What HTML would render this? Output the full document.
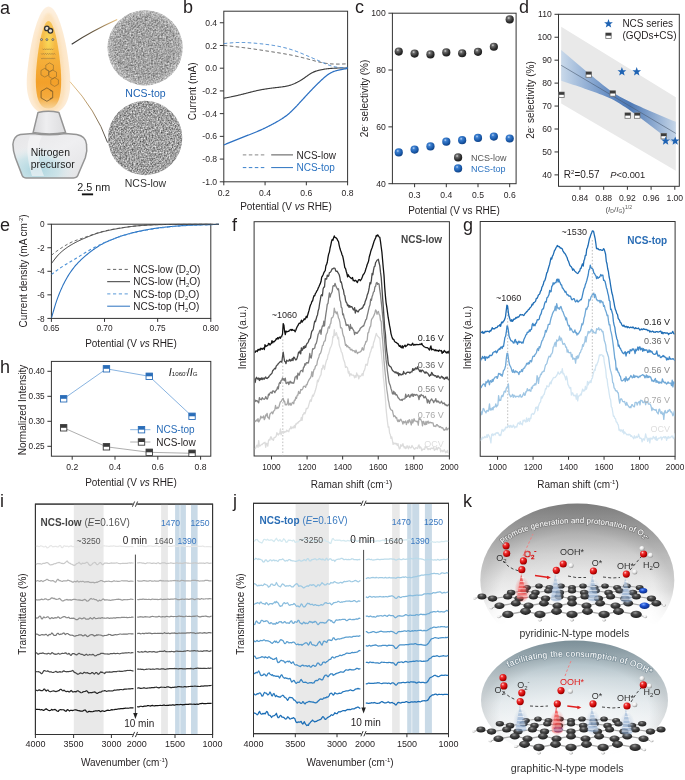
<!DOCTYPE html>
<html><head><meta charset="utf-8"><style>
html,body{margin:0;padding:0;background:#fff;}
svg{display:block;will-change:transform;}
text{font-family:"Liberation Sans", sans-serif;}
</style></head><body>
<svg width="685" height="780" viewBox="0 0 685 780">
<defs><clipPath id="clipb"><rect x="223.8" y="11.2" width="123.80000000000001" height="170.60000000000002"/></clipPath>
<radialGradient id="sphk" cx="0.38" cy="0.32" r="0.7"><stop offset="0" stop-color="#d8d8d8"/><stop offset="0.25" stop-color="#6a6a6a"/><stop offset="0.7" stop-color="#2e2e2e"/><stop offset="1" stop-color="#1a1a1a"/></radialGradient>
<radialGradient id="sphb" cx="0.38" cy="0.32" r="0.7"><stop offset="0" stop-color="#bcd6f5"/><stop offset="0.25" stop-color="#3c7fd0"/><stop offset="0.7" stop-color="#1a5aaa"/><stop offset="1" stop-color="#0e3f82"/></radialGradient>
<clipPath id="clipd"><rect x="558.5" y="14.3" width="120.79999999999995" height="172.0"/></clipPath>
<linearGradient id="dband" x1="561" y1="0" x2="676" y2="0" gradientUnits="userSpaceOnUse"><stop offset="0" stop-color="#c9d9ea"/><stop offset="0.45" stop-color="#5d86bf"/><stop offset="0.6" stop-color="#4e79b5"/><stop offset="1" stop-color="#c6d6e8"/></linearGradient>
<clipPath id="clipe"><rect x="51.4" y="223.2" width="168.4" height="95.19999999999999"/></clipPath>
<clipPath id="clipf"><rect x="254.6" y="222.2" width="194.29999999999998" height="233.3"/></clipPath>
<clipPath id="clipg"><rect x="480.7" y="222.0" width="193.90000000000003" height="233.8"/></clipPath>
<radialGradient id="flo" cx="0.5" cy="0.6" r="0.6"><stop offset="0" stop-color="#fbdcae"/><stop offset="0.7" stop-color="#fde8cc"/><stop offset="1" stop-color="#fdf0e0"/></radialGradient>
<linearGradient id="fli" x1="0" y1="0" x2="0" y2="1"><stop offset="0" stop-color="#f7c456"/><stop offset="0.3" stop-color="#f6b842"/><stop offset="0.7" stop-color="#f3a02a"/><stop offset="0.87" stop-color="#f4aa3c"/><stop offset="1" stop-color="#f8d49a"/></linearGradient>
<radialGradient id="flh" cx="0.5" cy="0.3" r="0.5"><stop offset="0" stop-color="#f9dc5a" stop-opacity="0.9"/><stop offset="1" stop-color="#f9dc5a" stop-opacity="0"/></radialGradient>
<linearGradient id="neck" x1="0" y1="0" x2="1" y2="0"><stop offset="0" stop-color="#d8d8da"/><stop offset="0.4" stop-color="#eeeef0"/><stop offset="1" stop-color="#dcdcde"/></linearGradient>
<linearGradient id="bot" x1="0" y1="0" x2="1" y2="1"><stop offset="0" stop-color="#e6e6e8"/><stop offset="0.5" stop-color="#efeff1"/><stop offset="1" stop-color="#e2e2e4"/></linearGradient>
<radialGradient id="botc" cx="0.32" cy="0.82" r="0.55"><stop offset="0" stop-color="#a9d4de"/><stop offset="0.55" stop-color="#c6e2e8" stop-opacity="0.8"/><stop offset="1" stop-color="#e8f0f2" stop-opacity="0"/></radialGradient>
<linearGradient id="ln1" x1="71.7" y1="44.2" x2="117" y2="20" gradientUnits="userSpaceOnUse"><stop offset="0" stop-color="#333"/><stop offset="0.5" stop-color="#6b5a40"/><stop offset="1" stop-color="#e8c080"/></linearGradient>
<linearGradient id="ln2" x1="70" y1="81.7" x2="107.5" y2="142.5" gradientUnits="userSpaceOnUse"><stop offset="0" stop-color="#e8c080"/><stop offset="0.5" stop-color="#a08050"/><stop offset="1" stop-color="#333"/></linearGradient>
<filter id="tem1" x="0" y="0" width="1" height="1" color-interpolation-filters="sRGB"><feTurbulence type="fractalNoise" baseFrequency="0.6" numOctaves="2" seed="4"/><feColorMatrix type="matrix" values="0.7 0 0 0 0.29  0.7 0 0 0 0.29  0.7 0 0 0 0.29  0 0 0 0 1"/><feGaussianBlur stdDeviation="0.35"/></filter>
<filter id="tem2" x="0" y="0" width="1" height="1" color-interpolation-filters="sRGB"><feTurbulence type="fractalNoise" baseFrequency="0.65" numOctaves="2" seed="9"/><feColorMatrix type="matrix" values="0.9 0 0 0 0.18  0.9 0 0 0 0.18  0.9 0 0 0 0.18  0 0 0 0 1"/><feGaussianBlur stdDeviation="0.3"/></filter>
<clipPath id="c1"><circle cx="145.1" cy="47.8" r="37.6"/></clipPath>
<clipPath id="c2"><circle cx="145.1" cy="138" r="37.2"/></clipPath>
<radialGradient id="temring" cx="0.5" cy="0.5" r="0.5"><stop offset="0.8" stop-color="#fff" stop-opacity="0"/><stop offset="1" stop-color="#fff" stop-opacity="0.25"/></radialGradient>
<filter id="blur1" x="-0.3" y="-0.3" width="1.6" height="1.6"><feGaussianBlur stdDeviation="1.6"/></filter>
<filter id="blur2" x="-0.3" y="-0.3" width="1.6" height="1.6"><feGaussianBlur stdDeviation="0.8"/></filter>
<filter id="blur3" x="-0.3" y="-0.3" width="1.6" height="1.6"><feGaussianBlur stdDeviation="0.5"/></filter>
<linearGradient id="dome1" x1="0" y1="503" x2="0" y2="625" gradientUnits="userSpaceOnUse"><stop offset="0" stop-color="#8a8a8a"/><stop offset="0.18" stop-color="#a6a6a6"/><stop offset="0.42" stop-color="#cdcdcd"/><stop offset="0.65" stop-color="#e6e6e6"/><stop offset="0.85" stop-color="#f6f6f6"/><stop offset="1" stop-color="#ffffff"/></linearGradient>
<linearGradient id="dome2" x1="0" y1="640" x2="0" y2="760" gradientUnits="userSpaceOnUse"><stop offset="0" stop-color="#889ea8"/><stop offset="0.13" stop-color="#a6b8c0"/><stop offset="0.32" stop-color="#ccd7dc"/><stop offset="0.52" stop-color="#e4eaed"/><stop offset="0.75" stop-color="#f4f6f7"/><stop offset="1" stop-color="#ffffff"/></linearGradient>
<radialGradient id="domeh" cx="0.5" cy="0.72" r="0.5"><stop offset="0" stop-color="#fff" stop-opacity="0.55"/><stop offset="0.7" stop-color="#fff" stop-opacity="0.15"/><stop offset="1" stop-color="#fff" stop-opacity="0"/></radialGradient>
<radialGradient id="domer" cx="0.5" cy="0.6" r="0.5"><stop offset="0.8" stop-color="#000" stop-opacity="0"/><stop offset="1" stop-color="#000" stop-opacity="0.10"/></radialGradient>
<linearGradient id="fadeA" x1="0" y1="590" x2="0" y2="626" gradientUnits="userSpaceOnUse"><stop offset="0" stop-color="#fff"/><stop offset="1" stop-color="#000"/></linearGradient>
<linearGradient id="fadeB" x1="0" y1="724" x2="0" y2="760" gradientUnits="userSpaceOnUse"><stop offset="0" stop-color="#fff"/><stop offset="1" stop-color="#000"/></linearGradient>
<mask id="mA" maskUnits="userSpaceOnUse" x="470" y="495" width="215" height="140"><rect x="470" y="495" width="215" height="140" fill="url(#fadeA)"/></mask>
<mask id="mB" maskUnits="userSpaceOnUse" x="470" y="630" width="215" height="150"><rect x="470" y="630" width="215" height="150" fill="url(#fadeB)"/></mask>
<radialGradient id="oat" cx="0.35" cy="0.3" r="0.7"><stop offset="0" stop-color="#ffd0d0"/><stop offset="0.3" stop-color="#f03030"/><stop offset="0.8" stop-color="#c00000"/><stop offset="1" stop-color="#900000"/></radialGradient>
<radialGradient id="hat" cx="0.35" cy="0.3" r="0.7"><stop offset="0" stop-color="#ffffff"/><stop offset="0.55" stop-color="#e8e8e8"/><stop offset="1" stop-color="#9a9a9a"/></radialGradient>
<radialGradient id="cat" cx="0.42" cy="0.3" r="0.72"><stop offset="0" stop-color="#9a9a9a"/><stop offset="0.35" stop-color="#4a4a4a"/><stop offset="1" stop-color="#181818"/></radialGradient>
<radialGradient id="nat" cx="0.4" cy="0.3" r="0.7"><stop offset="0" stop-color="#7aa8ff"/><stop offset="0.4" stop-color="#1c4fd0"/><stop offset="1" stop-color="#0a2a80"/></radialGradient>
<linearGradient id="conered" x1="0" y1="0" x2="0" y2="1"><stop offset="0" stop-color="#f04040" stop-opacity="0.95"/><stop offset="1" stop-color="#f06060" stop-opacity="0.45"/></linearGradient>
<linearGradient id="coneblue" x1="0" y1="0" x2="0" y2="1"><stop offset="0" stop-color="#a4bcd8" stop-opacity="0.7"/><stop offset="1" stop-color="#88a6cc" stop-opacity="0.5"/></linearGradient>
<radialGradient id="coneglowb" cx="0.5" cy="0.6" r="0.5"><stop offset="0" stop-color="#8eaad0" stop-opacity="0.55"/><stop offset="1" stop-color="#8eaad0" stop-opacity="0"/></radialGradient>
<radialGradient id="coneglowr" cx="0.5" cy="0.6" r="0.5"><stop offset="0" stop-color="#f03a3a" stop-opacity="0.7"/><stop offset="1" stop-color="#f03a3a" stop-opacity="0"/></radialGradient>
<path id="arc1" d="M500,547 C526,516 628,514 658,548"/>
<path id="arc2" d="M506,669 C530,652 615,650 654,677"/></defs>
<text x="0" y="14" font-size="18" text-anchor="start" fill="#231f20">a</text>
<text x="183" y="13" font-size="18" text-anchor="start" fill="#231f20">b</text>
<text x="355" y="13" font-size="18" text-anchor="start" fill="#231f20">c</text>
<text x="519" y="13" font-size="18" text-anchor="start" fill="#231f20">d</text>
<text x="0" y="231" font-size="18" text-anchor="start" fill="#231f20">e</text>
<text x="232" y="231" font-size="18" text-anchor="start" fill="#231f20">f</text>
<text x="463" y="231" font-size="18" text-anchor="start" fill="#231f20">g</text>
<text x="0" y="373" font-size="18" text-anchor="start" fill="#231f20">h</text>
<text x="0" y="507" font-size="18" text-anchor="start" fill="#231f20">i</text>
<text x="233" y="507" font-size="18" text-anchor="start" fill="#231f20">j</text>
<text x="463" y="507" font-size="18" text-anchor="start" fill="#231f20">k</text>
<rect x="223.8" y="11.2" width="123.8" height="170.6" fill="none" stroke="#333" stroke-width="1"/>
<line x1="219.8" y1="22.76" x2="223.8" y2="22.76" stroke="#333" stroke-width="1"/>
<text x="217.1" y="25.86" font-size="8.6" text-anchor="end" fill="#231f20">0.4</text>
<line x1="219.8" y1="45.48" x2="223.8" y2="45.48" stroke="#333" stroke-width="1"/>
<text x="217.1" y="48.58" font-size="8.6" text-anchor="end" fill="#231f20">0.2</text>
<line x1="219.8" y1="68.2" x2="223.8" y2="68.2" stroke="#333" stroke-width="1"/>
<text x="217.1" y="71.3" font-size="8.6" text-anchor="end" fill="#231f20">0.0</text>
<line x1="219.8" y1="90.92" x2="223.8" y2="90.92" stroke="#333" stroke-width="1"/>
<text x="217.1" y="94.02" font-size="8.6" text-anchor="end" fill="#231f20">-0.2</text>
<line x1="219.8" y1="113.64" x2="223.8" y2="113.64" stroke="#333" stroke-width="1"/>
<text x="217.1" y="116.74" font-size="8.6" text-anchor="end" fill="#231f20">-0.4</text>
<line x1="219.8" y1="136.36" x2="223.8" y2="136.36" stroke="#333" stroke-width="1"/>
<text x="217.1" y="139.46" font-size="8.6" text-anchor="end" fill="#231f20">-0.6</text>
<line x1="219.8" y1="159.08" x2="223.8" y2="159.08" stroke="#333" stroke-width="1"/>
<text x="217.1" y="162.18" font-size="8.6" text-anchor="end" fill="#231f20">-0.8</text>
<line x1="219.8" y1="181.8" x2="223.8" y2="181.8" stroke="#333" stroke-width="1"/>
<text x="217.1" y="184.9" font-size="8.6" text-anchor="end" fill="#231f20">-1.0</text>
<line x1="223.8" y1="181.8" x2="223.8" y2="185.3" stroke="#333" stroke-width="1"/>
<text x="223.8" y="196" font-size="8.6" text-anchor="middle" fill="#231f20">0.2</text>
<line x1="265.07" y1="181.8" x2="265.07" y2="185.3" stroke="#333" stroke-width="1"/>
<text x="265.07" y="196" font-size="8.6" text-anchor="middle" fill="#231f20">0.4</text>
<line x1="306.33" y1="181.8" x2="306.33" y2="185.3" stroke="#333" stroke-width="1"/>
<text x="306.33" y="196" font-size="8.6" text-anchor="middle" fill="#231f20">0.6</text>
<line x1="347.6" y1="181.8" x2="347.6" y2="185.3" stroke="#333" stroke-width="1"/>
<text x="347.6" y="196" font-size="8.6" text-anchor="middle" fill="#231f20">0.8</text>
<text x="286" y="209.5" font-size="10" text-anchor="middle" fill="#231f20">Potential (V <tspan font-style="italic">vs</tspan> RHE)</text>
<text x="196.5" y="91.3" font-size="10" text-anchor="middle" fill="#231f20" transform="rotate(-90 196.5 91.3)">Current (mA)</text>
<rect x="392.4" y="13.2" width="123.7" height="170.5" fill="none" stroke="#333" stroke-width="1"/>
<line x1="388.4" y1="13.2" x2="392.4" y2="13.2" stroke="#333" stroke-width="1"/>
<text x="385.7" y="16.3" font-size="8.6" text-anchor="end" fill="#231f20">100</text>
<line x1="388.4" y1="70.03" x2="392.4" y2="70.03" stroke="#333" stroke-width="1"/>
<text x="385.7" y="73.13" font-size="8.6" text-anchor="end" fill="#231f20">80</text>
<line x1="388.4" y1="126.87" x2="392.4" y2="126.87" stroke="#333" stroke-width="1"/>
<text x="385.7" y="129.97" font-size="8.6" text-anchor="end" fill="#231f20">60</text>
<line x1="388.4" y1="183.7" x2="392.4" y2="183.7" stroke="#333" stroke-width="1"/>
<text x="385.7" y="186.8" font-size="8.6" text-anchor="end" fill="#231f20">40</text>
<line x1="414.6" y1="183.7" x2="414.6" y2="187.2" stroke="#333" stroke-width="1"/>
<text x="414.6" y="197.5" font-size="8.6" text-anchor="middle" fill="#231f20">0.3</text>
<line x1="446.3" y1="183.7" x2="446.3" y2="187.2" stroke="#333" stroke-width="1"/>
<text x="446.3" y="197.5" font-size="8.6" text-anchor="middle" fill="#231f20">0.4</text>
<line x1="478" y1="183.7" x2="478" y2="187.2" stroke="#333" stroke-width="1"/>
<text x="478" y="197.5" font-size="8.6" text-anchor="middle" fill="#231f20">0.5</text>
<line x1="509.7" y1="183.7" x2="509.7" y2="187.2" stroke="#333" stroke-width="1"/>
<text x="509.7" y="197.5" font-size="8.6" text-anchor="middle" fill="#231f20">0.6</text>
<text x="454" y="214" font-size="10" text-anchor="middle" fill="#231f20">Potential (V vs RHE)</text>
<text x="368" y="98.5" font-size="10" text-anchor="middle" fill="#231f20" transform="rotate(-90 368 98.5)">2e<tspan font-size="6" dy="-4">-</tspan><tspan dy="4"> selectivity (%)</tspan></text>
<rect x="558.5" y="14.3" width="120.8" height="172" fill="none" stroke="#333" stroke-width="1"/>
<line x1="554.5" y1="14.3" x2="558.5" y2="14.3" stroke="#333" stroke-width="1"/>
<text x="551.8" y="17.4" font-size="8.6" text-anchor="end" fill="#231f20">110</text>
<line x1="554.5" y1="37.24" x2="558.5" y2="37.24" stroke="#333" stroke-width="1"/>
<text x="551.8" y="40.34" font-size="8.6" text-anchor="end" fill="#231f20">100</text>
<line x1="554.5" y1="60.18" x2="558.5" y2="60.18" stroke="#333" stroke-width="1"/>
<text x="551.8" y="63.28" font-size="8.6" text-anchor="end" fill="#231f20">90</text>
<line x1="554.5" y1="83.12" x2="558.5" y2="83.12" stroke="#333" stroke-width="1"/>
<text x="551.8" y="86.22" font-size="8.6" text-anchor="end" fill="#231f20">80</text>
<line x1="554.5" y1="106.06" x2="558.5" y2="106.06" stroke="#333" stroke-width="1"/>
<text x="551.8" y="109.16" font-size="8.6" text-anchor="end" fill="#231f20">70</text>
<line x1="554.5" y1="129" x2="558.5" y2="129" stroke="#333" stroke-width="1"/>
<text x="551.8" y="132.1" font-size="8.6" text-anchor="end" fill="#231f20">60</text>
<line x1="554.5" y1="151.94" x2="558.5" y2="151.94" stroke="#333" stroke-width="1"/>
<text x="551.8" y="155.04" font-size="8.6" text-anchor="end" fill="#231f20">50</text>
<line x1="554.5" y1="174.88" x2="558.5" y2="174.88" stroke="#333" stroke-width="1"/>
<text x="551.8" y="177.98" font-size="8.6" text-anchor="end" fill="#231f20">40</text>
<line x1="580" y1="186.3" x2="580" y2="189.8" stroke="#333" stroke-width="1"/>
<text x="580" y="201" font-size="8.6" text-anchor="middle" fill="#231f20">0.84</text>
<line x1="603.7" y1="186.3" x2="603.7" y2="189.8" stroke="#333" stroke-width="1"/>
<text x="603.7" y="201" font-size="8.6" text-anchor="middle" fill="#231f20">0.88</text>
<line x1="627.4" y1="186.3" x2="627.4" y2="189.8" stroke="#333" stroke-width="1"/>
<text x="627.4" y="201" font-size="8.6" text-anchor="middle" fill="#231f20">0.92</text>
<line x1="651.1" y1="186.3" x2="651.1" y2="189.8" stroke="#333" stroke-width="1"/>
<text x="651.1" y="201" font-size="8.6" text-anchor="middle" fill="#231f20">0.96</text>
<line x1="674.8" y1="186.3" x2="674.8" y2="189.8" stroke="#333" stroke-width="1"/>
<text x="674.8" y="201" font-size="8.6" text-anchor="middle" fill="#231f20">1.00</text>
<text x="534" y="100" font-size="10" text-anchor="middle" fill="#231f20" transform="rotate(-90 534 100)">2e<tspan font-size="6" dy="-4">-</tspan><tspan dy="4"> selectivity (%)</tspan></text>
<rect x="51.4" y="224.2" width="159.4" height="94.2" fill="none" stroke="#333" stroke-width="1"/>
<line x1="47.4" y1="224.2" x2="51.4" y2="224.2" stroke="#333" stroke-width="1"/>
<text x="44.7" y="227.3" font-size="8.3" text-anchor="end" fill="#231f20">0</text>
<line x1="47.4" y1="247.75" x2="51.4" y2="247.75" stroke="#333" stroke-width="1"/>
<text x="44.7" y="250.85" font-size="8.3" text-anchor="end" fill="#231f20">-2</text>
<line x1="47.4" y1="271.3" x2="51.4" y2="271.3" stroke="#333" stroke-width="1"/>
<text x="44.7" y="274.4" font-size="8.3" text-anchor="end" fill="#231f20">-4</text>
<line x1="47.4" y1="294.85" x2="51.4" y2="294.85" stroke="#333" stroke-width="1"/>
<text x="44.7" y="297.95" font-size="8.3" text-anchor="end" fill="#231f20">-6</text>
<line x1="47.4" y1="318.4" x2="51.4" y2="318.4" stroke="#333" stroke-width="1"/>
<text x="44.7" y="321.5" font-size="8.3" text-anchor="end" fill="#231f20">-8</text>
<line x1="51.4" y1="318.4" x2="51.4" y2="321.9" stroke="#333" stroke-width="1"/>
<text x="51.4" y="330.5" font-size="8.3" text-anchor="middle" fill="#231f20">0.65</text>
<line x1="104.53" y1="318.4" x2="104.53" y2="321.9" stroke="#333" stroke-width="1"/>
<text x="104.53" y="330.5" font-size="8.3" text-anchor="middle" fill="#231f20">0.70</text>
<line x1="157.67" y1="318.4" x2="157.67" y2="321.9" stroke="#333" stroke-width="1"/>
<text x="157.67" y="330.5" font-size="8.3" text-anchor="middle" fill="#231f20">0.75</text>
<line x1="210.8" y1="318.4" x2="210.8" y2="321.9" stroke="#333" stroke-width="1"/>
<text x="210.8" y="330.5" font-size="8.3" text-anchor="middle" fill="#231f20">0.80</text>
<text x="131" y="347" font-size="10" text-anchor="middle" fill="#231f20">Potential (V <tspan font-style="italic">vs</tspan> RHE)</text>
<text x="27" y="271" font-size="10" text-anchor="middle" fill="#231f20" transform="rotate(-90 27 271)">Current density (mA cm<tspan font-size="6" dy="-4">-2</tspan><tspan dy="4">)</tspan></text>
<rect x="51.4" y="361.4" width="159.4" height="94.8" fill="none" stroke="#333" stroke-width="1"/>
<line x1="47.4" y1="371.3" x2="51.4" y2="371.3" stroke="#333" stroke-width="1"/>
<text x="44.7" y="374.4" font-size="8.3" text-anchor="end" fill="#231f20">0.40</text>
<line x1="47.4" y1="396.3" x2="51.4" y2="396.3" stroke="#333" stroke-width="1"/>
<text x="44.7" y="399.4" font-size="8.3" text-anchor="end" fill="#231f20">0.35</text>
<line x1="47.4" y1="421.3" x2="51.4" y2="421.3" stroke="#333" stroke-width="1"/>
<text x="44.7" y="424.4" font-size="8.3" text-anchor="end" fill="#231f20">0.30</text>
<line x1="47.4" y1="446.3" x2="51.4" y2="446.3" stroke="#333" stroke-width="1"/>
<text x="44.7" y="449.4" font-size="8.3" text-anchor="end" fill="#231f20">0.25</text>
<line x1="72.2" y1="456.2" x2="72.2" y2="459.7" stroke="#333" stroke-width="1"/>
<text x="72.2" y="470" font-size="8.6" text-anchor="middle" fill="#231f20">0.2</text>
<line x1="115" y1="456.2" x2="115" y2="459.7" stroke="#333" stroke-width="1"/>
<text x="115" y="470" font-size="8.6" text-anchor="middle" fill="#231f20">0.4</text>
<line x1="157.8" y1="456.2" x2="157.8" y2="459.7" stroke="#333" stroke-width="1"/>
<text x="157.8" y="470" font-size="8.6" text-anchor="middle" fill="#231f20">0.6</text>
<line x1="200.6" y1="456.2" x2="200.6" y2="459.7" stroke="#333" stroke-width="1"/>
<text x="200.6" y="470" font-size="8.6" text-anchor="middle" fill="#231f20">0.8</text>
<text x="131" y="486" font-size="10" text-anchor="middle" fill="#231f20">Potential (V <tspan font-style="italic">vs</tspan> RHE)</text>
<text x="25.5" y="410" font-size="10" text-anchor="middle" fill="#231f20" transform="rotate(-90 25.5 410)">Normalized Intensity</text>
<rect x="254.1" y="221.7" width="195.3" height="234.3" fill="none" stroke="#333" stroke-width="1"/>
<line x1="271.49" y1="456" x2="271.49" y2="459.5" stroke="#333" stroke-width="1"/>
<text x="271.49" y="470" font-size="8.3" text-anchor="middle" fill="#231f20">1000</text>
<line x1="307.07" y1="456" x2="307.07" y2="459.5" stroke="#333" stroke-width="1"/>
<text x="307.07" y="470" font-size="8.3" text-anchor="middle" fill="#231f20">1200</text>
<line x1="342.65" y1="456" x2="342.65" y2="459.5" stroke="#333" stroke-width="1"/>
<text x="342.65" y="470" font-size="8.3" text-anchor="middle" fill="#231f20">1400</text>
<line x1="378.23" y1="456" x2="378.23" y2="459.5" stroke="#333" stroke-width="1"/>
<text x="378.23" y="470" font-size="8.3" text-anchor="middle" fill="#231f20">1600</text>
<line x1="413.81" y1="456" x2="413.81" y2="459.5" stroke="#333" stroke-width="1"/>
<text x="413.81" y="470" font-size="8.3" text-anchor="middle" fill="#231f20">1800</text>
<line x1="449.39" y1="456" x2="449.39" y2="459.5" stroke="#333" stroke-width="1"/>
<text x="449.39" y="470" font-size="8.3" text-anchor="middle" fill="#231f20">2000</text>
<text x="351.5" y="488" font-size="10" text-anchor="middle" fill="#231f20">Raman shift (cm<tspan font-size="6" dy="-4">-1</tspan><tspan dy="4">)</tspan></text>
<text x="246" y="337.5" font-size="10" text-anchor="middle" fill="#231f20" transform="rotate(-90 246 337.5)">Intensity (a.u.)</text>
<rect x="480.2" y="221.5" width="194.9" height="234.8" fill="none" stroke="#333" stroke-width="1"/>
<line x1="497.55" y1="456.3" x2="497.55" y2="459.8" stroke="#333" stroke-width="1"/>
<text x="497.55" y="470" font-size="8.3" text-anchor="middle" fill="#231f20">1000</text>
<line x1="533.05" y1="456.3" x2="533.05" y2="459.8" stroke="#333" stroke-width="1"/>
<text x="533.05" y="470" font-size="8.3" text-anchor="middle" fill="#231f20">1200</text>
<line x1="568.55" y1="456.3" x2="568.55" y2="459.8" stroke="#333" stroke-width="1"/>
<text x="568.55" y="470" font-size="8.3" text-anchor="middle" fill="#231f20">1400</text>
<line x1="604.05" y1="456.3" x2="604.05" y2="459.8" stroke="#333" stroke-width="1"/>
<text x="604.05" y="470" font-size="8.3" text-anchor="middle" fill="#231f20">1600</text>
<line x1="639.55" y1="456.3" x2="639.55" y2="459.8" stroke="#333" stroke-width="1"/>
<text x="639.55" y="470" font-size="8.3" text-anchor="middle" fill="#231f20">1800</text>
<line x1="675.05" y1="456.3" x2="675.05" y2="459.8" stroke="#333" stroke-width="1"/>
<text x="675.05" y="470" font-size="8.3" text-anchor="middle" fill="#231f20">2000</text>
<text x="578" y="488" font-size="10" text-anchor="middle" fill="#231f20">Raman shift (cm<tspan font-size="6" dy="-4">-1</tspan><tspan dy="4">)</tspan></text>
<text x="471.5" y="337.6" font-size="10" text-anchor="middle" fill="#231f20" transform="rotate(-90 471.5 337.6)">Intensity (a.u.)</text>
<rect x="35.4" y="504.1" width="177.2" height="230.4" fill="none" stroke="#333" stroke-width="1"/>
<line x1="35.4" y1="734.5" x2="35.4" y2="738" stroke="#333" stroke-width="1"/>
<line x1="73.6" y1="734.5" x2="73.6" y2="738" stroke="#333" stroke-width="1"/>
<line x1="111.4" y1="734.5" x2="111.4" y2="738" stroke="#333" stroke-width="1"/>
<line x1="175" y1="734.5" x2="175" y2="738" stroke="#333" stroke-width="1"/>
<line x1="212.6" y1="734.5" x2="212.6" y2="738" stroke="#333" stroke-width="1"/>
<text x="35.4" y="746.9" font-size="9" text-anchor="middle" fill="#231f20">4000</text>
<text x="73.6" y="746.9" font-size="9" text-anchor="middle" fill="#231f20">3500</text>
<text x="111.4" y="746.9" font-size="9" text-anchor="middle" fill="#231f20">3000</text>
<text x="136.8" y="746.9" font-size="9" text-anchor="middle" fill="#231f20">2000</text>
<text x="175" y="746.9" font-size="9" text-anchor="middle" fill="#231f20">1500</text>
<text x="212.6" y="746.9" font-size="9" text-anchor="middle" fill="#231f20">1000</text>
<text x="124.5" y="766" font-size="10" text-anchor="middle" fill="#231f20">Wavenumber (cm<tspan font-size="6" dy="-4">-1</tspan><tspan dy="4">)</tspan></text>
<text x="26" y="614" font-size="10" text-anchor="middle" fill="#231f20" transform="rotate(-90 26 614)">Transmittance (%)</text>
<rect x="253.5" y="503.3" width="195" height="230.4" fill="none" stroke="#333" stroke-width="1"/>
<line x1="253.5" y1="733.7" x2="253.5" y2="737.2" stroke="#333" stroke-width="1"/>
<line x1="295.3" y1="733.7" x2="295.3" y2="737.2" stroke="#333" stroke-width="1"/>
<line x1="337" y1="733.7" x2="337" y2="737.2" stroke="#333" stroke-width="1"/>
<line x1="406.9" y1="733.7" x2="406.9" y2="737.2" stroke="#333" stroke-width="1"/>
<line x1="448.5" y1="733.7" x2="448.5" y2="737.2" stroke="#333" stroke-width="1"/>
<text x="253.5" y="746.9" font-size="9" text-anchor="middle" fill="#231f20">4000</text>
<text x="295.3" y="746.9" font-size="9" text-anchor="middle" fill="#231f20">3500</text>
<text x="337" y="746.9" font-size="9" text-anchor="middle" fill="#231f20">3000</text>
<text x="365.1" y="746.9" font-size="9" text-anchor="middle" fill="#231f20">2000</text>
<text x="406.9" y="746.9" font-size="9" text-anchor="middle" fill="#231f20">1500</text>
<text x="448.5" y="746.9" font-size="9" text-anchor="middle" fill="#231f20">1000</text>
<text x="350" y="766" font-size="10" text-anchor="middle" fill="#231f20">Wavenumber (cm<tspan font-size="6" dy="-4">-1</tspan><tspan dy="4">)</tspan></text>
<text x="244" y="614" font-size="10" text-anchor="middle" fill="#231f20" transform="rotate(-90 244 614)">Transmittance (%)</text>
<polyline points="223.8,98.3 224.42,98.18 225.04,98.06 225.67,97.93 226.29,97.81 226.91,97.69 227.53,97.56 228.15,97.44 228.78,97.31 229.4,97.19 230.02,97.06 230.64,96.94 231.27,96.81 231.89,96.68 232.51,96.55 233.13,96.42 233.75,96.28 234.38,96.15 235,96.01 235.62,95.88 236.24,95.74 236.86,95.6 237.49,95.46 238.11,95.31 238.73,95.16 239.35,95.02 239.97,94.86 240.6,94.71 241.22,94.56 241.84,94.4 242.46,94.25 243.09,94.09 243.71,93.93 244.33,93.77 244.95,93.61 245.57,93.45 246.2,93.28 246.82,93.12 247.44,92.96 248.06,92.8 248.68,92.64 249.31,92.48 249.93,92.32 250.55,92.16 251.17,92 251.79,91.85 252.42,91.69 253.04,91.54 253.66,91.39 254.28,91.24 254.91,91.09 255.53,90.95 256.15,90.81 256.77,90.67 257.39,90.53 258.02,90.4 258.64,90.27 259.26,90.14 259.88,90.01 260.5,89.89 261.13,89.78 261.75,89.66 262.37,89.55 262.99,89.44 263.62,89.33 264.24,89.22 264.86,89.12 265.48,89.02 266.1,88.92 266.73,88.83 267.35,88.74 267.97,88.64 268.59,88.55 269.21,88.47 269.84,88.38 270.46,88.3 271.08,88.21 271.7,88.13 272.32,88.05 272.95,87.98 273.57,87.9 274.19,87.83 274.81,87.75 275.44,87.68 276.06,87.61 276.68,87.54 277.3,87.47 277.92,87.4 278.55,87.33 279.17,87.26 279.79,87.19 280.41,87.11 281.03,87.04 281.66,86.96 282.28,86.87 282.9,86.79 283.52,86.69 284.14,86.59 284.77,86.49 285.39,86.38 286.01,86.26 286.63,86.13 287.26,85.99 287.88,85.84 288.5,85.69 289.12,85.52 289.74,85.34 290.37,85.15 290.99,84.94 291.61,84.73 292.23,84.5 292.85,84.26 293.48,84.01 294.1,83.74 294.72,83.47 295.34,83.18 295.96,82.89 296.59,82.58 297.21,82.27 297.83,81.94 298.45,81.6 299.08,81.26 299.7,80.9 300.32,80.54 300.94,80.16 301.56,79.78 302.19,79.39 302.81,78.99 303.43,78.58 304.05,78.16 304.67,77.73 305.3,77.29 305.92,76.84 306.54,76.39 307.16,75.94 307.78,75.49 308.41,75.05 309.03,74.62 309.65,74.2 310.27,73.8 310.9,73.42 311.52,73.06 312.14,72.73 312.76,72.42 313.38,72.13 314.01,71.86 314.63,71.61 315.25,71.38 315.87,71.16 316.49,70.96 317.12,70.76 317.74,70.58 318.36,70.41 318.98,70.25 319.61,70.1 320.23,69.96 320.85,69.82 321.47,69.7 322.09,69.58 322.72,69.46 323.34,69.35 323.96,69.25 324.58,69.15 325.2,69.05 325.83,68.96 326.45,68.88 327.07,68.8 327.69,68.72 328.31,68.65 328.94,68.59 329.56,68.52 330.18,68.47 330.8,68.41 331.43,68.36 332.05,68.32 332.67,68.27 333.29,68.23 333.91,68.2 334.54,68.17 335.16,68.14 335.78,68.11 336.4,68.09 337.02,68.07 337.65,68.05 338.27,68.04 338.89,68.02 339.51,68.01 340.13,68 340.76,68 341.38,67.99 342,67.99 342.62,67.99 343.25,67.99 343.87,67.99 344.49,67.99 345.11,67.99 345.73,67.99 346.36,67.99 346.98,68 347.6,68" fill="none" stroke="#3c3c3c" stroke-width="1.15" stroke-linejoin="round"/>
<polyline points="223.8,145 224.42,144.74 225.04,144.47 225.67,144.21 226.29,143.95 226.91,143.68 227.53,143.42 228.15,143.16 228.78,142.89 229.4,142.63 230.02,142.37 230.64,142.11 231.27,141.85 231.89,141.59 232.51,141.33 233.13,141.08 233.75,140.82 234.38,140.56 235,140.31 235.62,140.06 236.24,139.8 236.86,139.55 237.49,139.3 238.11,139.05 238.73,138.81 239.35,138.56 239.97,138.32 240.6,138.07 241.22,137.83 241.84,137.59 242.46,137.35 243.09,137.11 243.71,136.87 244.33,136.63 244.95,136.39 245.57,136.16 246.2,135.92 246.82,135.68 247.44,135.44 248.06,135.2 248.68,134.96 249.31,134.72 249.93,134.48 250.55,134.24 251.17,133.99 251.79,133.75 252.42,133.5 253.04,133.25 253.66,133 254.28,132.75 254.91,132.5 255.53,132.24 256.15,131.98 256.77,131.72 257.39,131.46 258.02,131.19 258.64,130.92 259.26,130.65 259.88,130.38 260.5,130.1 261.13,129.82 261.75,129.54 262.37,129.25 262.99,128.96 263.62,128.67 264.24,128.37 264.86,128.08 265.48,127.77 266.1,127.47 266.73,127.16 267.35,126.86 267.97,126.54 268.59,126.23 269.21,125.91 269.84,125.59 270.46,125.27 271.08,124.94 271.7,124.61 272.32,124.28 272.95,123.95 273.57,123.61 274.19,123.27 274.81,122.93 275.44,122.58 276.06,122.23 276.68,121.88 277.3,121.53 277.92,121.17 278.55,120.81 279.17,120.45 279.79,120.07 280.41,119.7 281.03,119.31 281.66,118.92 282.28,118.53 282.9,118.12 283.52,117.7 284.14,117.27 284.77,116.83 285.39,116.38 286.01,115.92 286.63,115.45 287.26,114.96 287.88,114.45 288.5,113.93 289.12,113.4 289.74,112.85 290.37,112.28 290.99,111.71 291.61,111.12 292.23,110.52 292.85,109.9 293.48,109.28 294.1,108.65 294.72,108.01 295.34,107.37 295.96,106.71 296.59,106.06 297.21,105.39 297.83,104.72 298.45,104.05 299.08,103.38 299.7,102.7 300.32,102.03 300.94,101.35 301.56,100.67 302.19,99.99 302.81,99.31 303.43,98.64 304.05,97.96 304.67,97.28 305.3,96.61 305.92,95.93 306.54,95.26 307.16,94.59 307.78,93.92 308.41,93.25 309.03,92.59 309.65,91.93 310.27,91.27 310.9,90.61 311.52,89.96 312.14,89.32 312.76,88.67 313.38,88.03 314.01,87.39 314.63,86.76 315.25,86.13 315.87,85.51 316.49,84.89 317.12,84.27 317.74,83.66 318.36,83.05 318.98,82.45 319.61,81.85 320.23,81.25 320.85,80.66 321.47,80.08 322.09,79.5 322.72,78.93 323.34,78.37 323.96,77.82 324.58,77.28 325.2,76.75 325.83,76.24 326.45,75.75 327.07,75.27 327.69,74.81 328.31,74.38 328.94,73.96 329.56,73.56 330.18,73.2 330.8,72.85 331.43,72.53 332.05,72.23 332.67,71.95 333.29,71.69 333.91,71.45 334.54,71.23 335.16,71.02 335.78,70.83 336.4,70.65 337.02,70.48 337.65,70.32 338.27,70.17 338.89,70.03 339.51,69.9 340.13,69.77 340.76,69.65 341.38,69.53 342,69.41 342.62,69.3 343.25,69.19 343.87,69.09 344.49,68.99 345.11,68.89 345.73,68.79 346.36,68.69 346.98,68.6 347.6,68.5" fill="none" stroke="#2c70c2" stroke-width="1.25" stroke-linejoin="round"/>
<polyline points="223.8,45.4 224.42,45.47 225.04,45.54 225.67,45.6 226.29,45.67 226.91,45.74 227.53,45.81 228.15,45.88 228.78,45.94 229.4,46.01 230.02,46.08 230.64,46.15 231.27,46.22 231.89,46.29 232.51,46.36 233.13,46.43 233.75,46.5 234.38,46.57 235,46.64 235.62,46.71 236.24,46.78 236.86,46.86 237.49,46.93 238.11,47 238.73,47.07 239.35,47.15 239.97,47.22 240.6,47.3 241.22,47.37 241.84,47.45 242.46,47.52 243.09,47.6 243.71,47.68 244.33,47.76 244.95,47.83 245.57,47.91 246.2,47.99 246.82,48.07 247.44,48.16 248.06,48.24 248.68,48.32 249.31,48.41 249.93,48.49 250.55,48.58 251.17,48.66 251.79,48.75 252.42,48.84 253.04,48.93 253.66,49.01 254.28,49.1 254.91,49.19 255.53,49.29 256.15,49.38 256.77,49.47 257.39,49.56 258.02,49.65 258.64,49.75 259.26,49.84 259.88,49.94 260.5,50.03 261.13,50.13 261.75,50.22 262.37,50.32 262.99,50.41 263.62,50.51 264.24,50.6 264.86,50.7 265.48,50.8 266.1,50.89 266.73,50.99 267.35,51.09 267.97,51.18 268.59,51.28 269.21,51.38 269.84,51.47 270.46,51.57 271.08,51.67 271.7,51.76 272.32,51.86 272.95,51.96 273.57,52.05 274.19,52.15 274.81,52.25 275.44,52.35 276.06,52.44 276.68,52.54 277.3,52.64 277.92,52.74 278.55,52.84 279.17,52.94 279.79,53.04 280.41,53.14 281.03,53.25 281.66,53.35 282.28,53.46 282.9,53.56 283.52,53.67 284.14,53.78 284.77,53.88 285.39,54 286.01,54.11 286.63,54.22 287.26,54.33 287.88,54.45 288.5,54.57 289.12,54.68 289.74,54.81 290.37,54.93 290.99,55.05 291.61,55.18 292.23,55.3 292.85,55.43 293.48,55.56 294.1,55.69 294.72,55.82 295.34,55.96 295.96,56.1 296.59,56.23 297.21,56.37 297.83,56.51 298.45,56.66 299.08,56.8 299.7,56.95 300.32,57.09 300.94,57.24 301.56,57.39 302.19,57.55 302.81,57.7 303.43,57.86 304.05,58.01 304.67,58.17 305.3,58.33 305.92,58.49 306.54,58.66 307.16,58.82 307.78,58.99 308.41,59.16 309.03,59.33 309.65,59.5 310.27,59.67 310.9,59.84 311.52,60.01 312.14,60.19 312.76,60.36 313.38,60.53 314.01,60.7 314.63,60.87 315.25,61.03 315.87,61.2 316.49,61.36 317.12,61.52 317.74,61.68 318.36,61.83 318.98,61.98 319.61,62.13 320.23,62.27 320.85,62.4 321.47,62.54 322.09,62.66 322.72,62.78 323.34,62.9 323.96,63.01 324.58,63.12 325.2,63.22 325.83,63.31 326.45,63.4 327.07,63.48 327.69,63.56 328.31,63.63 328.94,63.7 329.56,63.76 330.18,63.82 330.8,63.87 331.43,63.91 332.05,63.95 332.67,63.98 333.29,64.01 333.91,64.04 334.54,64.06 335.16,64.07 335.78,64.08 336.4,64.09 337.02,64.09 337.65,64.09 338.27,64.09 338.89,64.09 339.51,64.08 340.13,64.07 340.76,64.05 341.38,64.04 342,64.02 342.62,64 343.25,63.98 343.87,63.95 344.49,63.93 345.11,63.91 345.73,63.88 346.36,63.85 346.98,63.83 347.6,63.8" fill="none" stroke="#555" stroke-width="1" stroke-linejoin="round" stroke-dasharray="3.5,2.5"/>
<polyline points="223.8,43.6 224.42,43.53 225.04,43.47 225.67,43.4 226.29,43.33 226.91,43.27 227.53,43.2 228.15,43.14 228.78,43.08 229.4,43.02 230.02,42.96 230.64,42.91 231.27,42.85 231.89,42.8 232.51,42.76 233.13,42.71 233.75,42.67 234.38,42.63 235,42.6 235.62,42.57 236.24,42.54 236.86,42.52 237.49,42.5 238.11,42.49 238.73,42.48 239.35,42.47 239.97,42.47 240.6,42.47 241.22,42.47 241.84,42.48 242.46,42.49 243.09,42.5 243.71,42.51 244.33,42.53 244.95,42.55 245.57,42.58 246.2,42.6 246.82,42.63 247.44,42.66 248.06,42.7 248.68,42.73 249.31,42.77 249.93,42.81 250.55,42.85 251.17,42.9 251.79,42.94 252.42,42.99 253.04,43.04 253.66,43.09 254.28,43.15 254.91,43.2 255.53,43.26 256.15,43.32 256.77,43.38 257.39,43.44 258.02,43.5 258.64,43.56 259.26,43.62 259.88,43.69 260.5,43.75 261.13,43.82 261.75,43.89 262.37,43.95 262.99,44.02 263.62,44.09 264.24,44.17 264.86,44.24 265.48,44.31 266.1,44.39 266.73,44.47 267.35,44.54 267.97,44.63 268.59,44.71 269.21,44.79 269.84,44.88 270.46,44.97 271.08,45.06 271.7,45.15 272.32,45.25 272.95,45.34 273.57,45.44 274.19,45.54 274.81,45.65 275.44,45.76 276.06,45.87 276.68,45.98 277.3,46.1 277.92,46.21 278.55,46.34 279.17,46.46 279.79,46.59 280.41,46.72 281.03,46.86 281.66,46.99 282.28,47.14 282.9,47.28 283.52,47.43 284.14,47.58 284.77,47.74 285.39,47.9 286.01,48.06 286.63,48.23 287.26,48.4 287.88,48.58 288.5,48.76 289.12,48.94 289.74,49.13 290.37,49.32 290.99,49.51 291.61,49.71 292.23,49.91 292.85,50.12 293.48,50.33 294.1,50.54 294.72,50.76 295.34,50.98 295.96,51.2 296.59,51.43 297.21,51.67 297.83,51.9 298.45,52.14 299.08,52.39 299.7,52.63 300.32,52.88 300.94,53.13 301.56,53.39 302.19,53.65 302.81,53.9 303.43,54.16 304.05,54.43 304.67,54.69 305.3,54.96 305.92,55.22 306.54,55.49 307.16,55.75 307.78,56.02 308.41,56.29 309.03,56.56 309.65,56.82 310.27,57.09 310.9,57.36 311.52,57.63 312.14,57.9 312.76,58.16 313.38,58.43 314.01,58.7 314.63,58.97 315.25,59.25 315.87,59.52 316.49,59.79 317.12,60.06 317.74,60.34 318.36,60.61 318.98,60.89 319.61,61.17 320.23,61.45 320.85,61.73 321.47,62.01 322.09,62.29 322.72,62.56 323.34,62.84 323.96,63.11 324.58,63.38 325.2,63.65 325.83,63.91 326.45,64.17 327.07,64.42 327.69,64.66 328.31,64.9 328.94,65.12 329.56,65.34 330.18,65.55 330.8,65.75 331.43,65.94 332.05,66.12 332.67,66.29 333.29,66.45 333.91,66.6 334.54,66.73 335.16,66.86 335.78,66.98 336.4,67.08 337.02,67.18 337.65,67.26 338.27,67.33 338.89,67.39 339.51,67.43 340.13,67.47 340.76,67.5 341.38,67.52 342,67.53 342.62,67.53 343.25,67.53 343.87,67.52 344.49,67.51 345.11,67.49 345.73,67.47 346.36,67.45 346.98,67.42 347.6,67.4" fill="none" stroke="#3a80cc" stroke-width="1" stroke-linejoin="round" stroke-dasharray="3.5,2.5"/>
<line x1="242.8" y1="154.9" x2="266.5" y2="154.9" stroke="#888" stroke-width="1" stroke-dasharray="3.5,2.5"/>
<line x1="271.2" y1="154.9" x2="293" y2="154.9" stroke="#555" stroke-width="1"/>
<text x="296.5" y="158.5" font-size="10" text-anchor="start" fill="#231f20">NCS-low</text>
<line x1="242.8" y1="167.6" x2="266.5" y2="167.6" stroke="#3a80cc" stroke-width="1" stroke-dasharray="3.5,2.5"/>
<line x1="271.2" y1="167.6" x2="293" y2="167.6" stroke="#2a72c0" stroke-width="1"/>
<text x="296.5" y="171.2" font-size="10" text-anchor="start" fill="#2a72c0">NCS-top</text>
<circle cx="398.75" cy="51.56" r="4.1" fill="url(#sphk)"/>
<circle cx="398.75" cy="152.44" r="4.1" fill="url(#sphb)"/>
<circle cx="414.6" cy="53.55" r="4.1" fill="url(#sphk)"/>
<circle cx="414.6" cy="149.6" r="4.1" fill="url(#sphb)"/>
<circle cx="430.45" cy="54.4" r="4.1" fill="url(#sphk)"/>
<circle cx="430.45" cy="146.47" r="4.1" fill="url(#sphb)"/>
<circle cx="446.3" cy="52.41" r="4.1" fill="url(#sphk)"/>
<circle cx="446.3" cy="141.64" r="4.1" fill="url(#sphb)"/>
<circle cx="462.15" cy="53.27" r="4.1" fill="url(#sphk)"/>
<circle cx="462.15" cy="140.22" r="4.1" fill="url(#sphb)"/>
<circle cx="478" cy="51.85" r="4.1" fill="url(#sphk)"/>
<circle cx="478" cy="137.95" r="4.1" fill="url(#sphb)"/>
<circle cx="493.85" cy="46.73" r="4.1" fill="url(#sphk)"/>
<circle cx="493.85" cy="136.53" r="4.1" fill="url(#sphb)"/>
<circle cx="509.7" cy="19.45" r="4.1" fill="url(#sphk)"/>
<circle cx="509.7" cy="138.52" r="4.1" fill="url(#sphb)"/>
<circle cx="458.1" cy="157.4" r="4.1" fill="url(#sphk)"/>
<circle cx="458.1" cy="168.4" r="4.1" fill="url(#sphb)"/>
<text x="471" y="160.6" font-size="9" text-anchor="start" fill="#555">NCS-low</text>
<text x="471" y="171.6" font-size="9" text-anchor="start" fill="#2a72c0">NCS-top</text>
<polygon points="561.2,26.8 675.8,97.3 675.8,170.8 561.2,103.5" fill="#e9e9e9"/>
<polygon points="561.2,49.9 564.14,52.41 567.08,54.92 570.02,57.43 572.95,59.94 575.89,62.44 578.83,64.94 581.77,67.43 584.71,69.91 587.65,72.38 590.58,74.84 593.52,77.29 596.46,79.72 599.4,82.11 602.34,84.48 605.28,86.78 608.22,89.02 611.15,91.15 614.09,93.14 617.03,94.98 619.97,96.68 622.91,98.3 625.85,99.84 628.78,101.33 631.72,102.75 634.66,104.14 637.6,105.49 640.54,106.82 643.48,108.13 646.42,109.42 649.35,110.69 652.29,111.96 655.23,113.21 658.17,114.46 661.11,115.71 664.05,116.94 666.98,118.18 669.92,119.41 672.86,120.63 675.8,121.86 675.8,144.94 672.86,142.67 669.92,140.41 666.98,138.15 664.05,135.89 661.11,133.63 658.17,131.38 655.23,129.14 652.29,126.9 649.35,124.68 646.42,122.46 643.48,120.26 640.54,118.07 637.6,115.91 634.66,113.77 631.72,111.66 628.78,109.6 625.85,107.59 622.91,105.64 619.97,103.77 617.03,101.98 614.09,100.32 611.15,98.82 608.22,97.46 605.28,96.2 602.34,95.02 599.4,93.89 596.46,92.79 593.52,91.72 590.58,90.68 587.65,89.65 584.71,88.63 581.77,87.62 578.83,86.62 575.89,85.62 572.95,84.63 570.02,83.64 567.08,82.66 564.14,81.68 561.2,80.7" fill="url(#dband)"/>
<line x1="561.2" y1="65.3" x2="675.8" y2="133.4" stroke="#4a5a70" stroke-width="0.6"/>
<rect x="558.8" y="92.1" width="5.4" height="5.4" fill="#ffffff" stroke="#707070" stroke-width="0.8"/>
<rect x="558.8" y="92.1" width="5.4" height="2.7" fill="#3c3c3c"/>
<rect x="586" y="71.9" width="5.4" height="5.4" fill="#ffffff" stroke="#707070" stroke-width="0.8"/>
<rect x="586" y="71.9" width="5.4" height="2.7" fill="#3c3c3c"/>
<rect x="610" y="90.8" width="5.4" height="5.4" fill="#ffffff" stroke="#707070" stroke-width="0.8"/>
<rect x="610" y="90.8" width="5.4" height="2.7" fill="#3c3c3c"/>
<rect x="625" y="112.9" width="5.4" height="5.4" fill="#ffffff" stroke="#707070" stroke-width="0.8"/>
<rect x="625" y="112.9" width="5.4" height="2.7" fill="#3c3c3c"/>
<rect x="634.6" y="112.9" width="5.4" height="5.4" fill="#ffffff" stroke="#707070" stroke-width="0.8"/>
<rect x="634.6" y="112.9" width="5.4" height="2.7" fill="#3c3c3c"/>
<rect x="661" y="133.5" width="5.4" height="5.4" fill="#ffffff" stroke="#707070" stroke-width="0.8"/>
<rect x="661" y="133.5" width="5.4" height="2.7" fill="#3c3c3c"/>
<polygon points="621.9,67.1 623.04,70.14 626.27,70.28 623.74,72.3 624.6,75.42 621.9,73.63 619.2,75.42 620.06,72.3 617.53,70.28 620.76,70.14" fill="#1f63b3"/>
<polygon points="636.7,67.1 637.84,70.14 641.07,70.28 638.54,72.3 639.4,75.42 636.7,73.63 634,75.42 634.86,72.3 632.33,70.28 635.56,70.14" fill="#1f63b3"/>
<polygon points="665.6,136.4 666.74,139.44 669.97,139.58 667.44,141.6 668.3,144.72 665.6,142.93 662.9,144.72 663.76,141.6 661.23,139.58 664.46,139.44" fill="#1f63b3"/>
<polygon points="675.2,136.4 676.34,139.44 679.57,139.58 677.04,141.6 677.9,144.72 675.2,142.93 672.5,144.72 673.36,141.6 670.83,139.58 674.06,139.44" fill="#1f63b3"/>
<polygon points="608.5,19.1 609.64,22.14 612.87,22.28 610.34,24.3 611.2,27.42 608.5,25.63 605.8,27.42 606.66,24.3 604.13,22.28 607.36,22.14" fill="#1f63b3"/>
<text x="622.4" y="27.3" font-size="10" text-anchor="start" fill="#231f20">NCS series</text>
<rect x="605.8" y="33" width="5.4" height="5.4" fill="#ffffff" stroke="#707070" stroke-width="0.8"/>
<rect x="605.8" y="33" width="5.4" height="2.7" fill="#3c3c3c"/>
<text x="622.4" y="39.3" font-size="10" text-anchor="start" fill="#231f20">(GQDs+CS)</text>
<text x="563.8" y="178.2" font-size="10" text-anchor="start" fill="#231f20">R<tspan font-size="6" dy="-4">2</tspan><tspan dy="4">=0.57</tspan></text>
<text x="610.3" y="178.2" font-size="9.3" text-anchor="start" fill="#231f20"><tspan font-style="italic">P</tspan>&lt;0.001</text>
<text x="618.7" y="212" font-size="8" text-anchor="middle" fill="#555">(<tspan font-style="italic">I</tspan><tspan font-size="5" dy="1">D</tspan><tspan dy="-1">/</tspan><tspan font-style="italic">I</tspan><tspan font-size="5" dy="1">G</tspan><tspan dy="-1">)</tspan><tspan font-size="5" dy="-3">1/2</tspan></text>
<polyline points="51.4,318 52.24,315.22 53.08,312.4 53.93,309.53 54.77,306.57 55.61,303.85 56.45,301.35 57.3,298.94 58.14,296.64 58.98,294.45 59.82,292.37 60.66,290.39 61.51,288.48 62.35,286.63 63.19,284.85 64.03,283.14 64.88,281.49 65.72,279.92 66.56,278.42 67.4,277 68.24,275.63 69.09,274.3 69.93,273.02 70.77,271.78 71.61,270.58 72.46,269.43 73.3,268.32 74.14,267.25 74.98,266.21 75.82,265.22 76.67,264.27 77.51,263.35 78.35,262.46 79.19,261.6 80.04,260.77 80.88,259.96 81.72,259.17 82.56,258.4 83.4,257.64 84.25,256.89 85.09,256.16 85.93,255.44 86.77,254.73 87.62,254.03 88.46,253.35 89.3,252.68 90.14,252.02 90.98,251.38 91.83,250.75 92.67,250.14 93.51,249.54 94.35,248.96 95.19,248.38 96.04,247.81 96.88,247.25 97.72,246.7 98.56,246.16 99.41,245.64 100.25,245.13 101.09,244.63 101.93,244.15 102.77,243.69 103.62,243.25 104.46,242.82 105.3,242.42 106.14,242.03 106.99,241.65 107.83,241.29 108.67,240.93 109.51,240.59 110.35,240.25 111.2,239.92 112.04,239.58 112.88,239.25 113.72,238.92 114.57,238.58 115.41,238.23 116.25,237.88 117.09,237.53 117.93,237.19 118.78,236.88 119.62,236.59 120.46,236.31 121.3,236.03 122.15,235.76 122.99,235.49 123.83,235.23 124.67,234.97 125.51,234.72 126.36,234.47 127.2,234.22 128.04,233.98 128.88,233.75 129.73,233.52 130.57,233.29 131.41,233.07 132.25,232.86 133.09,232.64 133.94,232.44 134.78,232.23 135.62,232.04 136.46,231.84 137.31,231.65 138.15,231.47 138.99,231.29 139.83,231.11 140.67,230.93 141.52,230.76 142.36,230.58 143.2,230.41 144.04,230.25 144.89,230.09 145.73,229.93 146.57,229.77 147.41,229.61 148.25,229.46 149.1,229.32 149.94,229.17 150.78,229.03 151.62,228.89 152.47,228.76 153.31,228.63 154.15,228.5 154.99,228.38 155.83,228.26 156.68,228.14 157.52,228.03 158.36,227.92 159.2,227.81 160.05,227.71 160.89,227.6 161.73,227.5 162.57,227.4 163.41,227.3 164.26,227.2 165.1,227.11 165.94,227.02 166.78,226.93 167.63,226.84 168.47,226.75 169.31,226.67 170.15,226.59 170.99,226.51 171.84,226.43 172.68,226.36 173.52,226.29 174.36,226.22 175.21,226.15 176.05,226.09 176.89,226.03 177.73,225.96 178.57,225.9 179.42,225.84 180.26,225.79 181.1,225.73 181.94,225.67 182.78,225.62 183.63,225.56 184.47,225.51 185.31,225.46 186.15,225.41 187,225.36 187.84,225.32 188.68,225.27 189.52,225.23 190.36,225.19 191.21,225.15 192.05,225.11 192.89,225.08 193.73,225.04 194.58,225.01 195.42,224.98 196.26,224.96 197.1,224.93 197.94,224.91 198.79,224.88 199.63,224.86 200.47,224.84 201.31,224.82 202.16,224.8 203,224.79 203.84,224.77 204.68,224.75 205.52,224.73 206.37,224.71 207.21,224.69 208.05,224.67 208.89,224.65 209.74,224.63 210.58,224.6 211.42,224.57 212.26,224.55 213.1,224.52 213.95,224.49 214.79,224.46 215.63,224.43 216.47,224.4 217.32,224.37 218.16,224.33 219,224.3" fill="none" stroke="#2a72c0" stroke-width="1.1" stroke-linejoin="round" clip-path="url(#clipe)"/>
<polyline points="51.4,274.6 52.24,273.93 53.08,273.27 53.93,272.62 54.77,271.97 55.61,271.33 56.45,270.7 57.3,270.08 58.14,269.48 58.98,268.88 59.82,268.29 60.66,267.72 61.51,267.16 62.35,266.61 63.19,266.07 64.03,265.54 64.88,265.02 65.72,264.51 66.56,264 67.4,263.49 68.24,262.99 69.09,262.49 69.93,262 70.77,261.5 71.61,261.01 72.46,260.51 73.3,260.02 74.14,259.52 74.98,259.01 75.82,258.5 76.67,257.99 77.51,257.47 78.35,256.95 79.19,256.43 80.04,255.9 80.88,255.38 81.72,254.85 82.56,254.32 83.4,253.8 84.25,253.28 85.09,252.76 85.93,252.25 86.77,251.74 87.62,251.24 88.46,250.75 89.3,250.26 90.14,249.78 90.98,249.31 91.83,248.85 92.67,248.4 93.51,247.96 94.35,247.52 95.19,247.08 96.04,246.65 96.88,246.22 97.72,245.8 98.56,245.38 99.41,244.96 100.25,244.55 101.09,244.15 101.93,243.75 102.77,243.35 103.62,242.97 104.46,242.58 105.3,242.21 106.14,241.84 106.99,241.48 107.83,241.12 108.67,240.77 109.51,240.43 110.35,240.1 111.2,239.76 112.04,239.43 112.88,239.1 113.72,238.78 114.57,238.46 115.41,238.14 116.25,237.83 117.09,237.53 117.93,237.23 118.78,236.94 119.62,236.65 120.46,236.37 121.3,236.1 122.15,235.84 122.99,235.58 123.83,235.33 124.67,235.09 125.51,234.86 126.36,234.63 127.2,234.4 128.04,234.18 128.88,233.96 129.73,233.74 130.57,233.52 131.41,233.31 132.25,233.1 133.09,232.9 133.94,232.69 134.78,232.49 135.62,232.3 136.46,232.1 137.31,231.91 138.15,231.73 138.99,231.54 139.83,231.36 140.67,231.19 141.52,231.02 142.36,230.85 143.2,230.68 144.04,230.52 144.89,230.37 145.73,230.21 146.57,230.06 147.41,229.92 148.25,229.78 149.1,229.64 149.94,229.51 150.78,229.38 151.62,229.25 152.47,229.13 153.31,229 154.15,228.87 154.99,228.75 155.83,228.63 156.68,228.51 157.52,228.39 158.36,228.27 159.2,228.16 160.05,228.04 160.89,227.93 161.73,227.82 162.57,227.71 163.41,227.61 164.26,227.5 165.1,227.4 165.94,227.3 166.78,227.2 167.63,227.1 168.47,227.01 169.31,226.92 170.15,226.83 170.99,226.74 171.84,226.66 172.68,226.58 173.52,226.5 174.36,226.43 175.21,226.35 176.05,226.28 176.89,226.22 177.73,226.16 178.57,226.09 179.42,226.04 180.26,225.98 181.1,225.93 181.94,225.88 182.78,225.83 183.63,225.79 184.47,225.74 185.31,225.7 186.15,225.66 187,225.62 187.84,225.58 188.68,225.54 189.52,225.5 190.36,225.46 191.21,225.43 192.05,225.39 192.89,225.36 193.73,225.33 194.58,225.29 195.42,225.26 196.26,225.23 197.1,225.2 197.94,225.17 198.79,225.14 199.63,225.11 200.47,225.07 201.31,225.04 202.16,225.01 203,224.98 203.84,224.95 204.68,224.92 205.52,224.88 206.37,224.85 207.21,224.82 208.05,224.78 208.89,224.75 209.74,224.71 210.58,224.67 211.42,224.64 212.26,224.6 213.1,224.56 213.95,224.53 214.79,224.49 215.63,224.45 216.47,224.41 217.32,224.38 218.16,224.34 219,224.3" fill="none" stroke="#4a90d6" stroke-width="1.1" stroke-linejoin="round" stroke-dasharray="3,2.5" clip-path="url(#clipe)"/>
<polyline points="51.4,263.7 52.24,262.51 53.08,261.34 53.93,260.21 54.77,259.1 55.61,258.04 56.45,257.01 57.3,256.02 58.14,255.08 58.98,254.19 59.82,253.35 60.66,252.56 61.51,251.8 62.35,251.08 63.19,250.39 64.03,249.72 64.88,249.08 65.72,248.46 66.56,247.86 67.4,247.28 68.24,246.72 69.09,246.18 69.93,245.65 70.77,245.14 71.61,244.63 72.46,244.15 73.3,243.67 74.14,243.2 74.98,242.75 75.82,242.3 76.67,241.87 77.51,241.45 78.35,241.03 79.19,240.63 80.04,240.23 80.88,239.84 81.72,239.46 82.56,239.08 83.4,238.71 84.25,238.35 85.09,237.99 85.93,237.63 86.77,237.28 87.62,236.93 88.46,236.58 89.3,236.24 90.14,235.9 90.98,235.57 91.83,235.25 92.67,234.93 93.51,234.62 94.35,234.31 95.19,234.01 96.04,233.73 96.88,233.45 97.72,233.18 98.56,232.91 99.41,232.66 100.25,232.42 101.09,232.19 101.93,231.97 102.77,231.75 103.62,231.54 104.46,231.33 105.3,231.13 106.14,230.93 106.99,230.74 107.83,230.55 108.67,230.36 109.51,230.18 110.35,230.01 111.2,229.83 112.04,229.66 112.88,229.5 113.72,229.34 114.57,229.18 115.41,229.03 116.25,228.87 117.09,228.73 117.93,228.58 118.78,228.44 119.62,228.3 120.46,228.16 121.3,228.02 122.15,227.88 122.99,227.74 123.83,227.61 124.67,227.47 125.51,227.34 126.36,227.21 127.2,227.09 128.04,226.96 128.88,226.84 129.73,226.72 130.57,226.61 131.41,226.5 132.25,226.39 133.09,226.29 133.94,226.2 134.78,226.1 135.62,226.02 136.46,225.93 137.31,225.86 138.15,225.79 138.99,225.72 139.83,225.65 140.67,225.59 141.52,225.53 142.36,225.46 143.2,225.4 144.04,225.34 144.89,225.29 145.73,225.23 146.57,225.18 147.41,225.13 148.25,225.08 149.1,225.03 149.94,224.98 150.78,224.94 151.62,224.9 152.47,224.86 153.31,224.83 154.15,224.79 154.99,224.76 155.83,224.73 156.68,224.71 157.52,224.69 158.36,224.66 159.2,224.64 160.05,224.62 160.89,224.6 161.73,224.58 162.57,224.56 163.41,224.54 164.26,224.52 165.1,224.5 165.94,224.48 166.78,224.47 167.63,224.45 168.47,224.44 169.31,224.42 170.15,224.41 170.99,224.39 171.84,224.38 172.68,224.37 173.52,224.36 174.36,224.35 175.21,224.34 176.05,224.33 176.89,224.32 177.73,224.31 178.57,224.31 179.42,224.3 180.26,224.3 181.1,224.29 181.94,224.29 182.78,224.29 183.63,224.28 184.47,224.28 185.31,224.28 186.15,224.27 187,224.27 187.84,224.27 188.68,224.26 189.52,224.26 190.36,224.26 191.21,224.25 192.05,224.25 192.89,224.25 193.73,224.24 194.58,224.24 195.42,224.24 196.26,224.24 197.1,224.23 197.94,224.23 198.79,224.23 199.63,224.23 200.47,224.22 201.31,224.22 202.16,224.22 203,224.22 203.84,224.22 204.68,224.21 205.52,224.21 206.37,224.21 207.21,224.21 208.05,224.21 208.89,224.21 209.74,224.21 210.58,224.21 211.42,224.2 212.26,224.2 213.1,224.2 213.95,224.2 214.79,224.2 215.63,224.2 216.47,224.2 217.32,224.2 218.16,224.2 219,224.2" fill="none" stroke="#3a3a3a" stroke-width="1.0" stroke-linejoin="round" clip-path="url(#clipe)"/>
<polyline points="51.4,255.3 52.24,254.61 53.08,253.94 53.93,253.27 54.77,252.62 55.61,251.97 56.45,251.34 57.3,250.73 58.14,250.13 58.98,249.55 59.82,248.98 60.66,248.43 61.51,247.89 62.35,247.35 63.19,246.82 64.03,246.3 64.88,245.79 65.72,245.28 66.56,244.79 67.4,244.31 68.24,243.85 69.09,243.4 69.93,242.97 70.77,242.56 71.61,242.16 72.46,241.79 73.3,241.43 74.14,241.09 74.98,240.77 75.82,240.45 76.67,240.15 77.51,239.85 78.35,239.57 79.19,239.28 80.04,239 80.88,238.72 81.72,238.44 82.56,238.16 83.4,237.87 84.25,237.58 85.09,237.28 85.93,236.98 86.77,236.67 87.62,236.36 88.46,236.06 89.3,235.75 90.14,235.44 90.98,235.13 91.83,234.83 92.67,234.53 93.51,234.23 94.35,233.94 95.19,233.65 96.04,233.38 96.88,233.11 97.72,232.84 98.56,232.59 99.41,232.35 100.25,232.12 101.09,231.9 101.93,231.69 102.77,231.48 103.62,231.27 104.46,231.07 105.3,230.87 106.14,230.68 106.99,230.49 107.83,230.3 108.67,230.12 109.51,229.94 110.35,229.76 111.2,229.59 112.04,229.43 112.88,229.26 113.72,229.11 114.57,228.95 115.41,228.8 116.25,228.65 117.09,228.51 117.93,228.37 118.78,228.24 119.62,228.1 120.46,227.97 121.3,227.84 122.15,227.71 122.99,227.59 123.83,227.46 124.67,227.34 125.51,227.22 126.36,227.1 127.2,226.98 128.04,226.87 128.88,226.76 129.73,226.65 130.57,226.55 131.41,226.45 132.25,226.35 133.09,226.26 133.94,226.17 134.78,226.08 135.62,226 136.46,225.93 137.31,225.86 138.15,225.79 138.99,225.72 139.83,225.66 140.67,225.6 141.52,225.53 142.36,225.47 143.2,225.41 144.04,225.35 144.89,225.29 145.73,225.23 146.57,225.18 147.41,225.12 148.25,225.07 149.1,225.02 149.94,224.97 150.78,224.93 151.62,224.88 152.47,224.84 153.31,224.8 154.15,224.76 154.99,224.73 155.83,224.7 156.68,224.67 157.52,224.65 158.36,224.63 159.2,224.61 160.05,224.6 160.89,224.59 161.73,224.58 162.57,224.57 163.41,224.55 164.26,224.54 165.1,224.53 165.94,224.52 166.78,224.51 167.63,224.5 168.47,224.49 169.31,224.48 170.15,224.47 170.99,224.46 171.84,224.45 172.68,224.45 173.52,224.44 174.36,224.43 175.21,224.42 176.05,224.41 176.89,224.4 177.73,224.39 178.57,224.39 179.42,224.38 180.26,224.37 181.1,224.36 181.94,224.36 182.78,224.35 183.63,224.34 184.47,224.34 185.31,224.33 186.15,224.32 187,224.32 187.84,224.31 188.68,224.3 189.52,224.3 190.36,224.29 191.21,224.29 192.05,224.28 192.89,224.28 193.73,224.27 194.58,224.27 195.42,224.26 196.26,224.26 197.1,224.25 197.94,224.25 198.79,224.25 199.63,224.24 200.47,224.24 201.31,224.24 202.16,224.23 203,224.23 203.84,224.23 204.68,224.22 205.52,224.22 206.37,224.22 207.21,224.22 208.05,224.21 208.89,224.21 209.74,224.21 210.58,224.21 211.42,224.21 212.26,224.21 213.1,224.2 213.95,224.2 214.79,224.2 215.63,224.2 216.47,224.2 217.32,224.2 218.16,224.2 219,224.2" fill="none" stroke="#555" stroke-width="1.0" stroke-linejoin="round" stroke-dasharray="3,2.5" clip-path="url(#clipe)"/>
<line x1="107.2" y1="269.4" x2="130" y2="269.4" stroke="#666" stroke-width="1" stroke-dasharray="3.2,2.6"/>
<text x="133.2" y="273" font-size="10" text-anchor="start" fill="#231f20">NCS-low (D<tspan font-size="6" dy="2">2</tspan><tspan dy="-2">O)</tspan></text>
<line x1="107.2" y1="281.7" x2="130" y2="281.7" stroke="#3a3a3a" stroke-width="1"/>
<text x="133.2" y="285.3" font-size="10" text-anchor="start" fill="#231f20">NCS-low (H<tspan font-size="6" dy="2">2</tspan><tspan dy="-2">O)</tspan></text>
<line x1="107.2" y1="293.9" x2="130" y2="293.9" stroke="#5a9ad8" stroke-width="1" stroke-dasharray="3.2,2.6"/>
<text x="133.2" y="297.5" font-size="10" text-anchor="start" fill="#231f20">NCS-top (D<tspan font-size="6" dy="2">2</tspan><tspan dy="-2">O)</tspan></text>
<line x1="107.2" y1="306.2" x2="130" y2="306.2" stroke="#2a72c0" stroke-width="1"/>
<text x="133.2" y="309.8" font-size="10" text-anchor="start" fill="#231f20">NCS-top (H<tspan font-size="6" dy="2">2</tspan><tspan dy="-2">O)</tspan></text>
<polyline points="63.64,398.8 106.44,368.8 149.24,376.3 192.04,416.3" fill="none" stroke="#6aa0d8" stroke-width="0.8" stroke-linejoin="round"/>
<polyline points="63.64,427.8 106.44,446.8 149.24,452.3 192.04,453.3" fill="none" stroke="#999" stroke-width="0.8" stroke-linejoin="round"/>
<rect x="60.44" y="395.6" width="6.4" height="6.4" fill="#fff" stroke="#2a6db8" stroke-width="0.9"/>
<rect x="60.44" y="395.6" width="6.4" height="3.2" fill="#2a6db8"/>
<rect x="103.24" y="365.6" width="6.4" height="6.4" fill="#fff" stroke="#2a6db8" stroke-width="0.9"/>
<rect x="103.24" y="365.6" width="6.4" height="3.2" fill="#2a6db8"/>
<rect x="146.04" y="373.1" width="6.4" height="6.4" fill="#fff" stroke="#2a6db8" stroke-width="0.9"/>
<rect x="146.04" y="373.1" width="6.4" height="3.2" fill="#2a6db8"/>
<rect x="188.84" y="413.1" width="6.4" height="6.4" fill="#fff" stroke="#2a6db8" stroke-width="0.9"/>
<rect x="188.84" y="413.1" width="6.4" height="3.2" fill="#2a6db8"/>
<rect x="60.44" y="424.6" width="6.4" height="6.4" fill="#fff" stroke="#3a3a3a" stroke-width="0.9"/>
<rect x="60.44" y="424.6" width="6.4" height="3.2" fill="#3a3a3a"/>
<rect x="103.24" y="443.6" width="6.4" height="6.4" fill="#fff" stroke="#3a3a3a" stroke-width="0.9"/>
<rect x="103.24" y="443.6" width="6.4" height="3.2" fill="#3a3a3a"/>
<rect x="146.04" y="449.1" width="6.4" height="6.4" fill="#fff" stroke="#3a3a3a" stroke-width="0.9"/>
<rect x="146.04" y="449.1" width="6.4" height="3.2" fill="#3a3a3a"/>
<rect x="188.84" y="450.1" width="6.4" height="6.4" fill="#fff" stroke="#3a3a3a" stroke-width="0.9"/>
<rect x="188.84" y="450.1" width="6.4" height="3.2" fill="#3a3a3a"/>
<line x1="130.2" y1="429.7" x2="150.4" y2="429.7" stroke="#6aa0d8" stroke-width="0.8"/>
<rect x="138.3" y="426.5" width="6.4" height="6.4" fill="#fff" stroke="#2a6db8" stroke-width="0.9"/>
<rect x="138.3" y="426.5" width="6.4" height="3.2" fill="#2a6db8"/>
<text x="156.2" y="433.3" font-size="10" text-anchor="start" fill="#2a6db8">NCS-top</text>
<line x1="130.2" y1="442" x2="150.4" y2="442" stroke="#999" stroke-width="0.8"/>
<rect x="138.3" y="438.8" width="6.4" height="6.4" fill="#fff" stroke="#3a3a3a" stroke-width="0.9"/>
<rect x="138.3" y="438.8" width="6.4" height="3.2" fill="#3a3a3a"/>
<text x="156.2" y="445.6" font-size="10" text-anchor="start" fill="#231f20">NCS-low</text>
<text x="168.8" y="375.5" font-size="10.8" text-anchor="start" fill="#222"><tspan font-style="italic">I</tspan><tspan font-size="6.2" dy="0.5">1060'</tspan><tspan dy="-0.5">/</tspan><tspan font-style="italic">I</tspan><tspan font-size="6.2" dy="0.5">G</tspan></text>
<line x1="282.8" y1="336" x2="282.8" y2="455.5" stroke="#b5b5b5" stroke-width="0.9" stroke-dasharray="1.5,1.8"/>
<polyline points="254.5,448.75 255.2,448.73 255.9,447.66 256.6,445.32 257.3,445.15 258,447.36 258.7,440.63 259.4,446.04 260.1,445.97 260.8,445.16 261.5,444.45 262.2,444.66 262.9,443.52 263.6,443.45 264.3,442.51 265,442.26 265.7,447.26 266.4,443.41 267.1,443.38 267.8,446.11 268.5,440.59 269.2,439.43 269.9,440.15 270.6,436.94 271.3,436.83 272,439.52 272.7,439.07 273.4,440.37 274.1,437.57 274.8,437.29 275.5,437.08 276.2,436.21 276.9,432.75 277.6,434.21 278.3,435.09 279,433.56 279.7,433.79 280.4,428.97 281.1,434.75 281.8,431.74 282.5,431.49 283.2,433.29 283.9,431.25 284.6,432.45 285.3,431.57 286,431.92 286.7,430.08 287.4,431.15 288.1,430.81 288.8,431.71 289.5,429 290.2,428.91 290.9,426.46 291.6,428.68 292.3,427.9 293,426.88 293.7,428.01 294.4,425.41 295.1,427.94 295.8,423.82 296.5,424.04 297.2,422.9 297.9,423.13 298.6,421.64 299.3,421.51 300,420.57 300.7,420.51 301.4,417.33 302.1,420.46 302.8,414.83 303.5,414.18 304.2,412.61 304.9,413.91 305.6,411.75 306.3,408.3 307,408.8 307.7,408.24 308.4,406.54 309.1,403.94 309.8,401.33 310.5,399.88 311.2,401.42 311.9,397.95 312.6,395.04 313.3,396.29 314,394.19 314.7,392.44 315.4,390.3 316.1,387.77 316.8,384.84 317.5,380.1 318.2,381.74 318.9,379.25 319.6,377.56 320.3,375.72 321,374.84 321.7,368.64 322.4,369.1 323.1,365.12 323.8,366.52 324.5,369.47 325.2,365.4 325.9,362.48 326.6,360.01 327.3,359.28 328,355.17 328.7,353.92 329.4,351.27 330.1,348.36 330.8,346.98 331.5,345.39 332.2,343.08 332.9,336.31 333.6,337.11 334.3,329.6 335,335.31 335.7,335.17 336.4,332.7 337.1,335.45 337.8,338.87 338.5,337.29 339.2,344.71 339.9,347 340.6,348.7 341.3,351.9 342,352.64 342.7,355.48 343.4,359.21 344.1,360.77 344.8,362.93 345.5,367.3 346.2,366.55 346.9,367.33 347.6,367.98 348.3,373 349,371.32 349.7,375.99 350.4,373.96 351.1,373.89 351.8,375.22 352.5,375.12 353.2,375.05 353.9,375.77 354.6,377.89 355.3,375.57 356,377.38 356.7,372.81 357.4,375.51 358.1,375.27 358.8,378.77 359.5,375.9 360.2,376.59 360.9,375.91 361.6,374.84 362.3,373.66 363,375.68 363.7,371.24 364.4,370.48 365.1,367.99 365.8,364.49 366.5,364.27 367.2,365.3 367.9,362.22 368.6,357.8 369.3,356.98 370,353.33 370.7,351.8 371.4,349.13 372.1,346.62 372.8,347.8 373.5,342.88 374.2,341.31 374.9,338.5 375.6,335.97 376.3,333.36 377,334.98 377.7,336.32 378.4,336.83 379.1,337.92 379.8,337.91 380.5,346.24 381.2,351.39 381.9,358.46 382.6,364.96 383.3,376.83 384,382.74 384.7,390.54 385.4,398.64 386.1,409.18 386.8,416.09 387.5,422.04 388.2,427.27 388.9,426.79 389.6,433.26 390.3,434.53 391,438.26 391.7,436.87 392.4,440.45 393.1,444.41 393.8,442.89 394.5,443.7 395.2,443.17 395.9,444.03 396.6,443.4 397.3,445.47 398,443.67 398.7,446.87 399.4,448.93 400.1,448.47 400.8,444.64 401.5,446.14 402.2,445.84 402.9,443.66 403.6,446.34 404.3,448 405,446.67 405.7,448.54 406.4,447.76 407.1,445.69 407.8,447.22 408.5,448.72 409.2,446.01 409.9,447.04 410.6,447.92 411.3,447.56 412,445.45 412.7,446.81 413.4,447.71 414.1,448.93 414.8,449.28 415.5,447.94 416.2,447.74 416.9,448.06 417.6,448.47 418.3,446.03 419,444.9 419.7,448.08 420.4,446.87 421.1,447.96 421.8,450.71 422.5,449.35 423.2,448.97 423.9,449.37 424.6,449.4 425.3,446.45 426,447.67 426.7,446.94 427.4,448.42 428.1,449.7 428.8,448.61 429.5,448.81 430.2,449.63 430.9,448.24 431.6,448.15 432.3,448.36 433,448.66 433.7,447.34 434.4,450.43 435.1,449.54 435.8,449.17 436.5,447.26 437.2,449.85 437.9,448.21 438.6,447.52 439.3,448.18 440,448.11 440.7,451.93 441.4,450.32 442.1,450.4 442.8,451.75 443.5,451 444.2,449.78 444.9,450.99 445.6,452.71 446.3,451.24 447,452.54 447.7,450.33 448.4,453.12 449.1,453.4" fill="none" stroke="#dcdcdc" stroke-width="1.3" stroke-linejoin="round" clip-path="url(#clipf)"/>
<polyline points="254.5,420.57 255.2,421.67 255.9,420.78 256.6,420 257.3,421.04 258,418.64 258.7,421.89 259.4,420.63 260.1,419.28 260.8,416.18 261.5,417.9 262.2,417.23 262.9,417.7 263.6,415.91 264.3,419.66 265,418.25 265.7,414.8 266.4,415.74 267.1,413.29 267.8,417.48 268.5,417.52 269.2,419.09 269.9,414.24 270.6,413.31 271.3,412.69 272,411.98 272.7,413.84 273.4,411.81 274.1,410.51 274.8,410 275.5,405.49 276.2,408.3 276.9,408.64 277.6,407.19 278.3,407.96 279,406.75 279.7,403.98 280.4,401.82 281.1,401.5 281.8,400.24 282.5,399.04 283.2,398.45 283.9,401.51 284.6,401.22 285.3,404.82 286,404.46 286.7,404.87 287.4,403.26 288.1,399 288.8,405.14 289.5,404.07 290.2,403.25 290.9,405.4 291.6,404.28 292.3,402.56 293,402.28 293.7,403.78 294.4,400.06 295.1,400.36 295.8,397.21 296.5,398.47 297.2,395.08 297.9,395.06 298.6,391.35 299.3,393.5 300,393.27 300.7,389.52 301.4,390 302.1,389.63 302.8,388.53 303.5,386.44 304.2,386.38 304.9,386.24 305.6,387.35 306.3,384.71 307,384.79 307.7,382.44 308.4,380.98 309.1,379.63 309.8,378.63 310.5,377.76 311.2,375.7 311.9,371.58 312.6,376.57 313.3,372.34 314,369.45 314.7,369.19 315.4,366.26 316.1,365.58 316.8,364.96 317.5,360.65 318.2,358.71 318.9,356.98 319.6,353.87 320.3,353.84 321,352.08 321.7,349.1 322.4,345.61 323.1,345.35 323.8,342.28 324.5,341.11 325.2,340.79 325.9,335.82 326.6,333.65 327.3,332.62 328,328.31 328.7,326.76 329.4,328.12 330.1,324.35 330.8,323.44 331.5,317.82 332.2,317.85 332.9,317.16 333.6,314.9 334.3,308.04 335,312.21 335.7,311.74 336.4,313.73 337.1,311.95 337.8,314.55 338.5,318.04 339.2,319.3 339.9,322.26 340.6,327.95 341.3,327.63 342,328.58 342.7,333.34 343.4,335.86 344.1,337.15 344.8,341.43 345.5,345.44 346.2,344.54 346.9,346.77 347.6,345.79 348.3,346.94 349,347.75 349.7,347.49 350.4,349.85 351.1,349.86 351.8,349.19 352.5,350.78 353.2,350.75 353.9,350.54 354.6,351.38 355.3,352.56 356,350.18 356.7,351.95 357.4,353.57 358.1,352.29 358.8,352.53 359.5,352.11 360.2,351.89 360.9,351.36 361.6,349.94 362.3,347.65 363,349.84 363.7,350.03 364.4,345.48 365.1,344.46 365.8,341.53 366.5,341.8 367.2,339.87 367.9,332.93 368.6,332.58 369.3,329.18 370,327 370.7,326.03 371.4,319.93 372.1,318.44 372.8,317.81 373.5,316.19 374.2,314.87 374.9,312.75 375.6,309.88 376.3,310.94 377,314.24 377.7,312.15 378.4,311.43 379.1,314.45 379.8,315.12 380.5,320.52 381.2,321.41 381.9,333.44 382.6,339.53 383.3,349.94 384,360.63 384.7,368.25 385.4,374.96 386.1,382.44 386.8,389.48 387.5,393.87 388.2,399.57 388.9,402.63 389.6,406.83 390.3,408.67 391,409.78 391.7,410.31 392.4,410.42 393.1,413.68 393.8,416.68 394.5,415.77 395.2,416.34 395.9,418.12 396.6,417.37 397.3,420.33 398,421.64 398.7,419.87 399.4,421.5 400.1,419.92 400.8,419.22 401.5,420.59 402.2,421.57 402.9,424.12 403.6,421.41 404.3,422.8 405,421.89 405.7,421.01 406.4,424.64 407.1,422.59 407.8,420.64 408.5,422.84 409.2,419.57 409.9,420.63 410.6,422.4 411.3,424.99 412,419.49 412.7,422.96 413.4,421.15 414.1,418.78 414.8,420.96 415.5,421.1 416.2,421.16 416.9,421.75 417.6,421.28 418.3,425.19 419,417.9 419.7,419.36 420.4,418.84 421.1,420.28 421.8,421.52 422.5,425.93 423.2,421.29 423.9,421.83 424.6,424.56 425.3,424.59 426,421.5 426.7,424.39 427.4,421.91 428.1,421.08 428.8,423.33 429.5,422.3 430.2,422.2 430.9,422.91 431.6,422.7 432.3,422.85 433,422.83 433.7,426.05 434.4,426.25 435.1,425.87 435.8,426.5 436.5,424.74 437.2,424.56 437.9,425.86 438.6,425.8 439.3,427.31 440,426.69 440.7,426.77 441.4,427.83 442.1,427.7 442.8,427.88 443.5,429.48 444.2,430.26 444.9,429.32 445.6,429.76 446.3,427.45 447,429.98 447.7,429.33 448.4,428.21 449.1,428.59" fill="none" stroke="#a8a8a8" stroke-width="1.3" stroke-linejoin="round" clip-path="url(#clipf)"/>
<polyline points="254.5,402.38 255.2,400.08 255.9,401.21 256.6,400.6 257.3,400.82 258,401.96 258.7,402.8 259.4,397.6 260.1,399.2 260.8,399.32 261.5,399.71 262.2,397.58 262.9,398.63 263.6,399.02 264.3,399.26 265,398.62 265.7,396.63 266.4,398.2 267.1,399.19 267.8,397.95 268.5,394.19 269.2,395.09 269.9,393.09 270.6,392.35 271.3,392.24 272,393.39 272.7,390.87 273.4,390.96 274.1,391.38 274.8,392.69 275.5,391.1 276.2,390.23 276.9,389.43 277.6,386.97 278.3,388.93 279,384 279.7,382.4 280.4,383.39 281.1,380.49 281.8,380.17 282.5,377.96 283.2,379.98 283.9,378.73 284.6,380.71 285.3,378.13 286,383.34 286.7,383.51 287.4,382.46 288.1,382 288.8,384.62 289.5,382.33 290.2,381.27 290.9,383.05 291.6,382.28 292.3,383.12 293,382.85 293.7,383.25 294.4,380.68 295.1,377.16 295.8,376.76 296.5,375.92 297.2,379.09 297.9,373.1 298.6,374.69 299.3,375.12 300,372.44 300.7,370.79 301.4,370.68 302.1,370.2 302.8,371.85 303.5,367.22 304.2,367.01 304.9,363.71 305.6,365.03 306.3,362.86 307,362.5 307.7,363.11 308.4,362.8 309.1,359.15 309.8,353.49 310.5,357.41 311.2,358.13 311.9,354.17 312.6,348.77 313.3,349.18 314,348.31 314.7,348.15 315.4,344.33 316.1,343.74 316.8,341.37 317.5,337.79 318.2,334.12 318.9,333.41 319.6,330.87 320.3,330.01 321,334.24 321.7,328.62 322.4,325.92 323.1,326.38 323.8,321.26 324.5,325.87 325.2,319.04 325.9,313.87 326.6,309.48 327.3,304.17 328,303.51 328.7,297.76 329.4,292.84 330.1,297.16 330.8,294.25 331.5,293 332.2,291.52 332.9,286.25 333.6,285.56 334.3,286.12 335,283.3 335.7,285.56 336.4,287.32 337.1,288.38 337.8,289.73 338.5,288.78 339.2,293.76 339.9,300.1 340.6,301.84 341.3,307.37 342,307.98 342.7,314.78 343.4,313.96 344.1,317.8 344.8,319.22 345.5,322.11 346.2,325.49 346.9,324.52 347.6,325.37 348.3,324.94 349,327.32 349.7,330.4 350.4,324.51 351.1,328.46 351.8,327.31 352.5,328.63 353.2,329.72 353.9,330.91 354.6,334.57 355.3,332.49 356,332.45 356.7,333.44 357.4,333.12 358.1,331.89 358.8,330.99 359.5,330.44 360.2,328.56 360.9,327.81 361.6,327.26 362.3,326.51 363,325.99 363.7,326.16 364.4,323.66 365.1,321.73 365.8,319.78 366.5,319.1 367.2,315.72 367.9,312.85 368.6,309.67 369.3,306.69 370,304.8 370.7,299.06 371.4,300.41 372.1,296.42 372.8,294.65 373.5,291.95 374.2,291.53 374.9,286.9 375.6,286.45 376.3,282.97 377,282.42 377.7,284.41 378.4,283.66 379.1,284.07 379.8,290.2 380.5,294.7 381.2,301.45 381.9,307.77 382.6,315.55 383.3,322.25 384,333.16 384.7,341.93 385.4,351.62 386.1,359.89 386.8,365.36 387.5,371.57 388.2,376.64 388.9,381.76 389.6,384.1 390.3,385.54 391,388.64 391.7,390.47 392.4,393.56 393.1,394.17 393.8,391.26 394.5,393.98 395.2,392.81 395.9,395.02 396.6,394.64 397.3,395.78 398,397.62 398.7,398.12 399.4,399.15 400.1,400 400.8,400.21 401.5,399.38 402.2,400.46 402.9,399.08 403.6,399.07 404.3,398.81 405,398.54 405.7,394.13 406.4,397.37 407.1,396.2 407.8,396.36 408.5,394.6 409.2,396.44 409.9,397.36 410.6,395.47 411.3,394.22 412,396.1 412.7,393.88 413.4,396.37 414.1,394.32 414.8,394.8 415.5,395.35 416.2,394.49 416.9,394.9 417.6,395.03 418.3,396.56 419,399.66 419.7,395.44 420.4,396.61 421.1,394.34 421.8,395.19 422.5,395.63 423.2,395.48 423.9,397.73 424.6,397.69 425.3,396.34 426,397.77 426.7,399.11 427.4,402.77 428.1,399.78 428.8,401.06 429.5,403.35 430.2,400.83 430.9,399.82 431.6,398.92 432.3,400.18 433,400.67 433.7,402.69 434.4,400.86 435.1,400.8 435.8,398.59 436.5,401.94 437.2,400.82 437.9,401.97 438.6,401.26 439.3,402.76 440,403.08 440.7,402.75 441.4,401.2 442.1,402.47 442.8,403.74 443.5,403.26 444.2,402.83 444.9,404.83 445.6,404.34 446.3,405.56 447,405.18 447.7,405.89 448.4,404.86 449.1,404" fill="none" stroke="#7c7c7c" stroke-width="1.3" stroke-linejoin="round" clip-path="url(#clipf)"/>
<polyline points="254.5,378.69 255.2,382.48 255.9,378.34 256.6,377.27 257.3,378.83 258,379.03 258.7,378.02 259.4,380.48 260.1,378.3 260.8,379.59 261.5,377.91 262.2,379.58 262.9,377.9 263.6,379.01 264.3,379.13 265,377.63 265.7,377.02 266.4,378.39 267.1,378.48 267.8,377.79 268.5,377.4 269.2,376.16 269.9,375.32 270.6,374.35 271.3,374.01 272,373.03 272.7,370.8 273.4,370.06 274.1,369.16 274.8,368.3 275.5,368.86 276.2,366.19 276.9,365.33 277.6,364.84 278.3,363.47 279,362.89 279.7,362.24 280.4,361.42 281.1,361.66 281.8,362.14 282.5,356.71 283.2,352.05 283.9,357.34 284.6,361.26 285.3,361.84 286,363.7 286.7,360.18 287.4,360.91 288.1,361.1 288.8,360.7 289.5,359.34 290.2,361.11 290.9,359.95 291.6,360.5 292.3,358.43 293,360.67 293.7,357.08 294.4,357.6 295.1,358.92 295.8,360 296.5,359.46 297.2,357.65 297.9,355.21 298.6,352.04 299.3,352.93 300,350.9 300.7,353.9 301.4,347.9 302.1,350.41 302.8,349.26 303.5,346.64 304.2,348.39 304.9,345.86 305.6,347.5 306.3,345 307,343.52 307.7,343 308.4,341.73 309.1,339.53 309.8,338.79 310.5,337.87 311.2,333.8 311.9,330.96 312.6,330.58 313.3,328.93 314,324.82 314.7,321.17 315.4,321.7 316.1,319.29 316.8,316.49 317.5,314.94 318.2,310.69 318.9,308.62 319.6,303.54 320.3,299.91 321,295.56 321.7,294.74 322.4,295.79 323.1,288.95 323.8,287.13 324.5,287.06 325.2,278.56 325.9,279.13 326.6,279.05 327.3,275.06 328,276.43 328.7,275.82 329.4,272.58 330.1,272.41 330.8,271.6 331.5,270.26 332.2,268.77 332.9,268.95 333.6,268.09 334.3,268.2 335,268.4 335.7,270.73 336.4,271.46 337.1,271.1 337.8,272.39 338.5,273.46 339.2,274.76 339.9,277.62 340.6,282.05 341.3,281.87 342,284.84 342.7,288.7 343.4,289.76 344.1,294.45 344.8,295.7 345.5,300.17 346.2,302.25 346.9,303.15 347.6,305.73 348.3,304.88 349,307.44 349.7,305.56 350.4,307.1 351.1,306.71 351.8,306.67 352.5,308.02 353.2,309.58 353.9,309.95 354.6,307.7 355.3,312.99 356,310.2 356.7,310.46 357.4,311.54 358.1,312 358.8,310.69 359.5,309.59 360.2,309.24 360.9,309.08 361.6,308.08 362.3,308.27 363,307.1 363.7,304.79 364.4,304.82 365.1,301.83 365.8,300.12 366.5,298.36 367.2,295.1 367.9,293.55 368.6,290.89 369.3,287.17 370,282.56 370.7,283.8 371.4,280.05 372.1,273.49 372.8,274.78 373.5,270.13 374.2,266.78 374.9,266.32 375.6,262.65 376.3,261.53 377,260.18 377.7,259.74 378.4,259.27 379.1,263.03 379.8,265.64 380.5,272.15 381.2,277.32 381.9,287.09 382.6,297.75 383.3,306.92 384,317.63 384.7,328.23 385.4,333.53 386.1,344.19 386.8,351.36 387.5,355.67 388.2,363.07 388.9,365.25 389.6,365.99 390.3,366.7 391,367.03 391.7,368.74 392.4,370.34 393.1,370.92 393.8,371.54 394.5,371.81 395.2,372.77 395.9,371.76 396.6,373.05 397.3,373.54 398,372.45 398.7,375.71 399.4,373.56 400.1,373.78 400.8,374.75 401.5,374.94 402.2,374.02 402.9,374.59 403.6,371.38 404.3,373.22 405,373.28 405.7,374.18 406.4,372.91 407.1,372.33 407.8,372.14 408.5,372.45 409.2,372.06 409.9,373.07 410.6,372.32 411.3,371.78 412,371.81 412.7,368.6 413.4,370.41 414.1,368.98 414.8,369.81 415.5,367.87 416.2,368.25 416.9,369.12 417.6,366.75 418.3,368.76 419,369.95 419.7,371.48 420.4,370.08 421.1,371.93 421.8,370.17 422.5,370.23 423.2,370.93 423.9,371.64 424.6,372.94 425.3,373.11 426,371.76 426.7,372.85 427.4,372.94 428.1,373.75 428.8,375.14 429.5,376.22 430.2,374.66 430.9,375.41 431.6,372.45 432.3,373.21 433,375.17 433.7,374.82 434.4,375.88 435.1,375.74 435.8,375.6 436.5,377.12 437.2,377.35 437.9,375.75 438.6,376.24 439.3,377.58 440,378.17 440.7,377.85 441.4,376.26 442.1,376.61 442.8,378.03 443.5,377.56 444.2,379.24 444.9,378.7 445.6,377.44 446.3,378.47 447,376.8 447.7,378.23 448.4,379.68 449.1,379.75" fill="none" stroke="#4a4a4a" stroke-width="1.3" stroke-linejoin="round" clip-path="url(#clipf)"/>
<polyline points="254.5,351.63 255.2,352.24 255.9,350.81 256.6,350.9 257.3,351.53 258,349.43 258.7,350.1 259.4,349.17 260.1,350.1 260.8,348.18 261.5,348.65 262.2,349.27 262.9,348.28 263.6,348.03 264.3,349.59 265,344.67 265.7,346.55 266.4,346.16 267.1,345.61 267.8,345.62 268.5,343.44 269.2,343.61 269.9,345.05 270.6,344.09 271.3,343.5 272,340.69 272.7,342.83 273.4,341.49 274.1,341.77 274.8,340.78 275.5,340.54 276.2,338.68 276.9,339.07 277.6,337.68 278.3,338.88 279,337.57 279.7,337.14 280.4,338.2 281.1,336.62 281.8,335.88 282.5,334.32 283.2,323.61 283.9,325.16 284.6,331.47 285.3,334.58 286,331.02 286.7,331.88 287.4,331.55 288.1,331.3 288.8,331.33 289.5,330.06 290.2,330.06 290.9,329.33 291.6,330.53 292.3,329.47 293,330.22 293.7,330.43 294.4,330.15 295.1,331.78 295.8,330.24 296.5,328.24 297.2,326.68 297.9,325.7 298.6,324.14 299.3,323.18 300,323.55 300.7,322.25 301.4,320.23 302.1,322.2 302.8,320.89 303.5,320.26 304.2,318.76 304.9,319.48 305.6,318.19 306.3,316.26 307,317.58 307.7,314.95 308.4,312.55 309.1,310.19 309.8,307.24 310.5,305.03 311.2,303.77 311.9,301.4 312.6,300.9 313.3,297.87 314,295.59 314.7,295.87 315.4,293.42 316.1,292.53 316.8,290.89 317.5,290.09 318.2,288.12 318.9,286.71 319.6,284.95 320.3,283.6 321,281.55 321.7,277.13 322.4,276.26 323.1,274.83 323.8,272.85 324.5,271.41 325.2,270.72 325.9,265.76 326.6,264.4 327.3,262.22 328,257.41 328.7,253.92 329.4,252.11 330.1,248.01 330.8,245.06 331.5,241.54 332.2,239.37 332.9,240.2 333.6,237.83 334.3,235.94 335,237.47 335.7,237.59 336.4,238.25 337.1,238.93 337.8,240.7 338.5,241.65 339.2,245.33 339.9,248.3 340.6,250.51 341.3,252.2 342,254.77 342.7,256.11 343.4,259.37 344.1,263.44 344.8,267.68 345.5,268.44 346.2,271.2 346.9,273.49 347.6,276.75 348.3,274.76 349,276.35 349.7,276.93 350.4,277.43 351.1,278.33 351.8,278.55 352.5,277.49 353.2,280.52 353.9,280.43 354.6,281.12 355.3,280.25 356,280.65 356.7,281.78 357.4,282.5 358.1,280.61 358.8,279.66 359.5,279.54 360.2,280.78 360.9,279.8 361.6,278.87 362.3,277.05 363,275.01 363.7,274.25 364.4,273.09 365.1,271.46 365.8,269.08 366.5,267.15 367.2,264.47 367.9,263.08 368.6,260.85 369.3,256.74 370,254.54 370.7,251.56 371.4,249.5 372.1,247.77 372.8,245.44 373.5,243.26 374.2,240.92 374.9,239.41 375.6,238.03 376.3,235.49 377,236.03 377.7,234.84 378.4,235.83 379.1,236.97 379.8,237.41 380.5,241.59 381.2,246.97 381.9,252.14 382.6,260.31 383.3,268.19 384,275.31 384.7,287.18 385.4,295.92 386.1,302.85 386.8,307.15 387.5,312.36 388.2,317.48 388.9,321.47 389.6,325.63 390.3,329.09 391,333.57 391.7,336.14 392.4,338.18 393.1,339.36 393.8,339.41 394.5,341.32 395.2,341.95 395.9,342.46 396.6,342.68 397.3,343.5 398,343.57 398.7,345.15 399.4,346.36 400.1,345.55 400.8,347.3 401.5,347.7 402.2,345.72 402.9,348.19 403.6,346.47 404.3,346.21 405,345.09 405.7,346.71 406.4,345.86 407.1,345.48 407.8,344.11 408.5,344.5 409.2,344.52 409.9,345.02 410.6,344.91 411.3,345.28 412,344.09 412.7,343.28 413.4,345.16 414.1,345.06 414.8,344.36 415.5,344.89 416.2,344.62 416.9,344.5 417.6,344.6 418.3,344.56 419,344.59 419.7,344.19 420.4,344.07 421.1,344.67 421.8,343.4 422.5,345.1 423.2,345.77 423.9,346.39 424.6,346.98 425.3,347.26 426,347.55 426.7,347.58 427.4,347.68 428.1,348.21 428.8,349.07 429.5,350.04 430.2,347.72 430.9,345.91 431.6,349.88 432.3,349.46 433,349.16 433.7,349.92 434.4,349.84 435.1,350.8 435.8,349.73 436.5,350.6 437.2,350.82 437.9,350.34 438.6,351.27 439.3,350.13 440,350.61 440.7,350.89 441.4,350.51 442.1,353.36 442.8,351.86 443.5,352.4 444.2,350.47 444.9,351.3 445.6,352.04 446.3,352.95 447,351.82 447.7,352.87 448.4,351.26 449.1,353.59" fill="none" stroke="#111111" stroke-width="1.3" stroke-linejoin="round" clip-path="url(#clipf)"/>
<text x="284.3" y="317.6" font-size="9" text-anchor="middle" fill="#231f20">~1060</text>
<text x="442.1" y="243.3" font-size="10" text-anchor="end" fill="#444" font-weight="bold">NCS-low</text>
<text x="443.7" y="340.6" font-size="9" text-anchor="end" fill="#222">0.16 V</text>
<text x="443.7" y="368.1" font-size="9" text-anchor="end" fill="#666">0.36 V</text>
<text x="443.7" y="391.9" font-size="9" text-anchor="end" fill="#8a8a8a">0.56 V</text>
<text x="443.7" y="417.7" font-size="9" text-anchor="end" fill="#ababab">0.76 V</text>
<text x="443.7" y="447" font-size="9" text-anchor="end" fill="#dedede">OCV</text>
<line x1="507.7" y1="308" x2="507.7" y2="428" stroke="#b5b5b5" stroke-width="0.9" stroke-dasharray="1.5,1.8"/>
<line x1="592.3" y1="240" x2="592.3" y2="378" stroke="#b5b5b5" stroke-width="0.9" stroke-dasharray="1.5,1.8"/>
<polyline points="480.4,441.05 481.1,438.08 481.8,439.58 482.5,437.13 483.2,437.76 483.9,438.09 484.6,436.49 485.3,437.3 486,437.55 486.7,434.98 487.4,437.29 488.1,434.38 488.8,435.3 489.5,436.73 490.2,438.88 490.9,442.93 491.6,434.66 492.3,433.83 493,435.59 493.7,434.21 494.4,434.01 495.1,434.94 495.8,433.16 496.5,432.72 497.2,433.31 497.9,432.51 498.6,433.61 499.3,435.52 500,434.62 500.7,435.54 501.4,432.58 502.1,429.49 502.8,430.76 503.5,431.22 504.2,429.27 504.9,429.79 505.6,427.07 506.3,427.68 507,427.79 507.7,425.33 508.4,426.4 509.1,425.79 509.8,427.61 510.5,425.38 511.2,425.8 511.9,427.4 512.6,426.78 513.3,425 514,426.16 514.7,427.98 515.4,426.97 516.1,426.4 516.8,427.07 517.5,424.21 518.2,422.9 518.9,423.32 519.6,424.2 520.3,421.52 521,424.04 521.7,423.67 522.4,424.84 523.1,420.18 523.8,421.09 524.5,420.04 525.2,421.08 525.9,422.14 526.6,417.89 527.3,421.47 528,420.1 528.7,418.34 529.4,421.28 530.1,418.22 530.8,418.61 531.5,414.12 532.2,414.15 532.9,413.38 533.6,414.27 534.3,413.31 535,411.52 535.7,407.43 536.4,408.23 537.1,406.77 537.8,410.72 538.5,405.92 539.2,404.02 539.9,402.43 540.6,401.89 541.3,396.77 542,398.22 542.7,396.63 543.4,394.96 544.1,394.49 544.8,391.84 545.5,388.66 546.2,389.05 546.9,385.76 547.6,386.19 548.3,386.8 549,386.27 549.7,383.26 550.4,381.99 551.1,383.95 551.8,380.43 552.5,379.78 553.2,377.93 553.9,377.46 554.6,377.56 555.3,377.3 556,376.34 556.7,375.5 557.4,373.99 558.1,371.92 558.8,373.46 559.5,374.17 560.2,373.41 560.9,371.55 561.6,372.68 562.3,368.64 563,373.88 563.7,373.42 564.4,375.58 565.1,377.08 565.8,379.85 566.5,376.15 567.2,378.77 567.9,384.35 568.6,385.57 569.3,387.4 570,388.44 570.7,387.43 571.4,395.1 572.1,392.86 572.8,392.81 573.5,395.65 574.2,395.13 574.9,395.95 575.6,395.21 576.3,399.14 577,393.59 577.7,400.97 578.4,396.4 579.1,395.55 579.8,395.86 580.5,394.09 581.2,394.97 581.9,391.87 582.6,389.08 583.3,391.15 584,390.12 584.7,390.73 585.4,386.27 586.1,389.36 586.8,388.2 587.5,381.48 588.2,384.89 588.9,382.21 589.6,382.9 590.3,380.77 591,382.56 591.7,378.84 592.4,378.16 593.1,374.5 593.8,371.92 594.5,369.32 595.2,370.19 595.9,364.96 596.6,365.45 597.3,363.19 598,361.9 598.7,358.8 599.4,354.84 600.1,355.6 600.8,354.68 601.5,354.72 602.2,355.07 602.9,356.39 603.6,355.86 604.3,362.49 605,365.83 605.7,369.74 606.4,377.69 607.1,379.09 607.8,385.42 608.5,388.94 609.2,393.74 609.9,397.97 610.6,399.68 611.3,406.88 612,407.66 612.7,411.74 613.4,416.24 614.1,416.04 614.8,418.4 615.5,418.52 616.2,421.99 616.9,422.08 617.6,424.02 618.3,424.86 619,430.09 619.7,429.41 620.4,431.17 621.1,429.81 621.8,430.43 622.5,432.17 623.2,429.6 623.9,433.82 624.6,431.97 625.3,432.92 626,433.63 626.7,434.73 627.4,434.75 628.1,434.15 628.8,434.97 629.5,434.36 630.2,434.84 630.9,436.44 631.6,435.69 632.3,436.96 633,437.38 633.7,438.75 634.4,435.77 635.1,437.66 635.8,437.98 636.5,436.27 637.2,437.55 637.9,436.88 638.6,434.08 639.3,436.82 640,438.38 640.7,438.18 641.4,438.5 642.1,441.96 642.8,439.05 643.5,438.76 644.2,440.24 644.9,438.52 645.6,433.98 646.3,437.1 647,437.86 647.7,441.32 648.4,438.93 649.1,438.14 649.8,442.96 650.5,438.17 651.2,438.09 651.9,439.16 652.6,438.64 653.3,436.4 654,438.12 654.7,437.4 655.4,439.74 656.1,436.39 656.8,440.46 657.5,439.93 658.2,438.26 658.9,438.38 659.6,437.92 660.3,437.55 661,436.93 661.7,439.89 662.4,437.63 663.1,437.37 663.8,436.78 664.5,437.94 665.2,436.61 665.9,437.07 666.6,440.36 667.3,437.02 668,438.4 668.7,436.5 669.4,437.91 670.1,437.86 670.8,437.27 671.5,436.24 672.2,435.9 672.9,437.72 673.6,438.66 674.3,436.42 675,433.25" fill="none" stroke="#d3e6f3" stroke-width="1.3" stroke-linejoin="round" clip-path="url(#clipg)"/>
<polyline points="480.4,410.78 481.1,411.63 481.8,414.72 482.5,411.58 483.2,408.46 483.9,408.84 484.6,410.86 485.3,411.74 486,412.9 486.7,410.89 487.4,410.36 488.1,411.4 488.8,409.18 489.5,403.81 490.2,410.12 490.9,408.71 491.6,409.88 492.3,407.68 493,409.93 493.7,406.94 494.4,407.21 495.1,406.66 495.8,403.96 496.5,406.78 497.2,405.76 497.9,405.06 498.6,395.67 499.3,400.69 500,400.03 500.7,400.42 501.4,396.58 502.1,395.43 502.8,396.59 503.5,394.31 504.2,391.53 504.9,391.21 505.6,391.94 506.3,388.24 507,386.95 507.7,387.18 508.4,383.98 509.1,394.07 509.8,395 510.5,396.81 511.2,396.45 511.9,395.66 512.6,394.43 513.3,397.37 514,395.13 514.7,395.9 515.4,397.14 516.1,396.25 516.8,396.64 517.5,396.47 518.2,396.15 518.9,397.01 519.6,395.69 520.3,394.76 521,397.13 521.7,396.99 522.4,396.2 523.1,394.61 523.8,392.76 524.5,395.3 525.2,395.18 525.9,391.56 526.6,391.85 527.3,388.6 528,390.46 528.7,390.69 529.4,389.51 530.1,390.89 530.8,391.31 531.5,387.22 532.2,388.5 532.9,385.89 533.6,385.16 534.3,385.23 535,383.6 535.7,384.93 536.4,382.85 537.1,375.66 537.8,378.02 538.5,383.3 539.2,377.66 539.9,377.06 540.6,374.05 541.3,374.65 542,372.2 542.7,372 543.4,371.07 544.1,371.41 544.8,367.91 545.5,365.08 546.2,364.5 546.9,363.43 547.6,360.33 548.3,358.16 549,356.18 549.7,356.55 550.4,356.78 551.1,354.25 551.8,353.77 552.5,352.19 553.2,347.18 553.9,346.55 554.6,343.68 555.3,342.28 556,346.51 556.7,339.87 557.4,341.01 558.1,340.63 558.8,339.38 559.5,336.24 560.2,340.55 560.9,337.98 561.6,338.99 562.3,342.05 563,344.25 563.7,344.05 564.4,343.43 565.1,344.8 565.8,347.41 566.5,347.09 567.2,352.17 567.9,349.81 568.6,352.68 569.3,352.68 570,352.85 570.7,352.39 571.4,356.88 572.1,354.36 572.8,359.24 573.5,358.06 574.2,359.1 574.9,358.39 575.6,363.06 576.3,356.31 577,358.79 577.7,355.78 578.4,357.96 579.1,354.93 579.8,352.86 580.5,352.38 581.2,349.88 581.9,349.25 582.6,344.75 583.3,346.37 584,343.71 584.7,342.03 585.4,336.72 586.1,341.81 586.8,336.66 587.5,334.87 588.2,331.3 588.9,333.08 589.6,331.73 590.3,332 591,330.21 591.7,329.21 592.4,331.86 593.1,330.78 593.8,332.77 594.5,332.9 595.2,332.16 595.9,333.47 596.6,328.72 597.3,329.58 598,329.27 598.7,327.66 599.4,330.01 600.1,329.31 600.8,329.19 601.5,330.06 602.2,331.71 602.9,331.32 603.6,335.46 604.3,340.53 605,342.35 605.7,344.82 606.4,350.89 607.1,352.48 607.8,355.07 608.5,357.03 609.2,362.1 609.9,367.57 610.6,370.63 611.3,373.03 612,376.18 612.7,382.77 613.4,383.08 614.1,387.96 614.8,388.46 615.5,390.41 616.2,391.05 616.9,390.75 617.6,392.55 618.3,392.9 619,399.32 619.7,403.18 620.4,399.39 621.1,398.65 621.8,399.17 622.5,401.15 623.2,401.74 623.9,401.69 624.6,401.5 625.3,403.83 626,405.44 626.7,402.32 627.4,404.66 628.1,405.67 628.8,406.65 629.5,407.5 630.2,406.6 630.9,407.79 631.6,404.95 632.3,404.62 633,405.97 633.7,406.59 634.4,406.81 635.1,402.32 635.8,402.46 636.5,402.39 637.2,405.06 637.9,402.93 638.6,402.22 639.3,401.34 640,404.98 640.7,400.03 641.4,400.65 642.1,400.57 642.8,402.5 643.5,402.62 644.2,401.63 644.9,401.01 645.6,404.73 646.3,401.78 647,401.62 647.7,401.61 648.4,404.08 649.1,404.21 649.8,403.82 650.5,404.79 651.2,406.77 651.9,410.53 652.6,407.96 653.3,409.15 654,409.73 654.7,409.74 655.4,410.21 656.1,409.5 656.8,412.06 657.5,412.94 658.2,414.02 658.9,409.58 659.6,409.11 660.3,411.75 661,413.46 661.7,411.66 662.4,414.29 663.1,413.04 663.8,419.47 664.5,412.01 665.2,410.54 665.9,413.07 666.6,412.37 667.3,412.49 668,410.43 668.7,411.39 669.4,409.5 670.1,410.1 670.8,412.16 671.5,411.82 672.2,413.56 672.9,415.84 673.6,414.4 674.3,411.15 675,416.67" fill="none" stroke="#9fc6e4" stroke-width="1.3" stroke-linejoin="round" clip-path="url(#clipg)"/>
<polyline points="480.4,387.54 481.1,387.62 481.8,386.07 482.5,385.03 483.2,384.12 483.9,383.85 484.6,384.43 485.3,386.49 486,381.7 486.7,382.77 487.4,381.89 488.1,379.89 488.8,381.96 489.5,384.74 490.2,380.62 490.9,381.17 491.6,382.23 492.3,379.36 493,381.43 493.7,379.18 494.4,378.23 495.1,377.11 495.8,376.93 496.5,376.57 497.2,378.44 497.9,376.56 498.6,373.31 499.3,374.09 500,373.52 500.7,375.21 501.4,374.54 502.1,376.3 502.8,373.84 503.5,370.44 504.2,369.9 504.9,368.17 505.6,365.68 506.3,358.58 507,353.4 507.7,353.36 508.4,358.27 509.1,362.76 509.8,365.36 510.5,366.48 511.2,368.2 511.9,370.89 512.6,372.3 513.3,369.59 514,372.25 514.7,372.61 515.4,370.81 516.1,372.01 516.8,371.34 517.5,372.29 518.2,372.69 518.9,374.58 519.6,371.6 520.3,372.12 521,371.48 521.7,369.55 522.4,371.67 523.1,368.99 523.8,368.18 524.5,368.16 525.2,366.34 525.9,365.83 526.6,363.54 527.3,363.1 528,364.32 528.7,362.43 529.4,363.68 530.1,360.74 530.8,360.54 531.5,361.92 532.2,358.93 532.9,356.31 533.6,356.09 534.3,356.44 535,354.47 535.7,353.9 536.4,352.74 537.1,349.89 537.8,348.43 538.5,350.56 539.2,346.64 539.9,347.92 540.6,345.64 541.3,343.06 542,340.75 542.7,340.12 543.4,337.57 544.1,336.74 544.8,334.29 545.5,330.4 546.2,332.09 546.9,329.9 547.6,327.76 548.3,324.3 549,324.35 549.7,324.38 550.4,320.94 551.1,318 551.8,316.01 552.5,313.67 553.2,312.07 553.9,311 554.6,309.93 555.3,306.27 556,310.62 556.7,303.69 557.4,306.88 558.1,308.7 558.8,307.89 559.5,309.29 560.2,307.22 560.9,306.56 561.6,308.56 562.3,310.76 563,311.78 563.7,313.87 564.4,315.83 565.1,316.92 565.8,319.92 566.5,317.82 567.2,321.82 567.9,324.63 568.6,325.98 569.3,325.37 570,330.22 570.7,328.14 571.4,329.06 572.1,330.54 572.8,331.72 573.5,332.45 574.2,331.9 574.9,329.93 575.6,332.83 576.3,332.38 577,335.09 577.7,333.43 578.4,333.94 579.1,332.53 579.8,331.48 580.5,330.44 581.2,327.31 581.9,323.77 582.6,324.75 583.3,322.78 584,318.14 584.7,316.1 585.4,311.99 586.1,308.36 586.8,309.37 587.5,307.06 588.2,306.51 588.9,299.44 589.6,300.76 590.3,299.62 591,296.8 591.7,295.88 592.4,294.43 593.1,294.44 593.8,293.18 594.5,297.55 595.2,294.4 595.9,296.87 596.6,299.93 597.3,299.92 598,300.99 598.7,300.69 599.4,300.47 600.1,302.91 600.8,300.47 601.5,301.28 602.2,302.63 602.9,301.89 603.6,306.31 604.3,305.47 605,308.69 605.7,310.83 606.4,312.61 607.1,315.65 607.8,315.09 608.5,320.9 609.2,324.86 609.9,324.74 610.6,330.44 611.3,332.93 612,336.45 612.7,341.23 613.4,346.31 614.1,352.12 614.8,358.45 615.5,360.8 616.2,370.04 616.9,368.17 617.6,370.49 618.3,372.44 619,373.06 619.7,375.66 620.4,376.19 621.1,379.82 621.8,380.88 622.5,380.81 623.2,380.26 623.9,379.48 624.6,378.46 625.3,381.51 626,376.77 626.7,379.78 627.4,380.46 628.1,378.55 628.8,379.71 629.5,377.83 630.2,376.8 630.9,375.48 631.6,376.56 632.3,377.86 633,377.53 633.7,374.85 634.4,377.47 635.1,375.87 635.8,376.75 636.5,376.19 637.2,376.18 637.9,377.58 638.6,377.49 639.3,376.08 640,376.81 640.7,375.76 641.4,375.34 642.1,375 642.8,374.61 643.5,375.64 644.2,375.37 644.9,377.95 645.6,376.64 646.3,374.9 647,377.69 647.7,375.79 648.4,377.47 649.1,376.28 649.8,377.01 650.5,376.82 651.2,378.47 651.9,380.99 652.6,380.13 653.3,381.38 654,381.53 654.7,379.42 655.4,378.56 656.1,382.3 656.8,380.55 657.5,382.25 658.2,381.66 658.9,383.34 659.6,382 660.3,382.79 661,382.3 661.7,383.08 662.4,378.97 663.1,381.25 663.8,381.9 664.5,382.8 665.2,382.15 665.9,383.25 666.6,384 667.3,383.34 668,381.92 668.7,383.18 669.4,383.03 670.1,383.14 670.8,383.06 671.5,385.58 672.2,380.11 672.9,386.97 673.6,381.95 674.3,382.88 675,383.82" fill="none" stroke="#6ea7d6" stroke-width="1.3" stroke-linejoin="round" clip-path="url(#clipg)"/>
<polyline points="480.4,361.29 481.1,358.45 481.8,358.84 482.5,356.47 483.2,358 483.9,358.24 484.6,356.47 485.3,360.35 486,356.84 486.7,357.42 487.4,358.01 488.1,356.8 488.8,357.63 489.5,355.52 490.2,355.12 490.9,355.8 491.6,355.36 492.3,354.7 493,352.5 493.7,352.17 494.4,351.77 495.1,351.84 495.8,350.92 496.5,352.84 497.2,351.97 497.9,349.96 498.6,349.97 499.3,348.46 500,349.29 500.7,347.35 501.4,346.82 502.1,348.47 502.8,346.13 503.5,346.46 504.2,342.19 504.9,337.48 505.6,336.35 506.3,332.23 507,325.95 507.7,326.76 508.4,330.73 509.1,336.3 509.8,337.96 510.5,339.89 511.2,340.86 511.9,341 512.6,341.57 513.3,342.91 514,343.07 514.7,340.41 515.4,339.44 516.1,342.53 516.8,341.69 517.5,344.33 518.2,342.58 518.9,341.13 519.6,342.57 520.3,341.91 521,341.99 521.7,343.16 522.4,342.15 523.1,342.97 523.8,339.77 524.5,338.23 525.2,336.79 525.9,334.85 526.6,334.5 527.3,332.26 528,332.34 528.7,332.03 529.4,329.94 530.1,331.22 530.8,329.42 531.5,329.34 532.2,324.55 532.9,323.36 533.6,325.71 534.3,324.54 535,325.75 535.7,323.25 536.4,323.12 537.1,320.06 537.8,319.56 538.5,319.88 539.2,319.07 539.9,315.77 540.6,314.7 541.3,313.13 542,309.95 542.7,308.96 543.4,308.96 544.1,305.92 544.8,303.02 545.5,301.63 546.2,302.07 546.9,297.81 547.6,297.43 548.3,295.95 549,294.63 549.7,290.36 550.4,291.87 551.1,291.62 551.8,286.12 552.5,285.82 553.2,282.77 553.9,284.16 554.6,283.25 555.3,282.53 556,282.67 556.7,279.6 557.4,279.18 558.1,282.18 558.8,279.14 559.5,281.69 560.2,282.82 560.9,284.76 561.6,284.94 562.3,287.87 563,288.36 563.7,289.83 564.4,290.49 565.1,292.22 565.8,291.37 566.5,293.42 567.2,294.93 567.9,294.65 568.6,295.86 569.3,296.24 570,295.94 570.7,296.64 571.4,298.97 572.1,299.83 572.8,299.2 573.5,298.7 574.2,298.76 574.9,300.59 575.6,301.93 576.3,301.1 577,300.01 577.7,301.8 578.4,301.75 579.1,300.93 579.8,300.67 580.5,299.49 581.2,299.76 581.9,297.86 582.6,294.66 583.3,291.3 584,288.64 584.7,287.34 585.4,284.47 586.1,282.66 586.8,280.52 587.5,277.58 588.2,275 588.9,270.01 589.6,269.31 590.3,265.18 591,267.6 591.7,268.32 592.4,268.61 593.1,269.65 593.8,273 594.5,273.57 595.2,274.79 595.9,275.83 596.6,278.59 597.3,276.69 598,278.37 598.7,277.34 599.4,277.32 600.1,276.06 600.8,274.5 601.5,275.84 602.2,275.13 602.9,275.26 603.6,280.3 604.3,280.27 605,281.27 605.7,284.2 606.4,287.73 607.1,289.6 607.8,293.11 608.5,295.67 609.2,300.43 609.9,301.12 610.6,309.54 611.3,309.13 612,312.03 612.7,314.39 613.4,321.41 614.1,325.11 614.8,327.12 615.5,332.6 616.2,335.81 616.9,339 617.6,340.44 618.3,346.2 619,345.09 619.7,347.82 620.4,348.37 621.1,350.07 621.8,351.17 622.5,352.71 623.2,353.29 623.9,353.79 624.6,352 625.3,351.76 626,355.99 626.7,352.71 627.4,352.8 628.1,351.3 628.8,351.56 629.5,353.5 630.2,349.71 630.9,350.36 631.6,350.82 632.3,348.85 633,349.75 633.7,348.94 634.4,350.68 635.1,353.49 635.8,349.25 636.5,350.75 637.2,349.21 637.9,347.03 638.6,350.17 639.3,347.18 640,346.97 640.7,349.94 641.4,348.41 642.1,348.27 642.8,351.42 643.5,348.63 644.2,350.53 644.9,349.61 645.6,350.27 646.3,349.83 647,350.09 647.7,352.48 648.4,352.17 649.1,349.8 649.8,352.15 650.5,350.7 651.2,351.97 651.9,351.36 652.6,353.26 653.3,353.86 654,354.26 654.7,354.43 655.4,354.11 656.1,353.46 656.8,350.79 657.5,354.77 658.2,356.26 658.9,355.21 659.6,355.39 660.3,357.39 661,357.66 661.7,356.66 662.4,356.57 663.1,355.43 663.8,356.67 664.5,356.26 665.2,357.26 665.9,357.32 666.6,359.98 667.3,358.08 668,359.66 668.7,359.47 669.4,356.78 670.1,359.15 670.8,358.65 671.5,359.21 672.2,359.13 672.9,358.66 673.6,359.01 674.3,359.92 675,360.74" fill="none" stroke="#3f87c7" stroke-width="1.3" stroke-linejoin="round" clip-path="url(#clipg)"/>
<polyline points="480.3,333.08 481,332.59 481.7,332.37 482.4,331.47 483.1,333.44 483.8,332.29 484.5,332.89 485.2,331.29 485.9,331.61 486.6,331.49 487.3,331.42 488,331.23 488.7,331.54 489.4,332.09 490.1,330.48 490.8,331.08 491.5,329.6 492.2,327.68 492.9,328.83 493.6,328.74 494.3,328.92 495,328.37 495.7,327.74 496.4,327.54 497.1,327.59 497.8,326.14 498.5,325.81 499.2,325.93 499.9,324.58 500.6,326.35 501.3,323 502,321.97 502.7,322.73 503.4,321.15 504.1,320.62 504.8,319.1 505.5,316.56 506.2,310.92 506.9,305.16 507.6,305.95 508.3,312.05 509,316.33 509.7,318.18 510.4,320.8 511.1,321.29 511.8,319.61 512.5,321.37 513.2,320.4 513.9,318.93 514.6,319.22 515.3,318.64 516,317.34 516.7,317.96 517.4,317.14 518.1,316.91 518.8,317.01 519.5,315.72 520.2,314.55 520.9,314.93 521.6,314.92 522.3,314.62 523,315.06 523.7,315.5 524.4,314.53 525.1,313.4 525.8,312.76 526.5,311.86 527.2,311.36 527.9,310.46 528.6,309.41 529.3,309.1 530,307.68 530.7,307.17 531.4,306.28 532.1,304.16 532.8,304.9 533.5,302.76 534.2,302.68 534.9,301.92 535.6,301.12 536.3,298.31 537,298.44 537.7,297.07 538.4,294.97 539.1,294.54 539.8,293.55 540.5,291.07 541.2,290.45 541.9,287.05 542.6,286.13 543.3,284.3 544,281.35 544.7,280.84 545.4,278.8 546.1,275.78 546.8,272.77 547.5,271.76 548.2,269.02 548.9,266.56 549.6,264.49 550.3,261.18 551,257.88 551.7,259.04 552.4,256.1 553.1,255.07 553.8,252.84 554.5,250.45 555.2,249.79 555.9,247.97 556.6,246.76 557.3,245.45 558,246.59 558.7,246.43 559.4,246.56 560.1,248.05 560.8,247.88 561.5,248.37 562.2,248.79 562.9,250.79 563.6,251.89 564.3,253.05 565,253.62 565.7,254.78 566.4,256.35 567.1,257.47 567.8,260.14 568.5,261.24 569.2,263.36 569.9,265.46 570.6,266.31 571.3,266.8 572,267.99 572.7,270.24 573.4,268.97 574.1,269.99 574.8,271.1 575.5,271.78 576.2,272.4 576.9,272.97 577.6,273.49 578.3,273.04 579,271.54 579.7,271.11 580.4,268.4 581.1,268.26 581.8,265.7 582.5,263.84 583.2,266.11 583.9,260.8 584.6,259.21 585.3,255.48 586,255.31 586.7,249.29 587.4,247.76 588.1,245.3 588.8,241.94 589.5,238.4 590.2,236.88 590.9,234.43 591.6,233.02 592.3,230.9 593,231 593.7,231.79 594.4,235.27 595.1,238.3 595.8,243 596.5,248.51 597.2,248.93 597.9,248.35 598.6,249.52 599.3,249.84 600,249.65 600.7,249.75 601.4,250.08 602.1,250.25 602.8,250.36 603.5,248.65 604.2,249.32 604.9,251.62 605.6,254.22 606.3,261.31 607,263.8 607.7,268.76 608.4,271.52 609.1,276.74 609.8,279.81 610.5,284.59 611.2,288.88 611.9,293.07 612.6,295.25 613.3,299.07 614,302.66 614.7,306.56 615.4,309.53 616.1,311.11 616.8,313.58 617.5,314.38 618.2,318.33 618.9,319.35 619.6,320.43 620.3,322.52 621,322.84 621.7,324.6 622.4,325.55 623.1,326.19 623.8,325.11 624.5,326.26 625.2,327 625.9,326.39 626.6,326.34 627.3,327.74 628,326.6 628.7,327.26 629.4,327.84 630.1,327.4 630.8,327.08 631.5,327.56 632.2,327.73 632.9,326.92 633.6,327.51 634.3,328.62 635,328.66 635.7,327.61 636.4,328.46 637.1,328.59 637.8,328.39 638.5,327.99 639.2,329.06 639.9,330.16 640.6,329.78 641.3,328.87 642,329.57 642.7,329.49 643.4,328.69 644.1,329.25 644.8,329.14 645.5,329.53 646.2,329.67 646.9,329.47 647.6,330.65 648.3,330.44 649,330.29 649.7,331.96 650.4,331.08 651.1,331.88 651.8,331.62 652.5,331.17 653.2,331.55 653.9,332.23 654.6,331.99 655.3,332.41 656,331.71 656.7,331.54 657.4,331.66 658.1,332.21 658.8,331.93 659.5,331.54 660.2,331.26 660.9,331.27 661.6,333.41 662.3,332.16 663,333.78 663.7,332.65 664.4,332.58 665.1,333.01 665.8,332.96 666.5,333.2 667.2,332.91 667.9,333.24 668.6,334.6 669.3,333.29 670,333.45 670.7,333 671.4,333.4 672.1,332.55 672.8,331.4 673.5,333.27 674.2,333.94 674.9,333.95" fill="none" stroke="#1f6db5" stroke-width="1.3" stroke-linejoin="round" clip-path="url(#clipg)"/>
<text x="508.7" y="300.5" font-size="9" text-anchor="middle" fill="#231f20">~1060</text>
<text x="586.9" y="235" font-size="9" text-anchor="end" fill="#231f20">~1530</text>
<text x="667.2" y="243.5" font-size="10" text-anchor="end" fill="#2a6db5" font-weight="bold">NCS-top</text>
<text x="670" y="325" font-size="9" text-anchor="end" fill="#222">0.16 V</text>
<text x="670" y="344.4" font-size="9" text-anchor="end" fill="#666">0.36 V</text>
<text x="670" y="373.4" font-size="9" text-anchor="end" fill="#8a8a8a">0.56 V</text>
<text x="670" y="403" font-size="9" text-anchor="end" fill="#ababab">0.76 V</text>
<text x="670" y="432.3" font-size="9" text-anchor="end" fill="#dedede">OCV</text>
<rect x="73.8" y="504.6" width="29.8" height="229.4" fill="#e9e9e9" stroke="none" stroke-width="1"/>
<rect x="161.1" y="504.6" width="6.8" height="229.4" fill="#e9e9e9" stroke="none" stroke-width="1"/>
<rect x="175.1" y="504.6" width="4.6" height="229.4" fill="#c9dae7" stroke="none" stroke-width="1"/>
<rect x="180.3" y="504.6" width="5.6" height="229.4" fill="#c9dae7" stroke="none" stroke-width="1"/>
<rect x="191" y="504.6" width="6.6" height="229.4" fill="#c9dae7" stroke="none" stroke-width="1"/>
<rect x="295.6" y="503.8" width="33.3" height="229.4" fill="#e9e9e9" stroke="none" stroke-width="1"/>
<rect x="392.1" y="503.8" width="7.6" height="229.4" fill="#e9e9e9" stroke="none" stroke-width="1"/>
<rect x="407.2" y="503.8" width="4.4" height="229.4" fill="#c9dae7" stroke="none" stroke-width="1"/>
<rect x="412.2" y="503.8" width="7" height="229.4" fill="#c9dae7" stroke="none" stroke-width="1"/>
<rect x="424.9" y="503.8" width="7" height="229.4" fill="#c9dae7" stroke="none" stroke-width="1"/>
<rect x="35.4" y="504.1" width="177.2" height="230.4" fill="none" stroke="#333" stroke-width="1"/>
<rect x="253.5" y="503.3" width="195" height="230.4" fill="none" stroke="#333" stroke-width="1"/>
<polyline points="35.9,546.3 36.7,546.12 37.5,546.01 38.3,546.43 39.1,546.73 39.9,546.26 40.7,545.76 41.5,545.97 42.3,546.31 43.1,546.66 43.9,546.96 44.7,546.73 45.5,546.22 46.3,546.81 47.1,547.93 47.9,547.74 48.7,547.16 49.5,546.47 50.3,545.78 51.1,545.56 51.9,546.13 52.7,546.8 53.5,546.63 54.3,546.59 55.1,546.26 55.9,546.34 56.7,546.64 57.5,546.85 58.3,546.86 59.1,546.03 59.9,545.46 60.7,545.81 61.5,547.35 62.3,547.76 63.1,547.03 63.9,545.9 64.7,545.81 65.5,546.33 66.3,546.31 67.1,546.12 67.9,546.27 68.7,546.97 69.5,546.36 70.3,546.21 71.1,545.72 71.9,546.43 72.7,546.65 73.5,546.62 74.3,546.42 75.1,547.09 75.9,547.26 76.7,547.37 77.5,546.94 78.3,546.91 79.1,546.71 79.9,546.37 80.7,546.22 81.5,546.17 82.3,546.87 83.1,546.13 83.9,546.16 84.7,545.94 85.5,545.82 86.3,545.56 87.1,545.58 87.9,546.41 88.7,546.43 89.5,546.26 90.3,545.65 91.1,546.18 91.9,546.77 92.7,547.27 93.5,547.16 94.3,546.59 95.1,546.29 95.9,546.74 96.7,547.22 97.5,547 98.3,545.8 99.1,546.13 99.9,547.15 100.7,547.84 101.5,547.1 102.3,546.57 103.1,546 103.9,545.69 104.7,545.87 105.5,546.01 106.3,546.15 107.1,546.1 107.9,546.28 108.7,546.42 109.5,546.4 110.3,546.09 111.1,546.03 111.9,546.08 112.7,546.17 113.5,545.93 114.3,545.97 115.1,546.09 115.9,546.3 116.7,546.25 117.5,546.37 118.3,546.31 119.1,546.14 119.9,546.01 120.7,546.07 121.5,546.32 122.3,546.31 123.1,546.26 123.9,546.29 124.7,546.53 125.5,546.68 126.3,546.69 127.1,546.61 127.9,546.59 128.7,546.58 129.5,546.58 130.3,546.48 131.1,546.38 131.9,546.62 132.7,546.7 133.5,546.59" fill="none" stroke="#e6e6e6" stroke-width="1.2" stroke-linejoin="round"/>
<polyline points="137.2,546.22 138,546.21 138.8,546.28 139.6,546.2 140.4,545.91 141.2,545.88 142,545.92 142.8,546.11 143.6,546.17 144.4,546.49 145.2,546.7 146,546.75 146.8,546.49 147.6,546.11 148.4,545.95 149.2,546.04 150,545.96 150.8,545.98 151.6,546.06 152.4,546.38 153.2,546.36 154,546.34 154.8,546.19 155.6,546.14 156.4,545.92 157.2,545.98 158,546.29 158.8,546.58 159.6,546.56 160.4,546.26 161.2,546.36 162,546.32 162.8,546.45 163.6,546.35 164.4,546.3 165.2,546.28 166,546.35 166.8,546.45 167.6,546.38 168.4,546.39 169.2,546.31 170,546.29 170.8,546.28 171.6,546.3 172.4,546.18 173.2,546.02 174,545.9 174.8,545.95 175.6,546.14 176.4,546.39 177.2,546.29 178,546.19 178.8,545.85 179.6,545.84 180.4,545.81 181.2,545.82 182,545.66 182.8,545.75 183.6,546.11 184.4,546.32 185.2,546.19 186,546.42 186.8,546.53 187.6,546.43 188.4,546.34 189.2,546.54 190,546.56 190.8,546.46 191.6,546.47 192.4,546.55 193.2,546.45 194,546.29 194.8,546.28 195.6,546.35 196.4,546.32 197.2,546.07 198,546.17 198.8,546.32 199.6,546.36 200.4,546.34 201.2,546.43 202,546.22 202.8,546.15 203.6,546.33 204.4,546.63 205.2,546.75 206,546.71 206.8,546.65 207.6,546.66 208.4,546.61 209.2,546.65 210,546.75 210.8,546.88 211.6,546.63" fill="none" stroke="#e6e6e6" stroke-width="1.2" stroke-linejoin="round"/>
<polyline points="35.9,564.39 36.7,563.95 37.5,563.49 38.3,563.55 39.1,563.91 39.9,563.57 40.7,563.91 41.5,564.11 42.3,563.7 43.1,563.24 43.9,563.45 44.7,563.46 45.5,562.96 46.3,562.59 47.1,562.64 47.9,562.9 48.7,563.52 49.5,564.5 50.3,564.9 51.1,564.82 51.9,564.53 52.7,564.6 53.5,564.12 54.3,563.75 55.1,563.51 55.9,563.56 56.7,563.09 57.5,562.75 58.3,562.7 59.1,562.44 59.9,562.7 60.7,563 61.5,563.42 62.3,563.37 63.1,563.68 63.9,563.48 64.7,563.18 65.5,562.41 66.3,561.65 67.1,560.93 67.9,562.11 68.7,562.69 69.5,563.17 70.3,563.44 71.1,564.07 71.9,564.27 72.7,564.67 73.5,565.21 74.3,565.39 75.1,565.13 75.9,564.33 76.7,563.52 77.5,563.3 78.3,562.99 79.1,562.26 79.9,563.27 80.7,563.99 81.5,564.12 82.3,563.12 83.1,563.31 83.9,563.34 84.7,563.4 85.5,562.91 86.3,562.4 87.1,562.27 87.9,562.89 88.7,564.28 89.5,565.15 90.3,565.57 91.1,565.09 91.9,564.52 92.7,563.31 93.5,562.98 94.3,562.39 95.1,562.5 95.9,563.29 96.7,564.4 97.5,564.75 98.3,564.11 99.1,563.3 99.9,562.59 100.7,562.68 101.5,563.61 102.3,564.67 103.1,564.62 103.9,563.72 104.7,562.99 105.5,563.15 106.3,563.22 107.1,563.19 107.9,563.32 108.7,563.5 109.5,563.33 110.3,563.19 111.1,562.96 111.9,563.14 112.7,563.12 113.5,563.2 114.3,563.05 115.1,563.08 115.9,562.97 116.7,562.78 117.5,563.02 118.3,563.31 119.1,563.49 119.9,563.54 120.7,563.57 121.5,563.51 122.3,563.29 123.1,563.42 123.9,563.46 124.7,563.47 125.5,563.29 126.3,563.24 127.1,563.37 127.9,563.18 128.7,563 129.5,562.89 130.3,563.09 131.1,562.88 131.9,562.95 132.7,562.99 133.5,563.16" fill="none" stroke="#c9c9c9" stroke-width="1.2" stroke-linejoin="round"/>
<polyline points="137.2,563.11 138,562.9 138.8,562.83 139.6,562.71 140.4,562.74 141.2,562.79 142,563.04 142.8,563.17 143.6,563.19 144.4,563.44 145.2,563.57 146,563.37 146.8,562.97 147.6,562.86 148.4,562.98 149.2,563 150,562.96 150.8,563.17 151.6,563.34 152.4,563.34 153.2,563.09 154,563.06 154.8,563.27 155.6,563.42 156.4,563.54 157.2,563.02 158,562.83 158.8,562.96 159.6,563.6 160.4,563.6 161.2,563.19 162,562.95 162.8,562.96 163.6,562.9 164.4,562.71 165.2,562.95 166,563.38 166.8,563.54 167.6,563.27 168.4,563.35 169.2,563.27 170,563.23 170.8,562.8 171.6,563.04 172.4,563.21 173.2,563.46 174,563.32 174.8,563.23 175.6,563.13 176.4,562.9 177.2,562.95 178,563.15 178.8,563.32 179.6,563.15 180.4,563.09 181.2,563.33 182,563.44 182.8,563.36 183.6,563.09 184.4,562.83 185.2,562.72 186,562.82 186.8,562.99 187.6,563.06 188.4,563.15 189.2,563.26 190,563.27 190.8,563.25 191.6,563.23 192.4,563.18 193.2,563.14 194,562.93 194.8,563 195.6,562.9 196.4,563.11 197.2,563.04 198,563.29 198.8,563.24 199.6,563.08 200.4,563.03 201.2,563.13 202,563.22 202.8,563.1 203.6,563.19 204.4,563.31 205.2,563.32 206,562.99 206.8,562.77 207.6,562.79 208.4,563.21 209.2,563.37 210,563.29 210.8,563.2 211.6,563.2" fill="none" stroke="#c9c9c9" stroke-width="1.2" stroke-linejoin="round"/>
<polyline points="35.9,580.98 36.7,581.07 37.5,580.59 38.3,580.75 39.1,581.14 39.9,581.51 40.7,580.67 41.5,580.49 42.3,581.26 43.1,581.58 43.9,580.88 44.7,580.48 45.5,580.31 46.3,579.65 47.1,579.27 47.9,579.81 48.7,580.48 49.5,580.49 50.3,580.82 51.1,580.95 51.9,580.87 52.7,580.54 53.5,580.86 54.3,581.55 55.1,582.08 55.9,582.1 56.7,580.54 57.5,579.38 58.3,579.29 59.1,580.63 59.9,580.47 60.7,580.88 61.5,581.29 62.3,581.52 63.1,580.96 63.9,580.84 64.7,580.74 65.5,580.83 66.3,580.96 67.1,580.63 67.9,580.13 68.7,580.36 69.5,580.56 70.3,581.15 71.1,581.1 71.9,581.86 72.7,582.09 73.5,582.06 74.3,581.28 75.1,581.53 75.9,581.94 76.7,581.32 77.5,580.83 78.3,581.79 79.1,581.93 79.9,581.7 80.7,581.25 81.5,581.7 82.3,581.37 83.1,581.24 83.9,581.68 84.7,582.22 85.5,581.94 86.3,581.95 87.1,581.58 87.9,581.85 88.7,581.59 89.5,582.44 90.3,582.45 91.1,582.66 91.9,582.3 92.7,582.39 93.5,582.24 94.3,582.94 95.1,582.54 95.9,582.49 96.7,582.1 97.5,582.31 98.3,581.62 99.1,581.51 99.9,581.02 100.7,580.48 101.5,580.57 102.3,580.77 103.1,581.49 103.9,581.48 104.7,581.91 105.5,581.46 106.3,581.43 107.1,581.36 107.9,581.25 108.7,581.16 109.5,581.31 110.3,581.51 111.1,581.66 111.9,581.56 112.7,581.34 113.5,580.94 114.3,580.89 115.1,581.09 115.9,581.24 116.7,581.19 117.5,581.28 118.3,581.35 119.1,581.33 119.9,581.25 120.7,581 121.5,580.73 122.3,580.7 123.1,580.97 123.9,580.96 124.7,580.9 125.5,580.74 126.3,580.82 127.1,580.92 127.9,581.15 128.7,581.29 129.5,581.29 130.3,581.18 131.1,581.1 131.9,581.09 132.7,581.25 133.5,581.28" fill="none" stroke="#ababab" stroke-width="1.2" stroke-linejoin="round"/>
<polyline points="137.2,580.6 138,580.74 138.8,581.19 139.6,581.11 140.4,581.02 141.2,581.04 142,581.13 142.8,580.8 143.6,580.6 144.4,580.56 145.2,580.83 146,580.84 146.8,581.14 147.6,581.18 148.4,581.11 149.2,580.8 150,580.66 150.8,580.77 151.6,581.07 152.4,581.21 153.2,581.2 154,580.95 154.8,580.94 155.6,581.15 156.4,581.17 157.2,581.12 158,581.09 158.8,581.03 159.6,580.58 160.4,580.34 161.2,580.69 162,580.89 162.8,580.92 163.6,580.9 164.4,580.99 165.2,581.01 166,580.89 166.8,580.98 167.6,580.92 168.4,581.08 169.2,581 170,580.91 170.8,580.76 171.6,580.91 172.4,580.76 173.2,580.6 174,580.47 174.8,580.54 175.6,580.63 176.4,580.75 177.2,580.82 178,580.72 178.8,581.02 179.6,581.06 180.4,580.88 181.2,580.46 182,580.37 182.8,580.52 183.6,580.69 184.4,580.91 185.2,580.95 186,580.93 186.8,580.84 187.6,580.81 188.4,580.81 189.2,580.88 190,581 190.8,580.9 191.6,580.53 192.4,580.29 193.2,580.42 194,580.37 194.8,580.3 195.6,580.39 196.4,580.66 197.2,580.54 198,580.67 198.8,581.01 199.6,581.09 200.4,580.97 201.2,581.02 202,580.91 202.8,580.97 203.6,580.85 204.4,580.81 205.2,580.38 206,580.46 206.8,580.38 207.6,580.45 208.4,580.61 209.2,580.84 210,580.77 210.8,580.8 211.6,580.83" fill="none" stroke="#ababab" stroke-width="1.2" stroke-linejoin="round"/>
<polyline points="35.9,599.66 36.7,599.8 37.5,600.05 38.3,599.77 39.1,599.9 39.9,599.82 40.7,599.5 41.5,599.16 42.3,599.37 43.1,599.73 43.9,599.45 44.7,598.91 45.5,598.75 46.3,599.15 47.1,599.54 47.9,599.85 48.7,599.63 49.5,599.48 50.3,599.03 51.1,598.06 51.9,597.85 52.7,598.09 53.5,598.59 54.3,598.26 55.1,599.05 55.9,599.18 56.7,599.49 57.5,599.26 58.3,599.16 59.1,598.4 59.9,598.7 60.7,599.53 61.5,600.37 62.3,600.92 63.1,601.02 63.9,600.67 64.7,599.98 65.5,599.89 66.3,599.71 67.1,599.4 67.9,600.04 68.7,599.87 69.5,599.84 70.3,599.56 71.1,600.34 71.9,599.89 72.7,599.55 73.5,599.45 74.3,599.4 75.1,599.39 75.9,599.56 76.7,599.72 77.5,599.99 78.3,599.93 79.1,600.1 79.9,599.84 80.7,600.28 81.5,600.29 82.3,600.58 83.1,600.12 83.9,599.69 84.7,599.34 85.5,599.76 86.3,600.45 87.1,601.23 87.9,601.04 88.7,600.62 89.5,599.72 90.3,598.9 91.1,598.48 91.9,598.98 92.7,599.23 93.5,598.79 94.3,599.18 95.1,599.71 95.9,599.56 96.7,600.08 97.5,600.89 98.3,601.1 99.1,600.43 99.9,600.19 100.7,600.67 101.5,600.13 102.3,599.54 103.1,598.92 103.9,599.32 104.7,600.2 105.5,599.91 106.3,599.89 107.1,599.76 107.9,600.03 108.7,600.21 109.5,600.21 110.3,600.35 111.1,600.21 111.9,600.05 112.7,599.88 113.5,599.89 114.3,599.76 115.1,599.57 115.9,599.5 116.7,599.36 117.5,599.31 118.3,599.21 119.1,599.33 119.9,599.27 120.7,599.62 121.5,599.91 122.3,600.21 123.1,599.9 123.9,599.57 124.7,599.56 125.5,599.67 126.3,599.76 127.1,599.54 127.9,599.59 128.7,599.49 129.5,599.51 130.3,599.21 131.1,599.15 131.9,599.23 132.7,599.43 133.5,599.48" fill="none" stroke="#9a9a9a" stroke-width="1.2" stroke-linejoin="round"/>
<polyline points="137.2,599.51 138,599.54 138.8,599.7 139.6,599.36 140.4,599.29 141.2,599.32 142,599.41 142.8,599.1 143.6,599.15 144.4,599.29 145.2,599.29 146,599.26 146.8,599.4 147.6,599.49 148.4,599.34 149.2,599.35 150,599.47 150.8,599.64 151.6,599.3 152.4,599.15 153.2,599.22 154,599.35 154.8,599.39 155.6,599.26 156.4,599.46 157.2,599.36 158,599.65 158.8,599.51 159.6,599.35 160.4,599.12 161.2,599.22 162,599.44 162.8,599.56 163.6,599.43 164.4,599.34 165.2,599.35 166,599.43 166.8,599.22 167.6,598.98 168.4,599.1 169.2,599.37 170,599.38 170.8,599.06 171.6,599.09 172.4,599.1 173.2,599.16 174,598.98 174.8,598.91 175.6,598.86 176.4,599.01 177.2,599.37 178,599.69 178.8,599.71 179.6,599.56 180.4,599.46 181.2,599.41 182,599.12 182.8,599.17 183.6,599.28 184.4,599.3 185.2,599.08 186,599.09 186.8,599.02 187.6,599.12 188.4,599.34 189.2,599.38 190,599.05 190.8,598.86 191.6,598.78 192.4,598.8 193.2,598.97 194,599.5 194.8,599.66 195.6,599.3 196.4,599.05 197.2,598.81 198,598.73 198.8,598.87 199.6,599.31 200.4,599.19 201.2,598.72 202,598.72 202.8,598.97 203.6,599.06 204.4,598.98 205.2,598.95 206,598.75 206.8,598.74 207.6,598.83 208.4,598.88 209.2,598.6 210,598.69 210.8,598.77 211.6,598.89" fill="none" stroke="#9a9a9a" stroke-width="1.2" stroke-linejoin="round"/>
<polyline points="35.9,617.86 36.7,618.12 37.5,617.91 38.3,617.6 39.1,616.48 39.9,616.06 40.7,616.66 41.5,618.68 42.3,618.9 43.1,617.76 43.9,616.81 44.7,617.59 45.5,617.74 46.3,617.51 47.1,616.85 47.9,616.79 48.7,617.24 49.5,618.54 50.3,618.68 51.1,618.05 51.9,617.61 52.7,618.15 53.5,618.5 54.3,617.99 55.1,617.58 55.9,617.88 56.7,617.97 57.5,617.16 58.3,616.92 59.1,617.53 59.9,618.34 60.7,618.26 61.5,617.8 62.3,617.22 63.1,616.86 63.9,616.7 64.7,616.69 65.5,616.95 66.3,617.73 67.1,617.71 67.9,617.62 68.7,617.18 69.5,618.12 70.3,618.51 71.1,618.47 71.9,618.19 72.7,618.29 73.5,618.19 74.3,618.41 75.1,618.91 75.9,619.63 76.7,619.64 77.5,619.63 78.3,619.04 79.1,618.19 79.9,618.06 80.7,618.28 81.5,618.87 82.3,618.71 83.1,618.39 83.9,617.73 84.7,617.98 85.5,618.91 86.3,619.26 87.1,619 87.9,619.14 88.7,619.06 89.5,618.52 90.3,617.69 91.1,618.31 91.9,618.79 92.7,618.91 93.5,617.8 94.3,617.48 95.1,618.16 95.9,618.76 96.7,618.5 97.5,618.33 98.3,618.1 99.1,618.02 99.9,618.13 100.7,618.33 101.5,617.82 102.3,617.66 103.1,618.01 103.9,618.15 104.7,618.09 105.5,618.23 106.3,618.08 107.1,617.9 107.9,617.89 108.7,618.14 109.5,618.36 110.3,618.18 111.1,618.04 111.9,618 112.7,618.04 113.5,617.89 114.3,617.88 115.1,618.07 115.9,617.89 116.7,617.71 117.5,617.52 118.3,617.56 119.1,617.6 119.9,617.74 120.7,617.62 121.5,617.36 122.3,617.3 123.1,617.26 123.9,617.31 124.7,617.35 125.5,617.49 126.3,617.42 127.1,617.64 127.9,617.67 128.7,617.5 129.5,617.47 130.3,617.48 131.1,617.36 131.9,616.99 132.7,617.14 133.5,617.3" fill="none" stroke="#8a8a8a" stroke-width="1.2" stroke-linejoin="round"/>
<polyline points="137.2,617.09 138,617.11 138.8,617.04 139.6,616.87 140.4,616.72 141.2,616.78 142,616.93 142.8,617.19 143.6,617.1 144.4,616.93 145.2,616.62 146,616.84 146.8,616.84 147.6,616.94 148.4,617.02 149.2,617.16 150,617.09 150.8,616.69 151.6,616.54 152.4,616.32 153.2,616.53 154,616.64 154.8,616.73 155.6,616.79 156.4,616.89 157.2,616.88 158,616.67 158.8,616.44 159.6,616.44 160.4,616.79 161.2,616.97 162,616.92 162.8,616.64 163.6,616.77 164.4,616.82 165.2,616.83 166,616.49 166.8,616.31 167.6,616.52 168.4,616.76 169.2,616.83 170,616.66 170.8,616.41 171.6,616.32 172.4,616.5 173.2,616.64 174,616.5 174.8,616.5 175.6,616.52 176.4,616.56 177.2,616.53 178,616.29 178.8,616.14 179.6,616.17 180.4,616.32 181.2,616.37 182,616.42 182.8,616.54 183.6,616.66 184.4,616.74 185.2,616.45 186,616.16 186.8,616.27 187.6,616.48 188.4,616.42 189.2,616.27 190,616.38 190.8,616.52 191.6,616.59 192.4,616.44 193.2,616.31 194,616.22 194.8,616.3 195.6,616.09 196.4,616 197.2,615.91 198,616.27 198.8,616.58 199.6,616.94 200.4,616.87 201.2,616.58 202,616.44 202.8,616.36 203.6,616.44 204.4,616.24 205.2,616.13 206,616.11 206.8,616.47 207.6,616.57 208.4,616.71 209.2,616.91 210,616.77 210.8,616.33 211.6,616.05" fill="none" stroke="#8a8a8a" stroke-width="1.2" stroke-linejoin="round"/>
<polyline points="35.9,634.08 36.7,633.98 37.5,634.25 38.3,634.7 39.1,635.35 39.9,635.46 40.7,635.04 41.5,634.72 42.3,634.68 43.1,634.89 43.9,634.9 44.7,634.97 45.5,634.36 46.3,634.42 47.1,635.11 47.9,635.76 48.7,634.79 49.5,634.46 50.3,634.6 51.1,633.84 51.9,632.97 52.7,633.63 53.5,634.93 54.3,635.42 55.1,635.53 55.9,635.36 56.7,634.16 57.5,633.29 58.3,633.42 59.1,634.51 59.9,634.6 60.7,634.12 61.5,634.11 62.3,633.93 63.1,633.19 63.9,632.96 64.7,633.96 65.5,634.57 66.3,633.78 67.1,633.51 67.9,633.52 68.7,634.45 69.5,634.67 70.3,635.19 71.1,635.27 71.9,635.19 72.7,635.29 73.5,635.7 74.3,636.11 75.1,636.22 75.9,635.69 76.7,635.68 77.5,635.52 78.3,635.35 79.1,634.88 79.9,634.74 80.7,634.88 81.5,634.97 82.3,635.65 83.1,635.89 83.9,635.77 84.7,634.95 85.5,634.94 86.3,635.52 87.1,636.48 87.9,636.58 88.7,635.96 89.5,635.21 90.3,634.95 91.1,634.76 91.9,634.51 92.7,634.88 93.5,635.28 94.3,636.12 95.1,635.57 95.9,635.65 96.7,634.78 97.5,635.14 98.3,634.74 99.1,635 99.9,634.98 100.7,635.13 101.5,635.23 102.3,635.91 103.1,635.94 103.9,635.79 104.7,635.43 105.5,635.49 106.3,635.38 107.1,635.16 107.9,634.86 108.7,634.39 109.5,634.51 110.3,634.57 111.1,635.19 111.9,635.37 112.7,635.42 113.5,635.12 114.3,634.95 115.1,634.68 115.9,634.71 116.7,634.78 117.5,634.65 118.3,634.47 119.1,634.25 119.9,634.02 120.7,634.01 121.5,634.27 122.3,634.24 123.1,634.08 123.9,634 124.7,634.08 125.5,634.18 126.3,634.22 127.1,634.22 127.9,633.95 128.7,633.73 129.5,633.75 130.3,633.77 131.1,633.84 131.9,633.79 132.7,633.83 133.5,633.79" fill="none" stroke="#767676" stroke-width="1.2" stroke-linejoin="round"/>
<polyline points="137.2,633.62 138,633.45 138.8,633.28 139.6,633.37 140.4,633.82 141.2,633.74 142,633.53 142.8,633.25 143.6,633.6 144.4,633.6 145.2,633.27 146,633.22 146.8,633.28 147.6,633.46 148.4,633.17 149.2,633.11 150,633.06 150.8,633.34 151.6,633.62 152.4,633.6 153.2,633.49 154,633.38 154.8,633.42 155.6,633.39 156.4,633.5 157.2,633.42 158,633.33 158.8,633.29 159.6,633.38 160.4,633.29 161.2,633.43 162,633.45 162.8,633.54 163.6,633.3 164.4,632.6 165.2,633 166,633.33 166.8,633.32 167.6,633.33 168.4,633.05 169.2,633.39 170,633.68 170.8,633.44 171.6,633.03 172.4,633.16 173.2,633.2 174,633.11 174.8,632.96 175.6,633.37 176.4,633.45 177.2,633.53 178,633.25 178.8,633.1 179.6,633.05 180.4,633.27 181.2,633.13 182,632.99 182.8,633.08 183.6,633.2 184.4,633.09 185.2,633.07 186,633.08 186.8,632.95 187.6,632.82 188.4,632.84 189.2,632.75 190,632.78 190.8,632.67 191.6,632.78 192.4,632.82 193.2,632.86 194,632.91 194.8,633.22 195.6,633.53 196.4,633.24 197.2,633.04 198,633.01 198.8,633.11 199.6,632.87 200.4,632.81 201.2,633 202,633.18 202.8,633.09 203.6,632.8 204.4,632.67 205.2,632.79 206,633.12 206.8,633.09 207.6,632.89 208.4,632.66 209.2,632.67 210,632.69 210.8,632.84 211.6,632.93" fill="none" stroke="#767676" stroke-width="1.2" stroke-linejoin="round"/>
<polyline points="35.9,652.53 36.7,652.99 37.5,653.87 38.3,654.32 39.1,653.74 39.9,653.37 40.7,653.36 41.5,653.46 42.3,653.09 43.1,652.85 43.9,653.49 44.7,653.62 45.5,653.77 46.3,653.94 47.1,653.96 47.9,653.4 48.7,653.24 49.5,653.77 50.3,654.08 51.1,653.64 51.9,652.7 52.7,652.82 53.5,653.61 54.3,654.13 55.1,653.92 55.9,654.41 56.7,653.98 57.5,653.92 58.3,653.35 59.1,653.82 59.9,654.09 60.7,653.97 61.5,653.53 62.3,653.19 63.1,653.51 63.9,653.41 64.7,653.2 65.5,652.86 66.3,653.13 67.1,654.03 67.9,654.24 68.7,653.36 69.5,653.82 70.3,654.9 71.1,655.45 71.9,654.21 72.7,653.49 73.5,653.54 74.3,653.7 75.1,654.36 75.9,654.66 76.7,655.01 77.5,654.14 78.3,653.64 79.1,653.28 79.9,653.8 80.7,654.2 81.5,654.35 82.3,654.4 83.1,654.69 83.9,655.35 84.7,655.35 85.5,654.74 86.3,654.14 87.1,654.87 87.9,655.23 88.7,655.03 89.5,654.46 90.3,654.75 91.1,654.91 91.9,654.72 92.7,654.36 93.5,654.65 94.3,655.45 95.1,655.85 95.9,655.77 96.7,655.23 97.5,654.6 98.3,654.58 99.1,654.4 99.9,654.23 100.7,653.34 101.5,653.37 102.3,653.27 103.1,653.43 103.9,653.67 104.7,653.83 105.5,653.93 106.3,654 107.1,653.95 107.9,654.09 108.7,654.08 109.5,654.06 110.3,653.7 111.1,653.57 111.9,653.48 112.7,653.53 113.5,653.46 114.3,653.44 115.1,653.62 115.9,653.67 116.7,653.52 117.5,653.23 118.3,653.49 119.1,653.77 119.9,653.81 120.7,653.52 121.5,653.22 122.3,653.05 123.1,652.98 123.9,653.07 124.7,652.95 125.5,652.77 126.3,652.79 127.1,652.96 127.9,652.77 128.7,652.6 129.5,652.78 130.3,652.98 131.1,652.91 131.9,652.61 132.7,652.7 133.5,652.76" fill="none" stroke="#5a5a5a" stroke-width="1.2" stroke-linejoin="round"/>
<polyline points="137.2,651.67 138,651.61 138.8,652.04 139.6,652.21 140.4,651.97 141.2,651.71 142,651.86 142.8,652.18 143.6,652.02 144.4,651.68 145.2,651.43 146,651.66 146.8,651.9 147.6,652.05 148.4,651.85 149.2,651.59 150,651.47 150.8,651.75 151.6,651.93 152.4,651.87 153.2,651.6 154,651.62 154.8,651.84 155.6,652.27 156.4,652.2 157.2,652.15 158,651.75 158.8,651.58 159.6,651.33 160.4,651.4 161.2,651.35 162,651.34 162.8,651.39 163.6,651.34 164.4,650.59 165.2,651.33 166,651.59 166.8,651.68 167.6,651.77 168.4,651.73 169.2,651.54 170,651.49 170.8,651.53 171.6,651.45 172.4,651.51 173.2,651.69 174,651.92 174.8,651.7 175.6,651.25 176.4,651.01 177.2,651.12 178,651.41 178.8,651.45 179.6,651.35 180.4,651.41 181.2,651.41 182,651.48 182.8,651.46 183.6,651.36 184.4,651.17 185.2,651.05 186,651.05 186.8,650.77 187.6,650.6 188.4,650.76 189.2,651 190,651.17 190.8,651.01 191.6,650.95 192.4,650.9 193.2,650.83 194,650.61 194.8,650.68 195.6,650.95 196.4,651.01 197.2,650.89 198,650.97 198.8,651.31 199.6,651.25 200.4,651.13 201.2,651.21 202,651.37 202.8,651.37 203.6,650.86 204.4,650.85 205.2,650.82 206,650.84 206.8,650.67 207.6,650.89 208.4,651.25 209.2,651.29 210,651.15 210.8,650.86 211.6,650.68" fill="none" stroke="#5a5a5a" stroke-width="1.2" stroke-linejoin="round"/>
<polyline points="35.9,671.55 36.7,671.73 37.5,671.77 38.3,671.7 39.1,671.93 39.9,672.31 40.7,673.04 41.5,673.72 42.3,673.18 43.1,671.79 43.9,670.63 44.7,670.54 45.5,670.95 46.3,671.26 47.1,671.12 47.9,670.83 48.7,671.55 49.5,671.92 50.3,671.75 51.1,671.8 51.9,672.24 52.7,672.47 53.5,672.48 54.3,672.02 55.1,671.7 55.9,671.28 56.7,671.91 57.5,672.31 58.3,672.14 59.1,672.03 59.9,671.61 60.7,672.1 61.5,671.99 62.3,672 63.1,671.08 63.9,670.9 64.7,671.33 65.5,671.54 66.3,671.81 67.1,671.51 67.9,671.58 68.7,671.59 69.5,671.47 70.3,671.41 71.1,671.27 71.9,670.91 72.7,670.48 73.5,671.11 74.3,672.4 75.1,672.62 75.9,673.09 76.7,673.56 77.5,674.16 78.3,674.11 79.1,673.8 79.9,673.15 80.7,672.85 81.5,673.26 82.3,673.62 83.1,673.26 83.9,672.35 84.7,672.39 85.5,672.9 86.3,672.99 87.1,672.61 87.9,672.93 88.7,673.44 89.5,673.6 90.3,673.71 91.1,673.22 91.9,672.56 92.7,672.59 93.5,673.51 94.3,674.15 95.1,673.33 95.9,672.55 96.7,672.49 97.5,673.67 98.3,674.31 99.1,673.74 99.9,672.82 100.7,671.87 101.5,672.37 102.3,672.21 103.1,672.71 103.9,673 104.7,673.57 105.5,672.27 106.3,672.08 107.1,672.1 107.9,672.17 108.7,672.06 109.5,671.93 110.3,672.13 111.1,672.14 111.9,672.08 112.7,671.83 113.5,671.68 114.3,671.57 115.1,671.62 115.9,671.55 116.7,671.58 117.5,671.27 118.3,671.25 119.1,671.17 119.9,671.39 120.7,671.26 121.5,671.3 122.3,671.32 123.1,671.23 123.9,671.01 124.7,670.79 125.5,670.83 126.3,670.61 127.1,670.49 127.9,670.46 128.7,670.52 129.5,670.46 130.3,670.3 131.1,670.48 131.9,670.64 132.7,670.98 133.5,670.86" fill="none" stroke="#424242" stroke-width="1.2" stroke-linejoin="round"/>
<polyline points="137.2,669.21 138,669.22 138.8,669.17 139.6,669.25 140.4,669.19 141.2,669.3 142,669.3 142.8,669.4 143.6,669.64 144.4,669.75 145.2,669.53 146,669.33 146.8,669.18 147.6,669.24 148.4,669.02 149.2,669.01 150,669.16 150.8,669.31 151.6,669.25 152.4,669.01 153.2,669.03 154,669.28 154.8,669.26 155.6,669.03 156.4,668.92 157.2,668.92 158,668.93 158.8,669.03 159.6,669.27 160.4,669.2 161.2,668.94 162,668.81 162.8,668.78 163.6,668.88 164.4,669.15 165.2,669.37 166,669.26 166.8,668.95 167.6,668.9 168.4,668.8 169.2,668.72 170,668.64 170.8,668.71 171.6,668.6 172.4,668.68 173.2,668.65 174,668.57 174.8,668.47 175.6,668.67 176.4,668.63 177.2,668.77 178,668.8 178.8,668.87 179.6,668.68 180.4,668.62 181.2,668.51 182,668.67 182.8,668.84 183.6,668.89 184.4,668.85 185.2,668.77 186,668.78 186.8,668.7 187.6,668.65 188.4,668.61 189.2,668.48 190,668.56 190.8,668.44 191.6,668.59 192.4,668.72 193.2,668.91 194,668.75 194.8,668.52 195.6,668.42 196.4,668.33 197.2,668.16 198,668.19 198.8,668.43 199.6,668.36 200.4,668.24 201.2,668.29 202,668.52 202.8,668.38 203.6,668.39 204.4,668.3 205.2,668.39 206,668.52 206.8,668.44 207.6,668.24 208.4,668.16 209.2,668.42 210,668.28 210.8,668.16 211.6,668.15" fill="none" stroke="#424242" stroke-width="1.2" stroke-linejoin="round"/>
<polyline points="35.9,690.11 36.7,690.45 37.5,690.76 38.3,690.24 39.1,689.85 39.9,690.14 40.7,690.54 41.5,690.68 42.3,690.69 43.1,690.22 43.9,689.13 44.7,689.16 45.5,690.52 46.3,691.08 47.1,690.29 47.9,689.98 48.7,690.93 49.5,691.47 50.3,691.78 51.1,691.5 51.9,691.26 52.7,691.01 53.5,690.87 54.3,691.05 55.1,691.32 55.9,691.75 56.7,691.23 57.5,691.21 58.3,690.66 59.1,690.69 59.9,689.57 60.7,689.24 61.5,689.56 62.3,690.55 63.1,690.85 63.9,690.12 64.7,690.65 65.5,691.21 66.3,691.71 67.1,691.28 67.9,691.29 68.7,691.84 69.5,691.95 70.3,691.23 71.1,690.49 71.9,691.06 72.7,692.01 73.5,691.92 74.3,691.61 75.1,691.61 75.9,691.96 76.7,691.29 77.5,690.73 78.3,690.88 79.1,691.59 79.9,691.98 80.7,692.56 81.5,692.77 82.3,692.51 83.1,691.74 83.9,691.59 84.7,691.51 85.5,691.3 86.3,690.65 87.1,691.11 87.9,692.02 88.7,693 89.5,692.71 90.3,692.69 91.1,692.52 91.9,692.78 92.7,692.3 93.5,692.24 94.3,691.9 95.1,692.11 95.9,692.69 96.7,693.3 97.5,693.49 98.3,692.61 99.1,692.52 99.9,692.02 100.7,692.17 101.5,691.65 102.3,691.11 103.1,691.02 103.9,690.87 104.7,690.62 105.5,690.75 106.3,691.4 107.1,691.27 107.9,690.96 108.7,690.95 109.5,690.95 110.3,690.98 111.1,690.85 111.9,690.98 112.7,690.88 113.5,690.47 114.3,690.1 115.1,690.12 115.9,690.26 116.7,689.96 117.5,689.92 118.3,689.92 119.1,689.97 119.9,689.57 120.7,689.5 121.5,689.51 122.3,689.77 123.1,689.65 123.9,689.38 124.7,689.14 125.5,689.07 126.3,689.16 127.1,689.02 127.9,688.99 128.7,688.9 129.5,688.97 130.3,688.88 131.1,688.74 131.9,688.68 132.7,688.66 133.5,688.7" fill="none" stroke="#282828" stroke-width="1.2" stroke-linejoin="round"/>
<polyline points="137.2,688.26 138,687.95 138.8,687.82 139.6,688.07 140.4,688.4 141.2,688.4 142,688.28 142.8,688.16 143.6,687.87 144.4,687.85 145.2,688.08 146,688.28 146.8,688.19 147.6,688.08 148.4,687.99 149.2,687.92 150,687.86 150.8,687.87 151.6,687.71 152.4,687.56 153.2,687.57 154,687.66 154.8,687.39 155.6,687.23 156.4,687.08 157.2,687.46 158,687.66 158.8,687.93 159.6,687.6 160.4,687.31 161.2,687.16 162,687.25 162.8,687.27 163.6,687.26 164.4,687.34 165.2,687.49 166,687.33 166.8,686.91 167.6,686.77 168.4,686.87 169.2,687.11 170,687.32 170.8,687.6 171.6,687.56 172.4,687.41 173.2,687.42 174,687.38 174.8,687.2 175.6,687.09 176.4,687.07 177.2,686.92 178,686.69 178.8,686.66 179.6,686.65 180.4,686.78 181.2,686.76 182,686.93 182.8,687.02 183.6,686.88 184.4,686.71 185.2,686.59 186,686.8 186.8,686.78 187.6,686.76 188.4,686.63 189.2,686.51 190,686.48 190.8,686.45 191.6,686.47 192.4,686.43 193.2,686.26 194,686.26 194.8,686.11 195.6,686.2 196.4,686.24 197.2,686.42 198,686.27 198.8,686.49 199.6,686.49 200.4,686.42 201.2,685.97 202,686.1 202.8,686.08 203.6,686.18 204.4,685.94 205.2,685.93 206,685.79 206.8,685.95 207.6,685.9 208.4,685.77 209.2,685.67 210,685.59 210.8,685.49 211.6,685.42" fill="none" stroke="#282828" stroke-width="1.2" stroke-linejoin="round"/>
<polyline points="35.9,709.46 36.7,709.4 37.5,709.3 38.3,709.5 39.1,709.27 39.9,709.75 40.7,709.91 41.5,709.63 42.3,709.73 43.1,710.3 43.9,710.34 44.7,709.71 45.5,709.05 46.3,708.85 47.1,709.38 47.9,710.05 48.7,710.35 49.5,710.56 50.3,710.38 51.1,709.96 51.9,709.35 52.7,710.1 53.5,709.79 54.3,709.57 55.1,709.34 55.9,710.08 56.7,710.73 57.5,711.24 58.3,711.35 59.1,710.2 59.9,709.79 60.7,709.56 61.5,709.8 62.3,709.76 63.1,709.77 63.9,709.93 64.7,710.58 65.5,711.25 66.3,711.1 67.1,709.85 67.9,709.68 68.7,710.37 69.5,711.02 70.3,710.4 71.1,710.29 71.9,710.26 72.7,710.59 73.5,710.23 74.3,710.03 75.1,709.83 75.9,709.86 76.7,710.06 77.5,710.45 78.3,710.62 79.1,710.78 79.9,710.72 80.7,711.24 81.5,711.19 82.3,711.24 83.1,710.86 83.9,710.25 84.7,710.09 85.5,710.16 86.3,711.32 87.1,712.21 87.9,711.96 88.7,711.42 89.5,711.41 90.3,711.68 91.1,711.49 91.9,711.77 92.7,711.73 93.5,711.3 94.3,711.09 95.1,710.97 95.9,710.96 96.7,710.97 97.5,711 98.3,710.54 99.1,710.6 99.9,711.21 100.7,711.62 101.5,711.11 102.3,710.88 103.1,710.95 103.9,711.32 104.7,711.45 105.5,711.08 106.3,710.57 107.1,710.32 107.9,710.21 108.7,710.34 109.5,710.51 110.3,710.27 111.1,709.87 111.9,709.67 112.7,709.85 113.5,709.76 114.3,709.65 115.1,709.42 115.9,709.35 116.7,709.28 117.5,709.13 118.3,708.97 119.1,708.95 119.9,708.79 120.7,708.68 121.5,708.58 122.3,708.58 123.1,708.59 123.9,708.44 124.7,708.31 125.5,708.11 126.3,708.24 127.1,708.22 127.9,708.23 128.7,708.18 129.5,708.02 130.3,707.94 131.1,707.85 131.9,707.91 132.7,707.82 133.5,707.88" fill="none" stroke="#141414" stroke-width="1.2" stroke-linejoin="round"/>
<polyline points="137.2,706.7 138,706.86 138.8,706.8 139.6,706.57 140.4,706.25 141.2,706.27 142,706.51 142.8,706.61 143.6,706.39 144.4,706.17 145.2,706.16 146,706.19 146.8,706.03 147.6,705.66 148.4,705.49 149.2,705.73 150,706.07 150.8,705.81 151.6,705.57 152.4,705.39 153.2,705.75 154,705.88 154.8,705.85 155.6,705.63 156.4,705.56 157.2,705.67 158,705.59 158.8,705.49 159.6,705.43 160.4,705.31 161.2,705.48 162,705.48 162.8,705.43 163.6,705 164.4,705.11 165.2,705.48 166,705.5 166.8,705.37 167.6,705.3 168.4,705.32 169.2,705.08 170,705 170.8,705.15 171.6,705.2 172.4,704.94 173.2,704.91 174,705.1 174.8,705.1 175.6,704.72 176.4,704.51 177.2,704.58 178,704.67 178.8,704.77 179.6,704.66 180.4,704.46 181.2,704.49 182,704.57 182.8,704.84 183.6,704.71 184.4,704.66 185.2,704.43 186,704.38 186.8,704.37 187.6,704.43 188.4,704.33 189.2,704.07 190,704.15 190.8,704.13 191.6,704.2 192.4,704.23 193.2,704.27 194,704.2 194.8,704.34 195.6,704.42 196.4,704.21 197.2,704.17 198,704.3 198.8,704.12 199.6,703.77 200.4,703.57 201.2,703.59 202,703.4 202.8,703.45 203.6,703.56 204.4,703.67 205.2,703.69 206,703.64 206.8,703.51 207.6,703.36 208.4,703.36 209.2,703.29 210,703.32 210.8,703.36 211.6,703.31" fill="none" stroke="#141414" stroke-width="1.2" stroke-linejoin="round"/>
<polyline points="254,541.12 254.8,540.87 255.6,539.63 256.4,539.68 257.2,539.44 258,540.76 258.8,541.55 259.6,542.06 260.4,542.27 261.2,542.85 262,542.89 262.8,541.48 263.6,539.78 264.4,539.27 265.2,539.68 266,540.04 266.8,539.86 267.6,539.26 268.4,540.12 269.2,540.22 270,540.27 270.8,539.89 271.6,539.85 272.4,540.29 273.2,540.92 274,541.59 274.8,540.36 275.6,539.4 276.4,538.25 277.2,539.64 278,540.68 278.8,541.03 279.6,539.73 280.4,539.97 281.2,541.37 282,541.34 282.8,540.29 283.6,538.75 284.4,539.54 285.2,540.33 286,542.3 286.8,542.25 287.6,541.55 288.4,539.99 289.2,540.45 290,540.11 290.8,540.44 291.6,540.54 292.4,541.03 293.2,540.06 294,540.41 294.8,541.96 295.6,542.34 296.4,541.68 297.2,541.79 298,541.91 298.8,541.12 299.6,539.67 300.4,539.74 301.2,540.02 302,540.44 302.8,540.08 303.6,539.26 304.4,538.64 305.2,538.56 306,539.77 306.8,540.47 307.6,540.34 308.4,540.29 309.2,541.1 310,541.13 310.8,540.25 311.6,540.32 312.4,541.11 313.2,540.95 314,540.53 314.8,540.51 315.6,541.46 316.4,541.08 317.2,541.21 318,541.15 318.8,541 319.6,540.83 320.4,541.43 321.2,541.24 322,541.33 322.8,540.83 323.6,540.5 324.4,539.35 325.2,540.43 326,541.39 326.8,541.47 327.6,541.65 328.4,541.81 329.2,542.41 330,543.32 330.8,543.45 331.6,540.95 332.4,538.78 333.2,538.49 334,539.75 334.8,540.24 335.6,540.47 336.4,540.13 337.2,540.06 338,540.32 338.8,540.03 339.6,540.12 340.4,540.4 341.2,540.86 342,540.71 342.8,540.52 343.6,540.42 344.4,540.63 345.2,541.13 346,541.23 346.8,540.92 347.6,540.48 348.4,540.62 349.2,540.92 350,540.95 350.8,540.17 351.6,539.77 352.4,539.55 353.2,540.17 354,540.6 354.8,540.76 355.6,540.39 356.4,540.91 357.2,541.51 358,541.19 358.8,540.46 359.6,540.04 360.4,540.24" fill="none" stroke="#d3e9f0" stroke-width="1.25" stroke-linejoin="round"/>
<polyline points="365.8,540.43 366.6,540.94 367.4,541.63 368.2,541.54 369,540.94 369.8,540.66 370.6,540.85 371.4,540.69 372.2,540.17 373,540.27 373.8,540.78 374.6,541.29 375.4,541.06 376.2,541.17 377,540.84 377.8,540.75 378.6,540.81 379.4,541.15 380.2,540.93 381,540.71 381.8,540.48 382.6,540.21 383.4,540.08 384.2,540.55 385,541 385.8,540.64 386.6,540.41 387.4,540.49 388.2,540.61 389,539.93 389.8,539.86 390.6,540.29 391.4,540.79 392.2,540.26 393,539.69 393.8,539.8 394.6,540.46 395.4,540.91 396.2,540.67 397,540.42 397.8,540.12 398.6,539.96 399.4,539.7 400.2,539.78 401,539.79 401.8,540.03 402.6,540.15 403.4,540.02 404.2,540.04 405,539.82 405.8,539.82 406.6,539.73 407.4,540.15 408.2,539.64 409,539.37 409.8,539.51 410.6,540.14 411.4,539.54 412.2,538.95 413,538.75 413.8,539.08 414.6,539.42 415.4,539.43 416.2,539.65 417,539.71 417.8,539.65 418.6,539.27 419.4,539.28 420.2,539.77 421,540.35 421.8,540.65 422.6,540.91 423.4,540.69 424.2,540.18 425,540 425.8,540.63 426.6,541.24 427.4,541.15 428.2,541.19 429,541.76 429.8,542.08 430.6,541.81 431.4,541.32 432.2,541.71 433,542.01 433.8,542.15 434.6,542.06 435.4,542.29 436.2,542.01 437,541.84 437.8,541.9 438.6,542.14 439.4,542.11 440.2,541.88 441,541.66 441.8,541.39 442.6,541.57 443.4,541.51 444.2,541.55 445,541.23 445.8,541.19 446.6,541.05 447.4,541.15 448.2,541.11" fill="none" stroke="#d3e9f0" stroke-width="1.25" stroke-linejoin="round"/>
<polyline points="254,559.6 254.8,559.42 255.6,558.23 256.4,558.59 257.2,558.95 258,559.62 258.8,558.65 259.6,559.42 260.4,559.4 261.2,559.78 262,560.13 262.8,561.63 263.6,562.08 264.4,561.7 265.2,560.07 266,559.8 266.8,560.56 267.6,561.64 268.4,561.32 269.2,560.72 270,559.86 270.8,559.91 271.6,560.85 272.4,560.6 273.2,560.1 274,559.91 274.8,560.83 275.6,560.49 276.4,560.38 277.2,560.98 278,561.51 278.8,560.16 279.6,559.65 280.4,559.6 281.2,559.6 282,559.34 282.8,558.91 283.6,559.63 284.4,560.57 285.2,561.19 286,560.81 286.8,560.41 287.6,560.95 288.4,559.78 289.2,559.51 290,559.6 290.8,560.64 291.6,560.44 292.4,560.83 293.2,560.79 294,561.01 294.8,561.24 295.6,561.32 296.4,561.28 297.2,560.83 298,560.88 298.8,560.12 299.6,560.23 300.4,560.85 301.2,561.17 302,560.95 302.8,560.68 303.6,560.08 304.4,559.57 305.2,560.31 306,560.82 306.8,559.36 307.6,558.54 308.4,558.81 309.2,560.62 310,560.94 310.8,560.94 311.6,559.59 312.4,559.63 313.2,559.48 314,559.18 314.8,558.94 315.6,558.94 316.4,559.98 317.2,559.75 318,559.69 318.8,558.81 319.6,558.57 320.4,559.35 321.2,559.13 322,559.95 322.8,558.93 323.6,559.57 324.4,560.24 325.2,560.23 326,558.66 326.8,558.27 327.6,559.95 328.4,560.17 329.2,559.32 330,558.79 330.8,558.96 331.6,559.95 332.4,560.49 333.2,560.16 334,560.08 334.8,561.51 335.6,560.16 336.4,559.79 337.2,559.31 338,559.23 338.8,559.07 339.6,559.06 340.4,558.81 341.2,558.4 342,558.35 342.8,558.81 343.6,559.52 344.4,559.62 345.2,559.43 346,559.33 346.8,559.64 347.6,559.65 348.4,559.44 349.2,559.66 350,559.74 350.8,559.49 351.6,558.76 352.4,558.83 353.2,559.01 354,559.68 354.8,559.67 355.6,559.73 356.4,559.6 357.2,560.01 358,559.62 358.8,559.54 359.6,559.39 360.4,559.55" fill="none" stroke="#bbdbea" stroke-width="1.25" stroke-linejoin="round"/>
<polyline points="365.8,559.64 366.6,559.54 367.4,559.48 368.2,559.1 369,559.13 369.8,559.35 370.6,559.55 371.4,559.37 372.2,559.8 373,560.16 373.8,559.97 374.6,559.8 375.4,559.7 376.2,559.58 377,559.2 377.8,559.26 378.6,559.42 379.4,559.66 380.2,559.55 381,559.31 381.8,559.25 382.6,559.3 383.4,559.28 384.2,559.15 385,559.04 385.8,559.04 386.6,559.02 387.4,559.15 388.2,559.18 389,559.15 389.8,558.91 390.6,558.86 391.4,558.99 392.2,559.11 393,559.17 393.8,559.06 394.6,559.4 395.4,559.96 396.2,560.15 397,559.78 397.8,559.45 398.6,559.2 399.4,558.96 400.2,559.35 401,559.68 401.8,559.71 402.6,559.14 403.4,558.94 404.2,559.16 405,559.35 405.8,559.28 406.6,559.09 407.4,559.09 408.2,559.09 409,558.92 409.8,558.78 410.6,558.37 411.4,558.69 412.2,558.82 413,558.79 413.8,558.55 414.6,558.48 415.4,558.35 416.2,558.04 417,558.17 417.8,558.26 418.6,558.6 419.4,558.78 420.2,558.87 421,558.86 421.8,559.03 422.6,559.21 423.4,559.53 424.2,559.86 425,560.03 425.8,559.66 426.6,559.56 427.4,559.41 428.2,559.54 429,559.55 429.8,559.66 430.6,559.44 431.4,559.3 432.2,559.77 433,560.03 433.8,559.97 434.6,559.78 435.4,559.96 436.2,560.14 437,559.78 437.8,559.37 438.6,559.75 439.4,560.19 440.2,560.1 441,559.51 441.8,559.69 442.6,559.54 443.4,559.4 444.2,559.28 445,559.54 445.8,559.52 446.6,559.37 447.4,559.02 448.2,558.92" fill="none" stroke="#bbdbea" stroke-width="1.25" stroke-linejoin="round"/>
<polyline points="254,583.85 254.8,583.7 255.6,584.33 256.4,584.87 257.2,585.78 258,585.95 258.8,585.16 259.6,585.6 260.4,585.46 261.2,585.19 262,585.44 262.8,585.61 263.6,584.91 264.4,583.85 265.2,584.45 266,584.72 266.8,585.02 267.6,585.47 268.4,587.15 269.2,586.65 270,586.12 270.8,584.39 271.6,584.11 272.4,584.04 273.2,585.22 274,585.46 274.8,585.28 275.6,584.38 276.4,582.52 277.2,583.98 278,585.44 278.8,586.08 279.6,586.46 280.4,586.86 281.2,585.63 282,584.34 282.8,583.87 283.6,584.54 284.4,585.28 285.2,586.05 286,586.29 286.8,585.67 287.6,585.99 288.4,586.08 289.2,585.59 290,585.42 290.8,586.07 291.6,586.9 292.4,586.81 293.2,586.78 294,585.84 294.8,584.96 295.6,584.51 296.4,583.59 297.2,583.84 298,584.89 298.8,586.41 299.6,585.93 300.4,585.95 301.2,586.12 302,586.55 302.8,587.31 303.6,587.92 304.4,587.65 305.2,586.81 306,586.49 306.8,586.11 307.6,585.9 308.4,586.29 309.2,585.49 310,584.86 310.8,584.86 311.6,585.38 312.4,585.15 313.2,584.52 314,585 314.8,585.61 315.6,586.7 316.4,586.74 317.2,585.67 318,584.75 318.8,584.87 319.6,585.93 320.4,584.74 321.2,583.92 322,582.57 322.8,583.55 323.6,583.91 324.4,584.95 325.2,584.93 326,584.85 326.8,584.05 327.6,583.49 328.4,583.97 329.2,584.28 330,583.79 330.8,582.48 331.6,582.84 332.4,582.89 333.2,582.77 334,581.83 334.8,581.62 335.6,582.28 336.4,582.59 337.2,582.95 338,583.18 338.8,583.19 339.6,582.79 340.4,582.37 341.2,582.4 342,583.04 342.8,582.64 343.6,581.74 344.4,581.31 345.2,581.59 346,581.56 346.8,581.44 347.6,581.38 348.4,580.99 349.2,580.75 350,581.03 350.8,581.57 351.6,581.75 352.4,581.73 353.2,581.46 354,581.06 354.8,580.62 355.6,580.48 356.4,580.85 357.2,581.37 358,581.81 358.8,581.64 359.6,580.98 360.4,580.42" fill="none" stroke="#9fcae3" stroke-width="1.25" stroke-linejoin="round"/>
<polyline points="365.8,578.58 366.6,578.37 367.4,577.81 368.2,577.61 369,578.02 369.8,578.12 370.6,577.91 371.4,577.68 372.2,577.63 373,577.42 373.8,577.55 374.6,577.76 375.4,577.82 376.2,577.32 377,577.56 377.8,577.74 378.6,578 379.4,577.53 380.2,577.69 381,577.52 381.8,577.61 382.6,577.6 383.4,577.99 384.2,577.83 385,577.63 385.8,577.44 386.6,578 387.4,577.98 388.2,577.86 389,577.47 389.8,577.71 390.6,577.81 391.4,577.95 392.2,577.89 393,577.83 393.8,577.78 394.6,577.92 395.4,578.02 396.2,578.07 397,577.68 397.8,577.46 398.6,577.45 399.4,577.63 400.2,577.69 401,577.73 401.8,577.26 402.6,577.02 403.4,576.96 404.2,577.3 405,576.97 405.8,576.97 406.6,577.26 407.4,577.66 408.2,577.51 409,577.33 409.8,577.31 410.6,577.62 411.4,577.73 412.2,577.51 413,577.1 413.8,576.87 414.6,576.83 415.4,576.66 416.2,576.64 417,576.44 417.8,576.17 418.6,575.94 419.4,575.86 420.2,575.72 421,575.14 421.8,575.09 422.6,575.11 423.4,575.22 424.2,574.99 425,574.9 425.8,574.64 426.6,574.72 427.4,574.63 428.2,574.64 429,574.55 429.8,574.44 430.6,574.03 431.4,573.52 432.2,573.67 433,573.64 433.8,573.47 434.6,573.43 435.4,573.74 436.2,573.71 437,573.55 437.8,573.51 438.6,574.03 439.4,574.24 440.2,574.02 441,573.35 441.8,572.89 442.6,572.96 443.4,573.05 444.2,573.3 445,573.32 445.8,573.01 446.6,572.65 447.4,572.91 448.2,573.29" fill="none" stroke="#9fcae3" stroke-width="1.25" stroke-linejoin="round"/>
<polyline points="254,604.31 254.8,604.02 255.6,603.35 256.4,603.45 257.2,602.7 258,602.96 258.8,603.07 259.6,603.75 260.4,602.14 261.2,602.15 262,603.25 262.8,603.61 263.6,603.67 264.4,603.88 265.2,604.49 266,602.7 266.8,602.93 267.6,603.93 268.4,604.92 269.2,604.26 270,603.58 270.8,603.66 271.6,603.62 272.4,604.2 273.2,603.23 274,602.83 274.8,601.77 275.6,602.86 276.4,601.36 277.2,602.25 278,602.77 278.8,604.15 279.6,605.82 280.4,606.36 281.2,605.9 282,605.94 282.8,604.17 283.6,603 284.4,602.67 285.2,603.65 286,603.45 286.8,602.98 287.6,602.75 288.4,604.07 289.2,605.15 290,605.35 290.8,604.58 291.6,604.57 292.4,604.53 293.2,604.42 294,603.51 294.8,604.01 295.6,605.1 296.4,606.27 297.2,606.11 298,605.86 298.8,606.73 299.6,606.91 300.4,605.74 301.2,603.9 302,604.23 302.8,605.79 303.6,606.81 304.4,606.84 305.2,606.42 306,605.15 306.8,604.08 307.6,603.19 308.4,603.58 309.2,603.49 310,604.31 310.8,604.66 311.6,604.28 312.4,604.25 313.2,605.13 314,605.34 314.8,604.58 315.6,604.73 316.4,605.31 317.2,605.41 318,605.26 318.8,605.76 319.6,605.48 320.4,605.04 321.2,604.58 322,604.9 322.8,605.05 323.6,604.35 324.4,603.3 325.2,602.8 326,602.69 326.8,603.06 327.6,603.36 328.4,603.5 329.2,603.24 330,603.16 330.8,603.96 331.6,604.74 332.4,604.21 333.2,603.24 334,602.54 334.8,602.58 335.6,602.44 336.4,602.3 337.2,601.95 338,601.38 338.8,601.4 339.6,602.02 340.4,602.33 341.2,602.19 342,601.9 342.8,602.01 343.6,601.73 344.4,601.62 345.2,601.52 346,601.15 346.8,601.03 347.6,601.14 348.4,601.04 349.2,600.91 350,601.09 350.8,601.54 351.6,601.44 352.4,601.33 353.2,600.97 354,600.72 354.8,600.72 355.6,601.35 356.4,601.95 357.2,601.88 358,601.15 358.8,600.81 359.6,601.05 360.4,601.13" fill="none" stroke="#88bcdd" stroke-width="1.25" stroke-linejoin="round"/>
<polyline points="365.8,596.86 366.6,597.15 367.4,597.61 368.2,597.44 369,596.63 369.8,596.27 370.6,596.61 371.4,597.06 372.2,597.15 373,596.76 373.8,596.61 374.6,596.86 375.4,597.15 376.2,596.98 377,596.93 377.8,596.96 378.6,596.8 379.4,596.64 380.2,596.48 381,596.75 381.8,596.93 382.6,596.94 383.4,596.71 384.2,596.91 385,596.76 385.8,596.49 386.6,596.66 387.4,596.86 388.2,596.65 389,596.18 389.8,596.35 390.6,596.03 391.4,595.84 392.2,595.78 393,596.3 393.8,596.81 394.6,597.42 395.4,598.22 396.2,598.48 397,597.96 397.8,596.95 398.6,596.39 399.4,596.77 400.2,597.49 401,597.58 401.8,597.03 402.6,596.77 403.4,596.54 404.2,596.64 405,596.51 405.8,596.4 406.6,596.42 407.4,596.22 408.2,596.01 409,595.43 409.8,595.53 410.6,595.47 411.4,595.7 412.2,595.79 413,595.65 413.8,595.59 414.6,595.34 415.4,595.29 416.2,595.04 417,595.24 417.8,595.11 418.6,595.28 419.4,595.11 420.2,595.12 421,595.11 421.8,595.17 422.6,594.71 423.4,594.35 424.2,593.84 425,593.89 425.8,593.79 426.6,593.88 427.4,593.61 428.2,593.51 429,593.88 429.8,593.71 430.6,593.77 431.4,593.62 432.2,593.43 433,592.74 433.8,592.67 434.6,592.83 435.4,592.87 436.2,592.57 437,592.31 437.8,592.12 438.6,592.01 439.4,591.89 440.2,591.84 441,592.38 441.8,593.04 442.6,593.05 443.4,592.63 444.2,592.43 445,592.7 445.8,592.77 446.6,592.52 447.4,592.16 448.2,592.11" fill="none" stroke="#88bcdd" stroke-width="1.25" stroke-linejoin="round"/>
<polyline points="254,624.57 254.8,624.48 255.6,622.2 256.4,620.99 257.2,621.8 258,622.82 258.8,623.1 259.6,623.38 260.4,622.39 261.2,620.42 262,620.26 262.8,620.7 263.6,621.71 264.4,621.32 265.2,621.48 266,620.71 266.8,621.01 267.6,621.16 268.4,622.27 269.2,623.38 270,623.67 270.8,622.62 271.6,622.84 272.4,623.66 273.2,624.18 274,623.51 274.8,624.1 275.6,624.11 276.4,622.5 277.2,623.31 278,623.05 278.8,622.1 279.6,621.69 280.4,621.87 281.2,621.63 282,622.85 282.8,622.96 283.6,622.68 284.4,621.58 285.2,621.82 286,622.82 286.8,623.2 287.6,622.78 288.4,622.94 289.2,623.46 290,622.17 290.8,620.99 291.6,620.77 292.4,622.76 293.2,623.37 294,623.09 294.8,621.74 295.6,621.82 296.4,622.32 297.2,621.97 298,620.29 298.8,620.35 299.6,622.12 300.4,623.22 301.2,623.29 302,624.08 302.8,623.29 303.6,622.14 304.4,622.57 305.2,623.57 306,623.18 306.8,623.17 307.6,623.62 308.4,622.93 309.2,621.88 310,621.4 310.8,622.22 311.6,621.96 312.4,622.76 313.2,622 314,622.4 314.8,621.28 315.6,621.64 316.4,622.28 317.2,623.83 318,624.64 318.8,623.99 319.6,623.1 320.4,622.46 321.2,622.76 322,622.45 322.8,622.62 323.6,622.62 324.4,623.2 325.2,622.89 326,622.85 326.8,621.76 327.6,620.91 328.4,619.8 329.2,619.77 330,619.99 330.8,621.06 331.6,620.64 332.4,622.03 333.2,622.25 334,622.93 334.8,621.92 335.6,620.5 336.4,619.86 337.2,620.04 338,620.11 338.8,619.98 339.6,619.63 340.4,619.86 341.2,619.71 342,619.49 342.8,619.42 343.6,619.31 344.4,619.43 345.2,619.46 346,620.38 346.8,620.74 347.6,620.43 348.4,619.64 349.2,619.32 350,619.16 350.8,619.51 351.6,619.74 352.4,619.73 353.2,619.36 354,619.73 354.8,619.35 355.6,619.19 356.4,618.89 357.2,619.25 358,618.84 358.8,618.36 359.6,618.22 360.4,618.5" fill="none" stroke="#70acd6" stroke-width="1.25" stroke-linejoin="round"/>
<polyline points="365.8,616.29 366.6,616 367.4,616.07 368.2,616.55 369,616.65 369.8,616.31 370.6,615.97 371.4,616.5 372.2,616.89 373,616.87 373.8,616.56 374.6,616.93 375.4,617.21 376.2,616.69 377,616.09 377.8,615.87 378.6,616.03 379.4,615.82 380.2,615.75 381,615.65 381.8,615.88 382.6,616.03 383.4,615.94 384.2,615.47 385,615.35 385.8,615.78 386.6,616.24 387.4,616.29 388.2,615.53 389,615.14 389.8,615.17 390.6,615.68 391.4,615.56 392.2,615.54 393,615.53 393.8,616.35 394.6,617.18 395.4,617.77 396.2,617.38 397,616.7 397.8,616.12 398.6,615.76 399.4,615.64 400.2,615.78 401,616.03 401.8,616.04 402.6,616.03 403.4,615.95 404.2,615.62 405,614.96 405.8,614.71 406.6,614.9 407.4,615.29 408.2,615.6 409,615.51 409.8,615.16 410.6,615.05 411.4,615.42 412.2,615.47 413,615.25 413.8,615.29 414.6,615.45 415.4,615.27 416.2,614.58 417,614.59 417.8,614.88 418.6,615.19 419.4,614.79 420.2,614.37 421,614.23 421.8,614.31 422.6,614.67 423.4,614.47 424.2,614.54 425,614.42 425.8,614.68 426.6,614.19 427.4,613.92 428.2,613.74 429,613.69 429.8,613 430.6,612.33 431.4,612.22 432.2,612.1 433,611.68 433.8,611.57 434.6,611.7 435.4,611.97 436.2,611.77 437,611.46 437.8,611.12 438.6,611.63 439.4,611.91 440.2,611.88 441,611.68 441.8,611.65 442.6,611.76 443.4,611.85 444.2,612.03 445,611.53 445.8,611.05 446.6,610.46 447.4,610.67 448.2,611.14" fill="none" stroke="#70acd6" stroke-width="1.25" stroke-linejoin="round"/>
<polyline points="254,640.58 254.8,641.55 255.6,641.69 256.4,640.86 257.2,640.32 258,641.44 258.8,641.36 259.6,641.06 260.4,640.4 261.2,640.53 262,640.65 262.8,640.6 263.6,639.95 264.4,639.86 265.2,640.62 266,640.97 266.8,640.54 267.6,640.89 268.4,640.99 269.2,641.37 270,641.58 270.8,642.57 271.6,643.09 272.4,643.35 273.2,642.43 274,641.68 274.8,641.01 275.6,642.22 276.4,641.15 277.2,642.51 278,642.64 278.8,642.26 279.6,641.09 280.4,639.88 281.2,639.6 282,640.33 282.8,640.37 283.6,641.82 284.4,643.3 285.2,643.58 286,642.86 286.8,641.67 287.6,641.83 288.4,642.58 289.2,642.97 290,642.55 290.8,642.57 291.6,642.93 292.4,642.36 293.2,642.13 294,642.08 294.8,642.94 295.6,643.86 296.4,644.64 297.2,644.38 298,643.96 298.8,644.92 299.6,644.52 300.4,644.74 301.2,644.43 302,645.37 302.8,644.45 303.6,644.08 304.4,643.5 305.2,642.89 306,642.95 306.8,642.96 307.6,643.91 308.4,645.04 309.2,644.14 310,642.03 310.8,641.89 311.6,644.13 312.4,644.92 313.2,644.85 314,645.05 314.8,645.34 315.6,645.93 316.4,645.53 317.2,645.03 318,643.17 318.8,642.48 319.6,641.44 320.4,642.68 321.2,644.28 322,645.18 322.8,643.19 323.6,641.31 324.4,641.02 325.2,641.63 326,642.08 326.8,642.51 327.6,640.73 328.4,640.02 329.2,639.76 330,640.36 330.8,640.2 331.6,640.51 332.4,639.62 333.2,637.79 334,637.83 334.8,639.16 335.6,639.81 336.4,639.66 337.2,639.11 338,638.98 338.8,638.93 339.6,639.05 340.4,638.75 341.2,638.68 342,638.19 342.8,638.04 343.6,637.81 344.4,637.54 345.2,637.31 346,637.19 346.8,637.24 347.6,637.24 348.4,637.19 349.2,636.96 350,636.79 350.8,637.11 351.6,637.19 352.4,636.89 353.2,636.33 354,636.41 354.8,636.47 355.6,636.36 356.4,636.1 357.2,636.09 358,636.17 358.8,636.27 359.6,635.84 360.4,635.56" fill="none" stroke="#5b9fd0" stroke-width="1.25" stroke-linejoin="round"/>
<polyline points="365.8,631.56 366.6,631.59 367.4,632.17 368.2,632.87 369,632.75 369.8,632.67 370.6,632.47 371.4,632.34 372.2,631.83 373,631.59 373.8,631.54 374.6,631.97 375.4,632.49 376.2,632.54 377,632.3 377.8,632.08 378.6,632.01 379.4,631.55 380.2,631.29 381,631.22 381.8,631.42 382.6,631.58 383.4,631.81 384.2,631.82 385,631.92 385.8,631.81 386.6,631.91 387.4,631.62 388.2,631.63 389,631.63 389.8,631.79 390.6,631.41 391.4,631.39 392.2,631.53 393,631.89 393.8,632.17 394.6,632.87 395.4,633.52 396.2,633.78 397,633.2 397.8,632.15 398.6,631.52 399.4,631.49 400.2,631.68 401,631.62 401.8,631.46 402.6,631.35 403.4,631.11 404.2,630.79 405,630.95 405.8,631.12 406.6,631.27 407.4,630.81 408.2,630.81 409,630.68 409.8,631.38 410.6,631.36 411.4,631.06 412.2,630.66 413,631.13 413.8,630.9 414.6,630.55 415.4,630.61 416.2,630.78 417,630.7 417.8,630.54 418.6,630.49 419.4,630.26 420.2,630.29 421,630.19 421.8,630.57 422.6,630.76 423.4,630.69 424.2,630.38 425,630.51 425.8,630.77 426.6,630.55 427.4,630.26 428.2,629.69 429,629.3 429.8,628.72 430.6,628.19 431.4,628.06 432.2,627.79 433,627.42 433.8,627.02 434.6,627.2 435.4,627.38 436.2,627.55 437,627.2 437.8,627.01 438.6,626.87 439.4,627 440.2,626.95 441,626.63 441.8,626.58 442.6,626.69 443.4,626.76 444.2,626.58 445,626.9 445.8,627.18 446.6,627.18 447.4,626.92 448.2,626.94" fill="none" stroke="#5b9fd0" stroke-width="1.25" stroke-linejoin="round"/>
<polyline points="254,656.29 254.8,656.08 255.6,657.34 256.4,658.62 257.2,658.41 258,658.03 258.8,657.88 259.6,657.75 260.4,657.41 261.2,657.25 262,656.61 262.8,657.03 263.6,657.12 264.4,657.77 265.2,656.76 266,657.44 266.8,657.39 267.6,658.03 268.4,656.93 269.2,656.77 270,657.46 270.8,658.27 271.6,658.25 272.4,659.07 273.2,659.48 274,659.48 274.8,658.63 275.6,658.73 276.4,657.77 277.2,661.12 278,662.59 278.8,662.37 279.6,661.86 280.4,660.74 281.2,660.17 282,660.66 282.8,660.81 283.6,660.97 284.4,661.85 285.2,662.9 286,661.92 286.8,661.65 287.6,661.19 288.4,661.91 289.2,661.04 290,661.78 290.8,662.79 291.6,663.41 292.4,662.24 293.2,661.86 294,663.46 294.8,664.77 295.6,665.02 296.4,664.71 297.2,665.12 298,665.51 298.8,665.84 299.6,666.24 300.4,666.62 301.2,665.79 302,665.39 302.8,665.06 303.6,665.77 304.4,665.89 305.2,665.8 306,665.53 306.8,666.17 307.6,666.5 308.4,665.8 309.2,665.51 310,666.66 310.8,667.2 311.6,666.62 312.4,665.56 313.2,665.21 314,665.58 314.8,666.39 315.6,666.22 316.4,665.06 317.2,663.4 318,662.97 318.8,663.41 319.6,664.55 320.4,665.22 321.2,665 322,664.29 322.8,662.36 323.6,662.05 324.4,662.02 325.2,662.88 326,662.29 326.8,661.57 327.6,661.21 328.4,660.32 329.2,659.69 330,659.39 330.8,659.09 331.6,657.53 332.4,656.87 333.2,657.37 334,658 334.8,657.94 335.6,657 336.4,656.6 337.2,656.53 338,656.43 338.8,655.96 339.6,655.27 340.4,655.22 341.2,655.58 342,655.38 342.8,654.92 343.6,654.64 344.4,654.6 345.2,654.06 346,653.46 346.8,653.17 347.6,653.1 348.4,653.32 349.2,653.36 350,653.28 350.8,653.06 351.6,652.59 352.4,652.45 353.2,652.68 354,652.6 354.8,652.39 355.6,652.28 356.4,652.23 357.2,652.12 358,651.52 358.8,650.75 359.6,650.47 360.4,651.04" fill="none" stroke="#4891ca" stroke-width="1.25" stroke-linejoin="round"/>
<polyline points="365.8,645.58 366.6,645.79 367.4,646.05 368.2,645.91 369,645.41 369.8,645.49 370.6,646.1 371.4,645.9 372.2,645.56 373,645.29 373.8,645.29 374.6,645.12 375.4,644.98 376.2,645.09 377,645.45 377.8,645.93 378.6,646.08 379.4,645.91 380.2,645.85 381,645.86 381.8,645.57 382.6,645.31 383.4,645.32 384.2,645.46 385,645.34 385.8,645.41 386.6,645.89 387.4,645.87 388.2,645.38 389,645.19 389.8,645.41 390.6,645.4 391.4,645.33 392.2,645.44 393,645.59 393.8,646.22 394.6,647.31 395.4,648.49 396.2,648.44 397,647.78 397.8,646.82 398.6,645.87 399.4,645.15 400.2,644.98 401,644.95 401.8,644.86 402.6,644.9 403.4,644.94 404.2,644.75 405,644.77 405.8,644.53 406.6,644.57 407.4,644.52 408.2,644.75 409,644.16 409.8,644.26 410.6,644.1 411.4,644.14 412.2,643.98 413,644.24 413.8,644.23 414.6,643.73 415.4,643.66 416.2,643.89 417,644.47 417.8,644.57 418.6,644.57 419.4,644.62 420.2,644.62 421,644.45 421.8,644.78 422.6,644.97 423.4,645.2 424.2,645.04 425,645.41 425.8,645.17 426.6,644.99 427.4,644.31 428.2,643.52 429,642.4 429.8,641.11 430.6,639.98 431.4,638.96 432.2,638.54 433,638.32 433.8,638.04 434.6,637.71 435.4,637.72 436.2,637.78 437,637.99 437.8,638.17 438.6,638.39 439.4,638.02 440.2,637.75 441,637.78 441.8,637.72 442.6,637.69 443.4,637.62 444.2,637.75 445,637.66 445.8,637.48 446.6,637.53 447.4,637.38 448.2,637.47" fill="none" stroke="#4891ca" stroke-width="1.25" stroke-linejoin="round"/>
<polyline points="254,673.4 254.8,673.56 255.6,672.78 256.4,672.35 257.2,672.9 258,671.9 258.8,670.92 259.6,672.49 260.4,674.78 261.2,675.69 262,675.44 262.8,675.32 263.6,674.07 264.4,674.02 265.2,674.8 266,675.92 266.8,675.82 267.6,673.99 268.4,673.24 269.2,672.85 270,674.26 270.8,674.54 271.6,675.26 272.4,674.63 273.2,675.91 274,675.73 274.8,675.92 275.6,676.31 276.4,676.05 277.2,676.45 278,676.05 278.8,676.9 279.6,678.04 280.4,676.36 281.2,674.97 282,674.92 282.8,676.8 283.6,677.6 284.4,678.33 285.2,677.75 286,678.35 286.8,678.13 287.6,678.56 288.4,678.9 289.2,678.51 290,678.37 290.8,680.13 291.6,682.02 292.4,681.77 293.2,680.61 294,680.44 294.8,681.7 295.6,683.01 296.4,683.39 297.2,682.32 298,682.19 298.8,682.31 299.6,682.05 300.4,680.31 301.2,679.51 302,680.61 302.8,681.97 303.6,682.4 304.4,682.29 305.2,682.1 306,682.33 306.8,682.78 307.6,683.25 308.4,683.2 309.2,682.95 310,682.51 310.8,682.8 311.6,682.51 312.4,683.24 313.2,682.97 314,682.85 314.8,681.35 315.6,680.71 316.4,680.43 317.2,680.66 318,680.22 318.8,679.13 319.6,678.75 320.4,679.07 321.2,679.68 322,680.05 322.8,679.58 323.6,677.57 324.4,676.16 325.2,675.3 326,675.01 326.8,675.38 327.6,676.74 328.4,676.66 329.2,675.22 330,674.56 330.8,673.77 331.6,673.81 332.4,673.83 333.2,675.37 334,674.7 334.8,674.68 335.6,673.53 336.4,673.62 337.2,673.09 338,673.03 338.8,672.62 339.6,672.35 340.4,671.92 341.2,671.94 342,672.03 342.8,672.18 343.6,672.13 344.4,671.24 345.2,670.39 346,669.76 346.8,669.94 347.6,670.08 348.4,670.11 349.2,669.63 350,669.37 350.8,669.52 351.6,669.91 352.4,669.92 353.2,669.86 354,669.77 354.8,669.55 355.6,669.15 356.4,668.49 357.2,668.47 358,668.66 358.8,669.11 359.6,668.98 360.4,668.56" fill="none" stroke="#3684c3" stroke-width="1.25" stroke-linejoin="round"/>
<polyline points="365.8,662.52 366.6,662.25 367.4,662.35 368.2,662.8 369,662.68 369.8,662.03 370.6,662.03 371.4,662.36 372.2,662.62 373,662.24 373.8,662.56 374.6,662.74 375.4,662.98 376.2,662.94 377,662.83 377.8,662.84 378.6,663.04 379.4,663.28 380.2,663.01 381,662.42 381.8,662.15 382.6,662.25 383.4,662.4 384.2,662.34 385,662.45 385.8,662.5 386.6,662.63 387.4,662.52 388.2,662.59 389,662.33 389.8,662.49 390.6,662.6 391.4,662.8 392.2,662.62 393,662.8 393.8,663.18 394.6,664.06 395.4,665.2 396.2,665.15 397,663.9 397.8,662.62 398.6,662.17 399.4,662.39 400.2,662.22 401,662 401.8,661.86 402.6,662.4 403.4,662.56 404.2,662.09 405,661.56 405.8,661.42 406.6,661.65 407.4,662.04 408.2,662.05 409,662 409.8,661.74 410.6,661.62 411.4,661.53 412.2,661.32 413,661.28 413.8,661.17 414.6,661.29 415.4,661.06 416.2,660.75 417,660.76 417.8,661.16 418.6,661.23 419.4,661.02 420.2,660.82 421,661.3 421.8,661.22 422.6,661.49 423.4,661.14 424.2,661.32 425,661.01 425.8,661.01 426.6,660.96 427.4,660.82 428.2,660.21 429,659.07 429.8,658.47 430.6,658.19 431.4,657.68 432.2,656.7 433,656.26 433.8,656.23 434.6,656.43 435.4,656.23 436.2,656.04 437,655.7 437.8,656.03 438.6,656.44 439.4,656.56 440.2,656.28 441,656.22 441.8,656.22 442.6,655.83 443.4,655.71 444.2,655.96 445,656.04 445.8,656.07 446.6,656.11 447.4,655.75 448.2,655.35" fill="none" stroke="#3684c3" stroke-width="1.25" stroke-linejoin="round"/>
<polyline points="254,693.63 254.8,694.66 255.6,694.85 256.4,694.47 257.2,693.7 258,694.01 258.8,693.38 259.6,692.97 260.4,693 261.2,694.5 262,696.11 262.8,695.94 263.6,694.1 264.4,692.45 265.2,692.79 266,693.06 266.8,693.62 267.6,694.78 268.4,694.73 269.2,693.54 270,692.02 270.8,693.37 271.6,695.56 272.4,695.89 273.2,694.02 274,693.48 274.8,695.34 275.6,696.7 276.4,695.29 277.2,696.28 278,696.86 278.8,696.56 279.6,697.21 280.4,697.19 281.2,696.07 282,695.74 282.8,695.26 283.6,695.84 284.4,697.12 285.2,697.63 286,697.99 286.8,699.15 287.6,700.43 288.4,699.12 289.2,697.49 290,697.41 290.8,697.68 291.6,697.55 292.4,697.86 293.2,698.88 294,700.14 294.8,700.02 295.6,701.03 296.4,702.04 297.2,703.22 298,702 298.8,702.25 299.6,702.14 300.4,703.21 301.2,703.34 302,703.01 302.8,701.53 303.6,702.13 304.4,703.67 305.2,703.76 306,702.72 306.8,702.42 307.6,702.13 308.4,701.78 309.2,701.44 310,701.56 310.8,701.92 311.6,701.83 312.4,702.04 313.2,701.96 314,702.55 314.8,702.5 315.6,702.87 316.4,702.59 317.2,702.12 318,701.11 318.8,700.67 319.6,699.66 320.4,699.07 321.2,698.98 322,699.3 322.8,699.2 323.6,697.97 324.4,698.13 325.2,697.67 326,697.76 326.8,696.84 327.6,697.25 328.4,696.69 329.2,695.61 330,693.68 330.8,693.29 331.6,693.22 332.4,694.15 333.2,695.19 334,694.57 334.8,692.7 335.6,693.14 336.4,693.76 337.2,693.95 338,693.68 338.8,693.32 339.6,693.18 340.4,693.26 341.2,693.15 342,692.5 342.8,691.73 343.6,691.51 344.4,691.46 345.2,691.25 346,690.95 346.8,690.78 347.6,690.8 348.4,690.76 349.2,690.43 350,689.93 350.8,689.89 351.6,690.47 352.4,690.68 353.2,690.72 354,690.33 354.8,689.63 355.6,689.09 356.4,688.87 357.2,688.84 358,688.4 358.8,688.88 359.6,688.95 360.4,688.84" fill="none" stroke="#2678bd" stroke-width="1.25" stroke-linejoin="round"/>
<polyline points="365.8,683.6 366.6,683.83 367.4,683.58 368.2,683.19 369,683.05 369.8,683.28 370.6,683.44 371.4,683.47 372.2,683.35 373,683.48 373.8,683.34 374.6,683.11 375.4,683.01 376.2,683.15 377,682.98 377.8,682.68 378.6,682.88 379.4,682.95 380.2,683.27 381,683.5 381.8,683.62 382.6,683.34 383.4,683.16 384.2,683.19 385,683.02 385.8,683.08 386.6,683.23 387.4,683.53 388.2,683.11 389,683.09 389.8,683.45 390.6,683.87 391.4,683.34 392.2,682.82 393,682.8 393.8,683.3 394.6,683.94 395.4,684.98 396.2,685.17 397,684.37 397.8,683.24 398.6,682.82 399.4,682.87 400.2,682.92 401,682.89 401.8,682.58 402.6,682.46 403.4,682.28 404.2,682.63 405,682.6 405.8,682.69 406.6,682.27 407.4,682.17 408.2,682.15 409,682.56 409.8,682.35 410.6,681.82 411.4,681.81 412.2,681.86 413,682.04 413.8,681.88 414.6,682.03 415.4,682.38 416.2,682.91 417,683.05 417.8,682.38 418.6,682.08 419.4,682.1 420.2,682.38 421,682.62 421.8,682.45 422.6,682.4 423.4,682.35 424.2,682.56 425,682.79 425.8,682.7 426.6,682.53 427.4,681.76 428.2,680.74 429,679.29 429.8,678.02 430.6,677.49 431.4,677.09 432.2,676.72 433,676.31 433.8,675.66 434.6,675.39 435.4,675.35 436.2,675.88 437,676.14 437.8,676.62 438.6,676.55 439.4,676.33 440.2,675.71 441,675.46 441.8,675.13 442.6,675.39 443.4,675.27 444.2,675.31 445,675.05 445.8,675.13 446.6,675.27 447.4,675.37 448.2,675.38" fill="none" stroke="#2678bd" stroke-width="1.25" stroke-linejoin="round"/>
<polyline points="254,712.71 254.8,713.33 255.6,713.34 256.4,714.11 257.2,714.87 258,714.15 258.8,712.28 259.6,711.33 260.4,713.51 261.2,714.11 262,714.21 262.8,713.4 263.6,713.85 264.4,713.3 265.2,713.92 266,712.43 266.8,711.45 267.6,712.29 268.4,714.81 269.2,715.16 270,715.29 270.8,716.46 271.6,717.49 272.4,716.19 273.2,715.81 274,715.8 274.8,715.24 275.6,714.6 276.4,713.21 277.2,716.07 278,717.6 278.8,717.54 279.6,716.3 280.4,715.43 281.2,715.83 282,717.2 282.8,717.08 283.6,717.29 284.4,718.06 285.2,718.92 286,719.05 286.8,718.38 287.6,716.8 288.4,717.2 289.2,718.25 290,719.09 290.8,718.76 291.6,718.37 292.4,718.4 293.2,717.62 294,718.13 294.8,718.52 295.6,721.13 296.4,722.34 297.2,722.68 298,721.83 298.8,722.23 299.6,722.18 300.4,721.81 301.2,721.42 302,723.3 302.8,724.1 303.6,722.87 304.4,721.67 305.2,723.66 306,724.63 306.8,725.53 307.6,724.94 308.4,725.42 309.2,723.4 310,723.01 310.8,721.78 311.6,721.22 312.4,720.04 313.2,720.93 314,721.23 314.8,721.91 315.6,721.44 316.4,721.4 317.2,720.73 318,720.34 318.8,720.12 319.6,719.73 320.4,719.58 321.2,718.94 322,717.62 322.8,716.69 323.6,717.02 324.4,718.3 325.2,719.43 326,719.16 326.8,718.32 327.6,717.31 328.4,717.23 329.2,716.61 330,716.25 330.8,715.21 331.6,714.73 332.4,715.36 333.2,714.95 334,714.13 334.8,712.71 335.6,713.43 336.4,713.69 337.2,713.57 338,712.36 338.8,711.69 339.6,711.9 340.4,711.9 341.2,711.32 342,711.05 342.8,710.7 343.6,710.52 344.4,710.63 345.2,710.96 346,710.36 346.8,709.81 347.6,709.45 348.4,709.6 349.2,709.44 350,709.61 350.8,709.59 351.6,709.08 352.4,708.78 353.2,708.85 354,708.94 354.8,708.41 355.6,707.88 356.4,707.77 357.2,707.24 358,707.11 358.8,707.36 359.6,708.24 360.4,708.35" fill="none" stroke="#1a6db6" stroke-width="1.25" stroke-linejoin="round"/>
<polyline points="365.8,702.96 366.6,703.08 367.4,703.23 368.2,703.38 369,703.32 369.8,703.13 370.6,703.12 371.4,702.7 372.2,702.98 373,702.74 373.8,702.81 374.6,702.46 375.4,702.87 376.2,703.2 377,703.37 377.8,703.3 378.6,703.24 379.4,703.14 380.2,702.63 381,701.99 381.8,701.53 382.6,701.87 383.4,702.38 384.2,702.77 385,702.81 385.8,702.82 386.6,702.62 387.4,702.24 388.2,701.88 389,702.26 389.8,702.89 390.6,702.96 391.4,702.52 392.2,702.48 393,703.1 393.8,703.32 394.6,703.83 395.4,704.81 396.2,704.93 397,703.73 397.8,702.57 398.6,702.32 399.4,702.67 400.2,702.97 401,703.03 401.8,702.38 402.6,702.28 403.4,702.44 404.2,702.48 405,702.13 405.8,701.71 406.6,701.69 407.4,701.99 408.2,702.48 409,702.57 409.8,702.5 410.6,702.18 411.4,701.85 412.2,701.89 413,702.14 413.8,701.98 414.6,701.72 415.4,701.82 416.2,702.07 417,701.94 417.8,701.59 418.6,701.43 419.4,701.73 420.2,701.86 421,701.49 421.8,701.09 422.6,700.8 423.4,700.76 424.2,700.61 425,700.86 425.8,700.76 426.6,700.7 427.4,700.47 428.2,699.74 429,698.35 429.8,697.04 430.6,696.27 431.4,695.67 432.2,694.96 433,694.8 433.8,694.8 434.6,694.42 435.4,694.09 436.2,694.21 437,694.83 437.8,694.78 438.6,694.43 439.4,694.38 440.2,694.46 441,694.5 441.8,694.39 442.6,694.65 443.4,694.63 444.2,694.28 445,694.25 445.8,694.29 446.6,694.3 447.4,694.48 448.2,694.71" fill="none" stroke="#1a6db6" stroke-width="1.25" stroke-linejoin="round"/>
<text x="40.5" y="525.8" font-size="10" text-anchor="start" fill="#231f20"><tspan font-weight="bold" fill="#444">NCS-low</tspan> <tspan fill="#555">(<tspan font-style="italic">E</tspan>=0.16V)</tspan></text>
<text x="88.5" y="544.3" font-size="8.6" text-anchor="middle" fill="#555">~3250</text>
<text x="170.5" y="525.8" font-size="8.6" text-anchor="middle" fill="#3a78c0">1470</text>
<text x="200" y="525.8" font-size="8.6" text-anchor="middle" fill="#3a78c0">1250</text>
<text x="163.8" y="544.3" font-size="8.6" text-anchor="middle" fill="#555">1640</text>
<text x="187" y="544.3" font-size="8.6" text-anchor="middle" fill="#3a78c0">1390</text>
<text x="134.9" y="543.5" font-size="10" text-anchor="middle" fill="#231f20">0 min</text>
<text x="139.2" y="727.3" font-size="10" text-anchor="middle" fill="#231f20">10 min</text>
<line x1="135.4" y1="554.6" x2="135.4" y2="713.5" stroke="#333" stroke-width="0.9"/>
<polygon points="133.2,713 137.6,713 135.4,719" fill="#222"/>
<text x="259.6" y="524.3" font-size="10" text-anchor="start" fill="#231f20"><tspan font-weight="bold" fill="#2a6db5">NCS-top</tspan> <tspan fill="#3d7cc0">(<tspan font-style="italic">E</tspan>=0.16V)</tspan></text>
<text x="310.9" y="543.4" font-size="8.6" text-anchor="middle" fill="#555">~3250</text>
<text x="401.2" y="524.6" font-size="8.6" text-anchor="middle" fill="#3a78c0">1470</text>
<text x="433.5" y="524.6" font-size="8.6" text-anchor="middle" fill="#3a78c0">1250</text>
<text x="393.5" y="543.6" font-size="8.6" text-anchor="middle" fill="#555">1640</text>
<text x="420.1" y="543.6" font-size="8.6" text-anchor="middle" fill="#3a78c0">1390</text>
<text x="362.6" y="542.5" font-size="10" text-anchor="middle" fill="#231f20">0 min</text>
<text x="365.7" y="726.4" font-size="10" text-anchor="middle" fill="#231f20">10 min</text>
<line x1="363.6" y1="549.9" x2="363.6" y2="708" stroke="#333" stroke-width="0.9"/>
<polygon points="361.4,707.5 365.8,707.5 363.6,713.5" fill="#222"/>
<rect x="132.8" y="502.1" width="4.4" height="4" fill="#fff" stroke="none" stroke-width="1"/>
<line x1="132.4" y1="506.7" x2="134.6" y2="501.5" stroke="#222" stroke-width="0.9"/>
<line x1="135.4" y1="506.7" x2="137.6" y2="501.5" stroke="#222" stroke-width="0.9"/>
<rect x="132.8" y="732.5" width="4.4" height="4" fill="#fff" stroke="none" stroke-width="1"/>
<line x1="132.4" y1="737.1" x2="134.6" y2="731.9" stroke="#222" stroke-width="0.9"/>
<line x1="135.4" y1="737.1" x2="137.6" y2="731.9" stroke="#222" stroke-width="0.9"/>
<rect x="361.3" y="501.3" width="4.4" height="4" fill="#fff" stroke="none" stroke-width="1"/>
<line x1="360.9" y1="505.9" x2="363.1" y2="500.7" stroke="#222" stroke-width="0.9"/>
<line x1="363.9" y1="505.9" x2="366.1" y2="500.7" stroke="#222" stroke-width="0.9"/>
<rect x="361.3" y="731.7" width="4.4" height="4" fill="#fff" stroke="none" stroke-width="1"/>
<line x1="360.9" y1="736.3" x2="363.1" y2="731.1" stroke="#222" stroke-width="0.9"/>
<line x1="363.9" y1="736.3" x2="366.1" y2="731.1" stroke="#222" stroke-width="0.9"/>
<path d="M48.5,6.5 C39,6.5 30,40 27,75 C25,100 33,114 48.5,114 C64,114 72,100 70,75 C67,40 58,6.5 48.5,6.5 Z" fill="url(#flo)" filter="url(#blur3)"/>
<path d="M48.5,13 C42,13 35,42 32.5,78 C30.5,100 37,111.5 48.5,111.5 C60,111.5 66.5,100 64.5,78 C62,42 55,13 48.5,13 Z" fill="#fad9a6" opacity="0.45" filter="url(#blur2)"/>
<path d="M48.5,21 C43.5,21 38.5,42 36.2,70 C34.5,96 38.5,108.5 48.5,108.5 C58.5,108.5 62.5,96 60.8,70 C58.5,42 53.5,21 48.5,21 Z" fill="url(#fli)" filter="url(#blur3)"/>
<ellipse cx="48.5" cy="50" rx="6.5" ry="20" fill="url(#flh)"/>
<circle cx="46.9" cy="28.4" r="2.3" fill="#e8e0d0" stroke="#333" stroke-width="1.3"/>
<circle cx="50.4" cy="30.8" r="2.3" fill="#e8e0d0" stroke="#333" stroke-width="1.3"/>
<circle cx="41.5" cy="39.6" r="1.0" fill="#c8c0b0" stroke="#444" stroke-width="0.6"/>
<circle cx="46.9" cy="39.6" r="1.0" fill="#c8c0b0" stroke="#444" stroke-width="0.6"/>
<circle cx="52.8" cy="39.6" r="1.0" fill="#c8c0b0" stroke="#444" stroke-width="0.6"/>
<polyline points="42.5,48.7 43.6,49.9 44.7,48.7 45.8,49.9 46.9,48.7 48,49.9 49.1,48.7 50.2,49.9 51.3,48.7 52.4,49.9 53.5,48.7" fill="none" stroke="#7a6440" stroke-width="0.45" stroke-linejoin="round"/>
<polyline points="41,53.3 42.1,54.5 43.2,53.3 44.3,54.5 45.4,53.3 46.5,54.5 47.6,53.3 48.7,54.5 49.8,53.3 50.9,54.5 52,53.3 53.1,54.5 54.2,53.3 55.3,54.5" fill="none" stroke="#7a6440" stroke-width="0.45" stroke-linejoin="round"/>
<polyline points="41,57.9 42.1,59.1 43.2,57.9 44.3,59.1 45.4,57.9 46.5,59.1 47.6,57.9 48.7,59.1 49.8,57.9 50.9,59.1 52,57.9 53.1,59.1 54.2,57.9 55.3,59.1" fill="none" stroke="#7a6440" stroke-width="0.45" stroke-linejoin="round"/>
<polyline points="49.6,71.7 45.79,69.5 45.79,65.1 49.6,62.9 53.41,65.1 53.41,69.5 49.6,71.7" fill="none" stroke="#6a5530" stroke-width="0.45" stroke-linejoin="round"/>
<polyline points="44.8,77.1 40.99,74.9 40.99,70.5 44.8,68.3 48.61,70.5 48.61,74.9 44.8,77.1" fill="none" stroke="#6a5530" stroke-width="0.45" stroke-linejoin="round"/>
<polyline points="52.7,78.8 48.89,76.6 48.89,72.2 52.7,70 56.51,72.2 56.51,76.6 52.7,78.8" fill="none" stroke="#6a5530" stroke-width="0.45" stroke-linejoin="round"/>
<polyline points="54.6,86.4 50.79,84.2 50.79,79.8 54.6,77.6 58.41,79.8 58.41,84.2 54.6,86.4" fill="none" stroke="#6a5530" stroke-width="0.45" stroke-linejoin="round"/>
<polyline points="46.9,101.3 41.1,97.95 41.1,91.25 46.9,87.9 52.7,91.25 52.7,97.95 46.9,101.3" fill="none" stroke="#4a3a20" stroke-width="0.6" stroke-linejoin="round"/>
<line x1="49.8" y1="90.3" x2="51.8" y2="91.5" stroke="#4a3a20" stroke-width="0.5"/>
<line x1="49.8" y1="98.9" x2="51.8" y2="97.7" stroke="#4a3a20" stroke-width="0.5"/>
<path d="M38,112.4 Q48.5,110.2 58.9,112.4 L65.6,132.6 Q49.4,135.4 33.1,132.6 Z" fill="url(#neck)" stroke="#959595" stroke-width="1.5" stroke-linejoin="round"/>
<path d="M33.1,133.4 L20.3,134.4 Q13.5,136 12.9,144.2 Q13,151 15.4,157.7 L21.5,173.7 Q22.5,178 26,178 L73.5,178 Q77.5,178 78.5,173.7 L85.3,157.7 Q87.6,151 86.5,144.2 Q85.8,136 76.7,134.4 L65.6,133.4 Q49.4,136 33.1,133.4 Z" fill="url(#bot)"/>
<path d="M33.1,133.4 L20.3,134.4 Q13.5,136 12.9,144.2 Q13,151 15.4,157.7 L21.5,173.7 Q22.5,178 26,178 L73.5,178 Q77.5,178 78.5,173.7 L85.3,157.7 Q87.6,151 86.5,144.2 Q85.8,136 76.7,134.4 L65.6,133.4 Q49.4,136 33.1,133.4 Z" fill="url(#botc)"/>
<path d="M30,136 Q24,150 32,176 L44,176 Q34,152 42,136 Z" fill="#f6f6f8" opacity="0.6"/>
<path d="M33.1,133.4 L20.3,134.4 Q13.5,136 12.9,144.2 Q13,151 15.4,157.7 L21.5,173.7 Q22.5,178 26,178 L73.5,178 Q77.5,178 78.5,173.7 L85.3,157.7 Q87.6,151 86.5,144.2 Q85.8,136 76.7,134.4 L65.6,133.4 Q49.4,136 33.1,133.4 Z" fill="none" stroke="#959595" stroke-width="1.5" stroke-linejoin="round"/>
<text x="50.3" y="155.5" font-size="10.4" text-anchor="middle" fill="#222">Nitrogen</text>
<text x="52.7" y="168.2" font-size="10.4" text-anchor="middle" fill="#222">precursor</text>
<text x="77.2" y="191.2" font-size="10.8" text-anchor="start" fill="#222">2.5 nm</text>
<rect x="81.9" y="193.4" width="11.2" height="1.9" fill="#111" stroke="none" stroke-width="1"/>
<path d="M71.7,44.2 Q93,30.5 117.2,19.6" fill="none" stroke="url(#ln1)" stroke-width="1.1"/>
<path d="M70,81.7 Q96,110 107.6,142.6" fill="none" stroke="url(#ln2)" stroke-width="0.9"/>
<rect x="105" y="8" width="82" height="82" filter="url(#tem1)" clip-path="url(#c1)"/>
<circle cx="145.1" cy="47.8" r="37.6" fill="url(#temring)"/>
<rect x="105" y="98" width="82" height="82" filter="url(#tem2)" clip-path="url(#c2)"/>
<text x="145.5" y="96.6" font-size="10.5" text-anchor="middle" fill="#1f63b3">NCS-top</text>
<text x="145.5" y="186.6" font-size="10.5" text-anchor="middle" fill="#333">NCS-low</text>
<g mask="url(#mA)"><ellipse cx="577.3" cy="580" rx="97" ry="76.5" fill="url(#dome1)"/><ellipse cx="577.3" cy="580" rx="97" ry="76.5" fill="url(#domeh)"/><ellipse cx="577.3" cy="580" rx="97" ry="76.5" fill="url(#domer)"/></g>
<g mask="url(#mB)"><ellipse cx="574.5" cy="700" rx="93.5" ry="59.5" fill="url(#dome2)"/><ellipse cx="574.5" cy="700" rx="93.5" ry="59.5" fill="url(#domeh)"/><ellipse cx="574.5" cy="700" rx="93.5" ry="59.5" fill="url(#domer)"/></g>
<line x1="507.84" y1="614.38" x2="525.52" y2="611.31" stroke="#a8a8a8" stroke-width="1.4"/>
<line x1="525.52" y1="611.31" x2="539.92" y2="614.38" stroke="#a8a8a8" stroke-width="1.35"/>
<line x1="525.52" y1="611.31" x2="528.48" y2="605.75" stroke="#a8a8a8" stroke-width="1.35"/>
<line x1="539.92" y1="614.38" x2="556.51" y2="611.31" stroke="#a8a8a8" stroke-width="1.4"/>
<line x1="556.51" y1="611.31" x2="572" y2="614.38" stroke="#a8a8a8" stroke-width="1.35"/>
<line x1="556.51" y1="611.31" x2="557.49" y2="605.75" stroke="#a8a8a8" stroke-width="1.35"/>
<line x1="572" y1="614.38" x2="587.49" y2="611.31" stroke="#a8a8a8" stroke-width="1.4"/>
<line x1="587.49" y1="611.31" x2="604.08" y2="614.38" stroke="#a8a8a8" stroke-width="1.35"/>
<line x1="587.49" y1="611.31" x2="586.51" y2="605.75" stroke="#a8a8a8" stroke-width="1.35"/>
<line x1="604.08" y1="614.38" x2="618.48" y2="611.31" stroke="#a8a8a8" stroke-width="1.4"/>
<line x1="618.48" y1="611.31" x2="636.16" y2="614.38" stroke="#a8a8a8" stroke-width="1.35"/>
<line x1="618.48" y1="611.31" x2="615.52" y2="605.75" stroke="#a8a8a8" stroke-width="1.35"/>
<line x1="499.46" y1="605.75" x2="515.76" y2="603.22" stroke="#a8a8a8" stroke-width="1.27"/>
<line x1="515.76" y1="603.22" x2="528.48" y2="605.75" stroke="#a8a8a8" stroke-width="1.23"/>
<line x1="515.76" y1="603.22" x2="519.03" y2="598.62" stroke="#a8a8a8" stroke-width="1.23"/>
<line x1="528.48" y1="605.75" x2="543.88" y2="603.22" stroke="#a8a8a8" stroke-width="1.27"/>
<line x1="543.88" y1="603.22" x2="557.49" y2="605.75" stroke="#a8a8a8" stroke-width="1.23"/>
<line x1="543.88" y1="603.22" x2="545.52" y2="598.62" stroke="#a8a8a8" stroke-width="1.23"/>
<line x1="557.49" y1="605.75" x2="572" y2="603.22" stroke="#a8a8a8" stroke-width="1.27"/>
<line x1="572" y1="603.22" x2="586.51" y2="605.75" stroke="#a8a8a8" stroke-width="1.23"/>
<line x1="572" y1="603.22" x2="572" y2="598.62" stroke="#a8a8a8" stroke-width="1.23"/>
<line x1="586.51" y1="605.75" x2="600.12" y2="603.22" stroke="#a8a8a8" stroke-width="1.27"/>
<line x1="600.12" y1="603.22" x2="615.52" y2="605.75" stroke="#a8a8a8" stroke-width="1.23"/>
<line x1="600.12" y1="603.22" x2="598.48" y2="598.62" stroke="#a8a8a8" stroke-width="1.23"/>
<line x1="615.52" y1="605.75" x2="628.24" y2="603.22" stroke="#a8a8a8" stroke-width="1.27"/>
<line x1="628.24" y1="603.22" x2="644.54" y2="605.75" stroke="#a8a8a8" stroke-width="1.23"/>
<line x1="628.24" y1="603.22" x2="624.97" y2="598.62" stroke="#a8a8a8" stroke-width="1.23"/>
<line x1="644.54" y1="605.75" x2="656.36" y2="603.22" stroke="#a8a8a8" stroke-width="1.27"/>
<line x1="656.36" y1="603.22" x2="651.45" y2="598.62" stroke="#a8a8a8" stroke-width="1.23"/>
<line x1="481.92" y1="596.51" x2="492.55" y2="598.62" stroke="#a8a8a8" stroke-width="1.12"/>
<line x1="492.55" y1="598.62" x2="507.66" y2="596.51" stroke="#a8a8a8" stroke-width="1.16"/>
<line x1="507.66" y1="596.51" x2="519.03" y2="598.62" stroke="#a8a8a8" stroke-width="1.12"/>
<line x1="507.66" y1="596.51" x2="511.1" y2="592.63" stroke="#a8a8a8" stroke-width="1.12"/>
<line x1="519.03" y1="598.62" x2="533.4" y2="596.51" stroke="#a8a8a8" stroke-width="1.16"/>
<line x1="533.4" y1="596.51" x2="545.52" y2="598.62" stroke="#a8a8a8" stroke-width="1.12"/>
<line x1="533.4" y1="596.51" x2="535.46" y2="592.63" stroke="#a8a8a8" stroke-width="1.12"/>
<line x1="545.52" y1="598.62" x2="559.13" y2="596.51" stroke="#a8a8a8" stroke-width="1.16"/>
<line x1="559.13" y1="596.51" x2="572" y2="598.62" stroke="#a8a8a8" stroke-width="1.12"/>
<line x1="559.13" y1="596.51" x2="559.82" y2="592.63" stroke="#a8a8a8" stroke-width="1.12"/>
<line x1="572" y1="598.62" x2="584.87" y2="596.51" stroke="#a8a8a8" stroke-width="1.16"/>
<line x1="584.87" y1="596.51" x2="598.48" y2="598.62" stroke="#a8a8a8" stroke-width="1.12"/>
<line x1="584.87" y1="596.51" x2="584.18" y2="592.63" stroke="#a8a8a8" stroke-width="1.12"/>
<line x1="598.48" y1="598.62" x2="610.6" y2="596.51" stroke="#a8a8a8" stroke-width="1.16"/>
<line x1="610.6" y1="596.51" x2="624.97" y2="598.62" stroke="#a8a8a8" stroke-width="1.12"/>
<line x1="610.6" y1="596.51" x2="608.54" y2="592.63" stroke="#a8a8a8" stroke-width="1.12"/>
<line x1="624.97" y1="598.62" x2="636.34" y2="596.51" stroke="#a8a8a8" stroke-width="1.16"/>
<line x1="636.34" y1="596.51" x2="651.45" y2="598.62" stroke="#a8a8a8" stroke-width="1.12"/>
<line x1="636.34" y1="596.51" x2="632.9" y2="592.63" stroke="#a8a8a8" stroke-width="1.12"/>
<line x1="511.1" y1="592.63" x2="524.55" y2="590.85" stroke="#a8a8a8" stroke-width="1.06"/>
<line x1="524.55" y1="590.85" x2="535.46" y2="592.63" stroke="#a8a8a8" stroke-width="1.04"/>
<line x1="524.55" y1="590.85" x2="526.9" y2="587.54" stroke="#a8a8a8" stroke-width="1.04"/>
<line x1="535.46" y1="592.63" x2="548.27" y2="590.85" stroke="#a8a8a8" stroke-width="1.06"/>
<line x1="548.27" y1="590.85" x2="559.82" y2="592.63" stroke="#a8a8a8" stroke-width="1.04"/>
<line x1="548.27" y1="590.85" x2="549.45" y2="587.54" stroke="#a8a8a8" stroke-width="1.04"/>
<line x1="559.82" y1="592.63" x2="572" y2="590.85" stroke="#a8a8a8" stroke-width="1.06"/>
<line x1="572" y1="590.85" x2="584.18" y2="592.63" stroke="#a8a8a8" stroke-width="1.04"/>
<line x1="572" y1="590.85" x2="572" y2="587.54" stroke="#a8a8a8" stroke-width="1.04"/>
<line x1="584.18" y1="592.63" x2="595.73" y2="590.85" stroke="#a8a8a8" stroke-width="1.06"/>
<line x1="595.73" y1="590.85" x2="608.54" y2="592.63" stroke="#a8a8a8" stroke-width="1.04"/>
<line x1="595.73" y1="590.85" x2="594.55" y2="587.54" stroke="#a8a8a8" stroke-width="1.04"/>
<line x1="608.54" y1="592.63" x2="619.45" y2="590.85" stroke="#a8a8a8" stroke-width="1.06"/>
<line x1="619.45" y1="590.85" x2="632.9" y2="592.63" stroke="#a8a8a8" stroke-width="1.04"/>
<line x1="619.45" y1="590.85" x2="617.1" y2="587.54" stroke="#a8a8a8" stroke-width="1.04"/>
<line x1="632.9" y1="592.63" x2="643.18" y2="590.85" stroke="#a8a8a8" stroke-width="1.06"/>
<line x1="643.18" y1="590.85" x2="639.65" y2="587.54" stroke="#a8a8a8" stroke-width="1.04"/>
<line x1="526.9" y1="587.54" x2="538.99" y2="586" stroke="#a8a8a8" stroke-width="0.98"/>
<line x1="538.99" y1="586" x2="549.45" y2="587.54" stroke="#a8a8a8" stroke-width="0.96"/>
<line x1="549.45" y1="587.54" x2="561" y2="586" stroke="#a8a8a8" stroke-width="0.98"/>
<line x1="561" y1="586" x2="572" y2="587.54" stroke="#a8a8a8" stroke-width="0.96"/>
<line x1="572" y1="587.54" x2="583" y2="586" stroke="#a8a8a8" stroke-width="0.98"/>
<line x1="583" y1="586" x2="594.55" y2="587.54" stroke="#a8a8a8" stroke-width="0.96"/>
<line x1="594.55" y1="587.54" x2="605.01" y2="586" stroke="#a8a8a8" stroke-width="0.98"/>
<line x1="605.01" y1="586" x2="617.1" y2="587.54" stroke="#a8a8a8" stroke-width="0.96"/>
<line x1="617.1" y1="587.54" x2="627.02" y2="586" stroke="#a8a8a8" stroke-width="0.98"/>
<line x1="627.02" y1="586" x2="639.65" y2="587.54" stroke="#a8a8a8" stroke-width="0.96"/>
<line x1="507.84" y1="614.38" x2="499.84" y2="616.58" stroke="#a0a0a0" stroke-width="0.9"/>
<ellipse cx="498.84" cy="616.78" rx="2" ry="1.4" fill="url(#hat)"/>
<line x1="636.16" y1="614.38" x2="644.16" y2="616.58" stroke="#a0a0a0" stroke-width="0.9"/>
<ellipse cx="645.16" cy="616.78" rx="2" ry="1.4" fill="url(#hat)"/>
<line x1="499.46" y1="605.75" x2="492.23" y2="607.74" stroke="#a0a0a0" stroke-width="0.9"/>
<ellipse cx="491.32" cy="607.92" rx="1.81" ry="1.27" fill="url(#hat)"/>
<line x1="656.36" y1="603.22" x2="663.37" y2="605.15" stroke="#a0a0a0" stroke-width="0.9"/>
<ellipse cx="664.25" cy="605.33" rx="1.75" ry="1.23" fill="url(#hat)"/>
<line x1="481.92" y1="596.51" x2="475.51" y2="598.28" stroke="#a0a0a0" stroke-width="0.9"/>
<ellipse cx="474.7" cy="598.44" rx="1.6" ry="1.12" fill="url(#hat)"/>
<line x1="539.92" y1="614.38" x2="539.92" y2="619.38" stroke="#a0a0a0" stroke-width="0.9"/>
<ellipse cx="539.92" cy="619.98" rx="2.1" ry="1.4" fill="url(#hat)"/>
<line x1="572" y1="614.38" x2="572" y2="619.38" stroke="#a0a0a0" stroke-width="0.9"/>
<ellipse cx="572" cy="619.98" rx="2.1" ry="1.4" fill="url(#hat)"/>
<line x1="604.08" y1="614.38" x2="604.08" y2="619.38" stroke="#a0a0a0" stroke-width="0.9"/>
<ellipse cx="604.08" cy="619.98" rx="2.1" ry="1.4" fill="url(#hat)"/>
<ellipse cx="538.99" cy="586" rx="3.84" ry="2.54" fill="url(#cat)"/>
<ellipse cx="561" cy="586" rx="3.84" ry="2.54" fill="url(#cat)"/>
<ellipse cx="583" cy="586" rx="3.84" ry="2.54" fill="url(#cat)"/>
<ellipse cx="605.01" cy="586" rx="3.84" ry="2.54" fill="url(#cat)"/>
<ellipse cx="627.02" cy="586" rx="3.84" ry="2.54" fill="url(#cat)"/>
<ellipse cx="526.9" cy="587.54" rx="3.94" ry="2.6" fill="url(#cat)"/>
<ellipse cx="549.45" cy="587.54" rx="3.94" ry="2.6" fill="url(#cat)"/>
<ellipse cx="572" cy="587.54" rx="3.94" ry="2.6" fill="url(#cat)"/>
<ellipse cx="594.55" cy="587.54" rx="3.94" ry="2.6" fill="url(#cat)"/>
<ellipse cx="617.1" cy="587.54" rx="3.94" ry="2.6" fill="url(#cat)"/>
<ellipse cx="639.65" cy="587.54" rx="3.94" ry="2.6" fill="url(#cat)"/>
<ellipse cx="524.55" cy="590.85" rx="4.14" ry="2.74" fill="url(#cat)"/>
<ellipse cx="548.27" cy="590.85" rx="4.14" ry="2.74" fill="url(#cat)"/>
<ellipse cx="572" cy="590.85" rx="4.14" ry="2.74" fill="url(#cat)"/>
<ellipse cx="595.73" cy="590.85" rx="4.14" ry="2.74" fill="url(#cat)"/>
<ellipse cx="619.45" cy="590.85" rx="4.14" ry="2.74" fill="url(#cat)"/>
<ellipse cx="643.18" cy="590.85" rx="4.14" ry="2.74" fill="url(#nat)"/>
<ellipse cx="511.1" cy="592.63" rx="4.25" ry="2.81" fill="url(#cat)"/>
<ellipse cx="535.46" cy="592.63" rx="4.25" ry="2.81" fill="url(#cat)"/>
<ellipse cx="559.82" cy="592.63" rx="4.25" ry="2.81" fill="url(#cat)"/>
<ellipse cx="584.18" cy="592.63" rx="4.25" ry="2.81" fill="url(#cat)"/>
<ellipse cx="608.54" cy="592.63" rx="4.25" ry="2.81" fill="url(#cat)"/>
<ellipse cx="632.9" cy="592.63" rx="4.25" ry="2.81" fill="url(#cat)"/>
<ellipse cx="481.92" cy="596.51" rx="4.49" ry="2.97" fill="url(#cat)"/>
<ellipse cx="507.66" cy="596.51" rx="4.49" ry="2.97" fill="url(#cat)"/>
<ellipse cx="533.4" cy="596.51" rx="4.49" ry="2.97" fill="url(#cat)"/>
<ellipse cx="559.13" cy="596.51" rx="4.49" ry="2.97" fill="url(#cat)"/>
<ellipse cx="584.87" cy="596.51" rx="4.49" ry="2.97" fill="url(#cat)"/>
<ellipse cx="610.6" cy="596.51" rx="4.49" ry="2.97" fill="url(#cat)"/>
<ellipse cx="636.34" cy="596.51" rx="4.49" ry="2.97" fill="url(#cat)"/>
<ellipse cx="492.55" cy="598.62" rx="4.62" ry="3.05" fill="url(#cat)"/>
<ellipse cx="519.03" cy="598.62" rx="4.62" ry="3.05" fill="url(#cat)"/>
<ellipse cx="545.52" cy="598.62" rx="4.62" ry="3.05" fill="url(#cat)"/>
<ellipse cx="572" cy="598.62" rx="4.62" ry="3.05" fill="url(#cat)"/>
<ellipse cx="598.48" cy="598.62" rx="4.62" ry="3.05" fill="url(#cat)"/>
<ellipse cx="624.97" cy="598.62" rx="4.62" ry="3.05" fill="url(#cat)"/>
<ellipse cx="651.45" cy="598.62" rx="4.62" ry="3.05" fill="url(#cat)"/>
<ellipse cx="515.76" cy="603.22" rx="4.91" ry="3.24" fill="url(#cat)"/>
<ellipse cx="543.88" cy="603.22" rx="4.91" ry="3.24" fill="url(#cat)"/>
<ellipse cx="572" cy="603.22" rx="4.91" ry="3.24" fill="url(#cat)"/>
<ellipse cx="600.12" cy="603.22" rx="4.91" ry="3.24" fill="url(#cat)"/>
<ellipse cx="628.24" cy="603.22" rx="4.91" ry="3.24" fill="url(#cat)"/>
<ellipse cx="656.36" cy="603.22" rx="4.91" ry="3.24" fill="url(#cat)"/>
<ellipse cx="499.46" cy="605.75" rx="5.06" ry="3.35" fill="url(#cat)"/>
<ellipse cx="528.48" cy="605.75" rx="5.06" ry="3.35" fill="url(#cat)"/>
<ellipse cx="557.49" cy="605.75" rx="5.06" ry="3.35" fill="url(#cat)"/>
<ellipse cx="586.51" cy="605.75" rx="5.06" ry="3.35" fill="url(#cat)"/>
<ellipse cx="615.52" cy="605.75" rx="5.06" ry="3.35" fill="url(#cat)"/>
<ellipse cx="644.54" cy="605.75" rx="5.06" ry="3.35" fill="url(#nat)"/>
<ellipse cx="525.52" cy="611.31" rx="5.41" ry="3.57" fill="url(#cat)"/>
<ellipse cx="556.51" cy="611.31" rx="5.41" ry="3.57" fill="url(#cat)"/>
<ellipse cx="587.49" cy="611.31" rx="5.41" ry="3.57" fill="url(#cat)"/>
<ellipse cx="618.48" cy="611.31" rx="5.41" ry="3.57" fill="url(#cat)"/>
<ellipse cx="507.84" cy="614.38" rx="5.6" ry="3.7" fill="url(#cat)"/>
<ellipse cx="539.92" cy="614.38" rx="5.6" ry="3.7" fill="url(#cat)"/>
<ellipse cx="572" cy="614.38" rx="5.6" ry="3.7" fill="url(#cat)"/>
<ellipse cx="604.08" cy="614.38" rx="5.6" ry="3.7" fill="url(#cat)"/>
<ellipse cx="636.16" cy="614.38" rx="5.6" ry="3.7" fill="url(#cat)"/>
<line x1="524.52" y1="744.31" x2="538.92" y2="747.38" stroke="#a8a8a8" stroke-width="1.35"/>
<line x1="524.52" y1="744.31" x2="527.48" y2="738.75" stroke="#a8a8a8" stroke-width="1.35"/>
<line x1="538.92" y1="747.38" x2="555.51" y2="744.31" stroke="#a8a8a8" stroke-width="1.4"/>
<line x1="555.51" y1="744.31" x2="571" y2="747.38" stroke="#a8a8a8" stroke-width="1.35"/>
<line x1="555.51" y1="744.31" x2="556.49" y2="738.75" stroke="#a8a8a8" stroke-width="1.35"/>
<line x1="571" y1="747.38" x2="586.49" y2="744.31" stroke="#a8a8a8" stroke-width="1.4"/>
<line x1="586.49" y1="744.31" x2="603.08" y2="747.38" stroke="#a8a8a8" stroke-width="1.35"/>
<line x1="586.49" y1="744.31" x2="585.51" y2="738.75" stroke="#a8a8a8" stroke-width="1.35"/>
<line x1="603.08" y1="747.38" x2="617.48" y2="744.31" stroke="#a8a8a8" stroke-width="1.4"/>
<line x1="617.48" y1="744.31" x2="635.16" y2="747.38" stroke="#a8a8a8" stroke-width="1.35"/>
<line x1="617.48" y1="744.31" x2="614.52" y2="738.75" stroke="#a8a8a8" stroke-width="1.35"/>
<line x1="498.46" y1="738.75" x2="514.76" y2="736.22" stroke="#a8a8a8" stroke-width="1.27"/>
<line x1="514.76" y1="736.22" x2="527.48" y2="738.75" stroke="#a8a8a8" stroke-width="1.23"/>
<line x1="514.76" y1="736.22" x2="518.03" y2="731.62" stroke="#a8a8a8" stroke-width="1.23"/>
<line x1="527.48" y1="738.75" x2="542.88" y2="736.22" stroke="#a8a8a8" stroke-width="1.27"/>
<line x1="542.88" y1="736.22" x2="556.49" y2="738.75" stroke="#a8a8a8" stroke-width="1.23"/>
<line x1="542.88" y1="736.22" x2="544.52" y2="731.62" stroke="#a8a8a8" stroke-width="1.23"/>
<line x1="556.49" y1="738.75" x2="571" y2="736.22" stroke="#a8a8a8" stroke-width="1.27"/>
<line x1="571" y1="736.22" x2="585.51" y2="738.75" stroke="#a8a8a8" stroke-width="1.23"/>
<line x1="571" y1="736.22" x2="571" y2="731.62" stroke="#a8a8a8" stroke-width="1.23"/>
<line x1="585.51" y1="738.75" x2="599.12" y2="736.22" stroke="#a8a8a8" stroke-width="1.27"/>
<line x1="599.12" y1="736.22" x2="614.52" y2="738.75" stroke="#a8a8a8" stroke-width="1.23"/>
<line x1="599.12" y1="736.22" x2="597.48" y2="731.62" stroke="#a8a8a8" stroke-width="1.23"/>
<line x1="614.52" y1="738.75" x2="627.24" y2="736.22" stroke="#a8a8a8" stroke-width="1.27"/>
<line x1="627.24" y1="736.22" x2="643.54" y2="738.75" stroke="#a8a8a8" stroke-width="1.23"/>
<line x1="627.24" y1="736.22" x2="623.97" y2="731.62" stroke="#a8a8a8" stroke-width="1.23"/>
<line x1="480.92" y1="729.51" x2="491.55" y2="731.62" stroke="#a8a8a8" stroke-width="1.12"/>
<line x1="491.55" y1="731.62" x2="506.66" y2="729.51" stroke="#a8a8a8" stroke-width="1.16"/>
<line x1="506.66" y1="729.51" x2="518.03" y2="731.62" stroke="#a8a8a8" stroke-width="1.12"/>
<line x1="506.66" y1="729.51" x2="510.1" y2="725.63" stroke="#a8a8a8" stroke-width="1.12"/>
<line x1="518.03" y1="731.62" x2="532.4" y2="729.51" stroke="#a8a8a8" stroke-width="1.16"/>
<line x1="532.4" y1="729.51" x2="544.52" y2="731.62" stroke="#a8a8a8" stroke-width="1.12"/>
<line x1="532.4" y1="729.51" x2="534.46" y2="725.63" stroke="#a8a8a8" stroke-width="1.12"/>
<line x1="544.52" y1="731.62" x2="558.13" y2="729.51" stroke="#a8a8a8" stroke-width="1.16"/>
<line x1="558.13" y1="729.51" x2="571" y2="731.62" stroke="#a8a8a8" stroke-width="1.12"/>
<line x1="558.13" y1="729.51" x2="558.82" y2="725.63" stroke="#a8a8a8" stroke-width="1.12"/>
<line x1="571" y1="731.62" x2="583.87" y2="729.51" stroke="#a8a8a8" stroke-width="1.16"/>
<line x1="583.87" y1="729.51" x2="597.48" y2="731.62" stroke="#a8a8a8" stroke-width="1.12"/>
<line x1="583.87" y1="729.51" x2="583.18" y2="725.63" stroke="#a8a8a8" stroke-width="1.12"/>
<line x1="597.48" y1="731.62" x2="609.6" y2="729.51" stroke="#a8a8a8" stroke-width="1.16"/>
<line x1="609.6" y1="729.51" x2="623.97" y2="731.62" stroke="#a8a8a8" stroke-width="1.12"/>
<line x1="609.6" y1="729.51" x2="607.54" y2="725.63" stroke="#a8a8a8" stroke-width="1.12"/>
<line x1="623.97" y1="731.62" x2="635.34" y2="729.51" stroke="#a8a8a8" stroke-width="1.16"/>
<line x1="635.34" y1="729.51" x2="650.45" y2="731.62" stroke="#a8a8a8" stroke-width="1.12"/>
<line x1="635.34" y1="729.51" x2="631.9" y2="725.63" stroke="#a8a8a8" stroke-width="1.12"/>
<line x1="650.45" y1="731.62" x2="661.08" y2="729.51" stroke="#a8a8a8" stroke-width="1.16"/>
<line x1="499.82" y1="723.85" x2="510.1" y2="725.63" stroke="#a8a8a8" stroke-width="1.04"/>
<line x1="510.1" y1="725.63" x2="523.55" y2="723.85" stroke="#a8a8a8" stroke-width="1.06"/>
<line x1="523.55" y1="723.85" x2="534.46" y2="725.63" stroke="#a8a8a8" stroke-width="1.04"/>
<line x1="523.55" y1="723.85" x2="525.9" y2="720.54" stroke="#a8a8a8" stroke-width="1.04"/>
<line x1="534.46" y1="725.63" x2="547.27" y2="723.85" stroke="#a8a8a8" stroke-width="1.06"/>
<line x1="547.27" y1="723.85" x2="558.82" y2="725.63" stroke="#a8a8a8" stroke-width="1.04"/>
<line x1="547.27" y1="723.85" x2="548.45" y2="720.54" stroke="#a8a8a8" stroke-width="1.04"/>
<line x1="558.82" y1="725.63" x2="571" y2="723.85" stroke="#a8a8a8" stroke-width="1.06"/>
<line x1="571" y1="723.85" x2="583.18" y2="725.63" stroke="#a8a8a8" stroke-width="1.04"/>
<line x1="571" y1="723.85" x2="571" y2="720.54" stroke="#a8a8a8" stroke-width="1.04"/>
<line x1="583.18" y1="725.63" x2="594.73" y2="723.85" stroke="#a8a8a8" stroke-width="1.06"/>
<line x1="594.73" y1="723.85" x2="607.54" y2="725.63" stroke="#a8a8a8" stroke-width="1.04"/>
<line x1="594.73" y1="723.85" x2="593.55" y2="720.54" stroke="#a8a8a8" stroke-width="1.04"/>
<line x1="607.54" y1="725.63" x2="618.45" y2="723.85" stroke="#a8a8a8" stroke-width="1.06"/>
<line x1="618.45" y1="723.85" x2="631.9" y2="725.63" stroke="#a8a8a8" stroke-width="1.04"/>
<line x1="618.45" y1="723.85" x2="616.1" y2="720.54" stroke="#a8a8a8" stroke-width="1.04"/>
<line x1="631.9" y1="725.63" x2="642.18" y2="723.85" stroke="#a8a8a8" stroke-width="1.06"/>
<line x1="525.9" y1="720.54" x2="537.99" y2="719" stroke="#a8a8a8" stroke-width="0.98"/>
<line x1="537.99" y1="719" x2="548.45" y2="720.54" stroke="#a8a8a8" stroke-width="0.96"/>
<line x1="548.45" y1="720.54" x2="560" y2="719" stroke="#a8a8a8" stroke-width="0.98"/>
<line x1="560" y1="719" x2="571" y2="720.54" stroke="#a8a8a8" stroke-width="0.96"/>
<line x1="571" y1="720.54" x2="582" y2="719" stroke="#a8a8a8" stroke-width="0.98"/>
<line x1="582" y1="719" x2="593.55" y2="720.54" stroke="#a8a8a8" stroke-width="0.96"/>
<line x1="593.55" y1="720.54" x2="604.01" y2="719" stroke="#a8a8a8" stroke-width="0.98"/>
<line x1="604.01" y1="719" x2="616.1" y2="720.54" stroke="#a8a8a8" stroke-width="0.96"/>
<line x1="524.52" y1="744.31" x2="516.79" y2="746.43" stroke="#a0a0a0" stroke-width="0.9"/>
<ellipse cx="515.82" cy="746.63" rx="1.93" ry="1.35" fill="url(#hat)"/>
<line x1="635.16" y1="747.38" x2="643.16" y2="749.58" stroke="#a0a0a0" stroke-width="0.9"/>
<ellipse cx="644.16" cy="749.78" rx="2" ry="1.4" fill="url(#hat)"/>
<line x1="498.46" y1="738.75" x2="491.23" y2="740.74" stroke="#a0a0a0" stroke-width="0.9"/>
<ellipse cx="490.32" cy="740.92" rx="1.81" ry="1.27" fill="url(#hat)"/>
<line x1="643.54" y1="738.75" x2="650.77" y2="740.74" stroke="#a0a0a0" stroke-width="0.9"/>
<ellipse cx="651.68" cy="740.92" rx="1.81" ry="1.27" fill="url(#hat)"/>
<line x1="480.92" y1="729.51" x2="474.51" y2="731.28" stroke="#a0a0a0" stroke-width="0.9"/>
<ellipse cx="473.7" cy="731.44" rx="1.6" ry="1.12" fill="url(#hat)"/>
<line x1="538.92" y1="747.38" x2="538.92" y2="752.38" stroke="#a0a0a0" stroke-width="0.9"/>
<ellipse cx="538.92" cy="752.98" rx="2.1" ry="1.4" fill="url(#hat)"/>
<line x1="571" y1="747.38" x2="571" y2="752.38" stroke="#a0a0a0" stroke-width="0.9"/>
<ellipse cx="571" cy="752.98" rx="2.1" ry="1.4" fill="url(#hat)"/>
<line x1="603.08" y1="747.38" x2="603.08" y2="752.38" stroke="#a0a0a0" stroke-width="0.9"/>
<ellipse cx="603.08" cy="752.98" rx="2.1" ry="1.4" fill="url(#hat)"/>
<ellipse cx="537.99" cy="719" rx="3.84" ry="2.54" fill="url(#cat)"/>
<ellipse cx="560" cy="719" rx="3.84" ry="2.54" fill="url(#cat)"/>
<ellipse cx="582" cy="719" rx="3.84" ry="2.54" fill="url(#cat)"/>
<ellipse cx="604.01" cy="719" rx="3.84" ry="2.54" fill="url(#cat)"/>
<ellipse cx="525.9" cy="720.54" rx="3.94" ry="2.6" fill="url(#cat)"/>
<ellipse cx="548.45" cy="720.54" rx="3.94" ry="2.6" fill="url(#cat)"/>
<ellipse cx="571" cy="720.54" rx="3.94" ry="2.6" fill="url(#cat)"/>
<ellipse cx="593.55" cy="720.54" rx="3.94" ry="2.6" fill="url(#cat)"/>
<ellipse cx="616.1" cy="720.54" rx="3.94" ry="2.6" fill="url(#cat)"/>
<ellipse cx="499.82" cy="723.85" rx="4.14" ry="2.74" fill="url(#cat)"/>
<ellipse cx="523.55" cy="723.85" rx="4.14" ry="2.74" fill="url(#cat)"/>
<ellipse cx="547.27" cy="723.85" rx="4.14" ry="2.74" fill="url(#cat)"/>
<ellipse cx="571" cy="723.85" rx="4.14" ry="2.74" fill="url(#cat)"/>
<ellipse cx="594.73" cy="723.85" rx="4.14" ry="2.74" fill="url(#cat)"/>
<ellipse cx="618.45" cy="723.85" rx="4.14" ry="2.74" fill="url(#cat)"/>
<ellipse cx="642.18" cy="723.85" rx="4.14" ry="2.74" fill="url(#cat)"/>
<ellipse cx="510.1" cy="725.63" rx="4.25" ry="2.81" fill="url(#cat)"/>
<ellipse cx="534.46" cy="725.63" rx="4.25" ry="2.81" fill="url(#cat)"/>
<ellipse cx="558.82" cy="725.63" rx="4.25" ry="2.81" fill="url(#cat)"/>
<ellipse cx="583.18" cy="725.63" rx="4.25" ry="2.81" fill="url(#cat)"/>
<ellipse cx="607.54" cy="725.63" rx="4.25" ry="2.81" fill="url(#cat)"/>
<ellipse cx="631.9" cy="725.63" rx="4.25" ry="2.81" fill="url(#cat)"/>
<ellipse cx="480.92" cy="729.51" rx="4.49" ry="2.97" fill="url(#cat)"/>
<ellipse cx="506.66" cy="729.51" rx="4.49" ry="2.97" fill="url(#cat)"/>
<ellipse cx="532.4" cy="729.51" rx="4.49" ry="2.97" fill="url(#cat)"/>
<ellipse cx="558.13" cy="729.51" rx="4.49" ry="2.97" fill="url(#nat)"/>
<ellipse cx="583.87" cy="729.51" rx="4.49" ry="2.97" fill="url(#cat)"/>
<ellipse cx="609.6" cy="729.51" rx="4.49" ry="2.97" fill="url(#cat)"/>
<ellipse cx="635.34" cy="729.51" rx="4.49" ry="2.97" fill="url(#cat)"/>
<ellipse cx="661.08" cy="729.51" rx="4.49" ry="2.97" fill="url(#cat)"/>
<ellipse cx="491.55" cy="731.62" rx="4.62" ry="3.05" fill="url(#cat)"/>
<ellipse cx="518.03" cy="731.62" rx="4.62" ry="3.05" fill="url(#cat)"/>
<ellipse cx="544.52" cy="731.62" rx="4.62" ry="3.05" fill="url(#cat)"/>
<ellipse cx="571" cy="731.62" rx="4.62" ry="3.05" fill="url(#cat)"/>
<ellipse cx="597.48" cy="731.62" rx="4.62" ry="3.05" fill="url(#cat)"/>
<ellipse cx="623.97" cy="731.62" rx="4.62" ry="3.05" fill="url(#cat)"/>
<ellipse cx="650.45" cy="731.62" rx="4.62" ry="3.05" fill="url(#cat)"/>
<ellipse cx="514.76" cy="736.22" rx="4.91" ry="3.24" fill="url(#cat)"/>
<ellipse cx="542.88" cy="736.22" rx="4.91" ry="3.24" fill="url(#cat)"/>
<ellipse cx="571" cy="736.22" rx="4.91" ry="3.24" fill="url(#cat)"/>
<ellipse cx="599.12" cy="736.22" rx="4.91" ry="3.24" fill="url(#cat)"/>
<ellipse cx="627.24" cy="736.22" rx="4.91" ry="3.24" fill="url(#cat)"/>
<ellipse cx="498.46" cy="738.75" rx="5.06" ry="3.35" fill="url(#cat)"/>
<ellipse cx="527.48" cy="738.75" rx="5.06" ry="3.35" fill="url(#cat)"/>
<ellipse cx="556.49" cy="738.75" rx="5.06" ry="3.35" fill="url(#cat)"/>
<ellipse cx="585.51" cy="738.75" rx="5.06" ry="3.35" fill="url(#cat)"/>
<ellipse cx="614.52" cy="738.75" rx="5.06" ry="3.35" fill="url(#cat)"/>
<ellipse cx="643.54" cy="738.75" rx="5.06" ry="3.35" fill="url(#cat)"/>
<ellipse cx="524.52" cy="744.31" rx="5.41" ry="3.57" fill="url(#cat)"/>
<ellipse cx="555.51" cy="744.31" rx="5.41" ry="3.57" fill="url(#cat)"/>
<ellipse cx="586.49" cy="744.31" rx="5.41" ry="3.57" fill="url(#cat)"/>
<ellipse cx="617.48" cy="744.31" rx="5.41" ry="3.57" fill="url(#cat)"/>
<ellipse cx="538.92" cy="747.38" rx="5.6" ry="3.7" fill="url(#cat)"/>
<ellipse cx="571" cy="747.38" rx="5.6" ry="3.7" fill="url(#cat)"/>
<ellipse cx="603.08" cy="747.38" rx="5.6" ry="3.7" fill="url(#cat)"/>
<ellipse cx="635.16" cy="747.38" rx="5.6" ry="3.7" fill="url(#cat)"/>
<ellipse cx="522.3" cy="588" rx="8" ry="14" fill="url(#coneglowr)"/>
<path d="M521.1,574 L527.8,598 Q522.3,600 516.8,598 Z" fill="url(#conered)"/>
<line x1="520.61" y1="577.69" x2="523.99" y2="577.69" stroke="#ffffff" stroke-width="0.7" opacity="0.85"/>
<line x1="519.92" y1="581.38" x2="524.68" y2="581.38" stroke="#ffffff" stroke-width="0.7" opacity="0.85"/>
<line x1="519.22" y1="585.08" x2="525.38" y2="585.08" stroke="#ffffff" stroke-width="0.7" opacity="0.85"/>
<line x1="518.53" y1="588.77" x2="526.07" y2="588.77" stroke="#ffffff" stroke-width="0.7" opacity="0.85"/>
<line x1="517.84" y1="592.46" x2="526.76" y2="592.46" stroke="#ffffff" stroke-width="0.7" opacity="0.85"/>
<line x1="517.15" y1="596.15" x2="527.45" y2="596.15" stroke="#ffffff" stroke-width="0.7" opacity="0.85"/>
<ellipse cx="556.3" cy="589" rx="8" ry="14" fill="url(#coneglowb)"/>
<path d="M555.1,574 L561.8,600 Q556.3,602 550.8,600 Z" fill="url(#coneblue)"/>
<line x1="554.61" y1="578" x2="557.99" y2="578" stroke="#ffffff" stroke-width="0.7" opacity="0.85"/>
<line x1="553.92" y1="582" x2="558.68" y2="582" stroke="#ffffff" stroke-width="0.7" opacity="0.85"/>
<line x1="553.22" y1="586" x2="559.38" y2="586" stroke="#ffffff" stroke-width="0.7" opacity="0.85"/>
<line x1="552.53" y1="590" x2="560.07" y2="590" stroke="#ffffff" stroke-width="0.7" opacity="0.85"/>
<line x1="551.84" y1="594" x2="560.76" y2="594" stroke="#ffffff" stroke-width="0.7" opacity="0.85"/>
<line x1="551.15" y1="598" x2="561.45" y2="598" stroke="#ffffff" stroke-width="0.7" opacity="0.85"/>
<ellipse cx="593.4" cy="589.5" rx="8" ry="14" fill="url(#coneglowb)"/>
<path d="M592.2,575 L598.9,600 Q593.4,602 587.9,600 Z" fill="url(#coneblue)"/>
<line x1="591.71" y1="578.85" x2="595.09" y2="578.85" stroke="#ffffff" stroke-width="0.7" opacity="0.85"/>
<line x1="591.02" y1="582.69" x2="595.78" y2="582.69" stroke="#ffffff" stroke-width="0.7" opacity="0.85"/>
<line x1="590.32" y1="586.54" x2="596.48" y2="586.54" stroke="#ffffff" stroke-width="0.7" opacity="0.85"/>
<line x1="589.63" y1="590.38" x2="597.17" y2="590.38" stroke="#ffffff" stroke-width="0.7" opacity="0.85"/>
<line x1="588.94" y1="594.23" x2="597.86" y2="594.23" stroke="#ffffff" stroke-width="0.7" opacity="0.85"/>
<line x1="588.25" y1="598.08" x2="598.55" y2="598.08" stroke="#ffffff" stroke-width="0.7" opacity="0.85"/>
<ellipse cx="626.3" cy="591.5" rx="8" ry="14" fill="url(#coneglowb)"/>
<path d="M625.1,578 L631.8,601 Q626.3,603 620.8,601 Z" fill="url(#coneblue)"/>
<line x1="624.61" y1="581.54" x2="627.99" y2="581.54" stroke="#ffffff" stroke-width="0.7" opacity="0.85"/>
<line x1="623.92" y1="585.08" x2="628.68" y2="585.08" stroke="#ffffff" stroke-width="0.7" opacity="0.85"/>
<line x1="623.22" y1="588.62" x2="629.38" y2="588.62" stroke="#ffffff" stroke-width="0.7" opacity="0.85"/>
<line x1="622.53" y1="592.15" x2="630.07" y2="592.15" stroke="#ffffff" stroke-width="0.7" opacity="0.85"/>
<line x1="621.84" y1="595.69" x2="630.76" y2="595.69" stroke="#ffffff" stroke-width="0.7" opacity="0.85"/>
<line x1="621.15" y1="599.23" x2="631.45" y2="599.23" stroke="#ffffff" stroke-width="0.7" opacity="0.85"/>
<path d="M503,561 508,566 513,569 519,571" fill="none" stroke="#333" stroke-width="0.9" stroke-dasharray="3,2.2"/>
<path d="M523,556 527,547 533,534" fill="none" stroke="#f08080" stroke-width="1.0" stroke-dasharray="2.5,2"/>
<circle cx="506.1" cy="545.8" r="3.6" fill="url(#oat)"/>
<circle cx="506.7" cy="553.5" r="3.6" fill="url(#oat)"/>
<circle cx="523.4" cy="560.9" r="3.6" fill="url(#oat)"/>
<circle cx="521.8" cy="569.7" r="3.6" fill="url(#oat)"/>
<line x1="535" y1="575.5" x2="549" y2="577.5" stroke="#e02020" stroke-width="1.3"/>
<polygon points="551,577.5 547,575.7 547,579.3" fill="#e02020"/>
<circle cx="556.3" cy="570.3" r="3.6" fill="url(#oat)"/>
<circle cx="563.2" cy="564" r="3.6" fill="url(#oat)"/>
<circle cx="571.1" cy="565.6" r="2.5" fill="url(#hat)"/>
<path d="M568,576 576,577.5 586,577.5" fill="none" stroke="#333" stroke-width="0.9" stroke-dasharray="3,2.2"/>
<circle cx="593.4" cy="571" r="3.6" fill="url(#oat)"/>
<path d="M603,577 612,578 620,577.5" fill="none" stroke="#333" stroke-width="0.9" stroke-dasharray="3,2.2"/>
<circle cx="626.3" cy="574.1" r="3.6" fill="url(#oat)"/>
<circle cx="634.8" cy="571.9" r="2.5" fill="url(#hat)"/>
<path d="M630,570 636,563 641,557" fill="none" stroke="#333" stroke-width="0.9" stroke-dasharray="3,2.2"/>
<circle cx="643.6" cy="554" r="3.6" fill="url(#oat)"/>
<circle cx="642" cy="548.4" r="2.5" fill="url(#hat)"/>
<circle cx="650.5" cy="555.3" r="2.5" fill="url(#hat)"/>
<text x="501.5" y="561" font-size="9" text-anchor="middle" fill="#333">O<tspan font-size="6" dy="2">2</tspan></text>
<text x="530" y="557" font-size="9.5" text-anchor="middle" fill="#fff" stroke="#d02020" stroke-width="0.6">O<tspan font-size="6" dy="2">2</tspan><tspan font-size="6" dy="-6">-</tspan></text>
<text x="572" y="554.5" font-size="9" text-anchor="middle" fill="#333">OOH*</text>
<text x="597.1" y="565.5" font-size="9" text-anchor="middle" fill="#333">O*</text>
<text x="625.4" y="568.6" font-size="9" text-anchor="middle" fill="#333">OH*</text>
<text x="651.4" y="567.7" font-size="9" text-anchor="middle" fill="#333">H<tspan font-size="6" dy="2">2</tspan><tspan dy="-2">O</tspan></text>
<text font-size="7.9" fill="#ffffff" stroke="#808080" stroke-width="1.5" paint-order="stroke" stroke-linejoin="round"><textPath href="#arc1" startOffset="4" textLength="152" lengthAdjust="spacing">Promote generation and protonation of O<tspan font-size="5" dy="1.5">2</tspan><tspan font-size="5" dy="-1.5">•-</tspan></textPath></text>
<text x="574.3" y="637.3" font-size="10.5" text-anchor="middle" fill="#333">pyridinic-N-type  models</text>
<ellipse cx="521" cy="719.5" rx="8" ry="14" fill="url(#coneglowb)"/>
<path d="M519.8,705 L526.5,730 Q521,732 515.5,730 Z" fill="url(#coneblue)"/>
<line x1="519.31" y1="708.85" x2="522.69" y2="708.85" stroke="#ffffff" stroke-width="0.7" opacity="0.85"/>
<line x1="518.62" y1="712.69" x2="523.38" y2="712.69" stroke="#ffffff" stroke-width="0.7" opacity="0.85"/>
<line x1="517.92" y1="716.54" x2="524.08" y2="716.54" stroke="#ffffff" stroke-width="0.7" opacity="0.85"/>
<line x1="517.23" y1="720.38" x2="524.77" y2="720.38" stroke="#ffffff" stroke-width="0.7" opacity="0.85"/>
<line x1="516.54" y1="724.23" x2="525.46" y2="724.23" stroke="#ffffff" stroke-width="0.7" opacity="0.85"/>
<line x1="515.85" y1="728.08" x2="526.15" y2="728.08" stroke="#ffffff" stroke-width="0.7" opacity="0.85"/>
<ellipse cx="557.3" cy="721" rx="8" ry="14" fill="url(#coneglowr)"/>
<path d="M556.1,706 L562.8,732 Q557.3,734 551.8,732 Z" fill="url(#conered)"/>
<line x1="555.61" y1="710" x2="558.99" y2="710" stroke="#ffffff" stroke-width="0.7" opacity="0.85"/>
<line x1="554.92" y1="714" x2="559.68" y2="714" stroke="#ffffff" stroke-width="0.7" opacity="0.85"/>
<line x1="554.22" y1="718" x2="560.38" y2="718" stroke="#ffffff" stroke-width="0.7" opacity="0.85"/>
<line x1="553.53" y1="722" x2="561.07" y2="722" stroke="#ffffff" stroke-width="0.7" opacity="0.85"/>
<line x1="552.84" y1="726" x2="561.76" y2="726" stroke="#ffffff" stroke-width="0.7" opacity="0.85"/>
<line x1="552.15" y1="730" x2="562.45" y2="730" stroke="#ffffff" stroke-width="0.7" opacity="0.85"/>
<ellipse cx="593" cy="721" rx="8" ry="14" fill="url(#coneglowb)"/>
<path d="M591.8,707 L598.5,731 Q593,733 587.5,731 Z" fill="url(#coneblue)"/>
<line x1="591.31" y1="710.69" x2="594.69" y2="710.69" stroke="#ffffff" stroke-width="0.7" opacity="0.85"/>
<line x1="590.62" y1="714.38" x2="595.38" y2="714.38" stroke="#ffffff" stroke-width="0.7" opacity="0.85"/>
<line x1="589.92" y1="718.08" x2="596.08" y2="718.08" stroke="#ffffff" stroke-width="0.7" opacity="0.85"/>
<line x1="589.23" y1="721.77" x2="596.77" y2="721.77" stroke="#ffffff" stroke-width="0.7" opacity="0.85"/>
<line x1="588.54" y1="725.46" x2="597.46" y2="725.46" stroke="#ffffff" stroke-width="0.7" opacity="0.85"/>
<line x1="587.85" y1="729.15" x2="598.15" y2="729.15" stroke="#ffffff" stroke-width="0.7" opacity="0.85"/>
<ellipse cx="627" cy="723" rx="8" ry="14" fill="url(#coneglowb)"/>
<path d="M625.8,709 L632.5,733 Q627,735 621.5,733 Z" fill="url(#coneblue)"/>
<line x1="625.31" y1="712.69" x2="628.69" y2="712.69" stroke="#ffffff" stroke-width="0.7" opacity="0.85"/>
<line x1="624.62" y1="716.38" x2="629.38" y2="716.38" stroke="#ffffff" stroke-width="0.7" opacity="0.85"/>
<line x1="623.92" y1="720.08" x2="630.08" y2="720.08" stroke="#ffffff" stroke-width="0.7" opacity="0.85"/>
<line x1="623.23" y1="723.77" x2="630.77" y2="723.77" stroke="#ffffff" stroke-width="0.7" opacity="0.85"/>
<line x1="622.54" y1="727.46" x2="631.46" y2="727.46" stroke="#ffffff" stroke-width="0.7" opacity="0.85"/>
<line x1="621.85" y1="731.15" x2="632.15" y2="731.15" stroke="#ffffff" stroke-width="0.7" opacity="0.85"/>
<path d="M503,692 510,697 516,700" fill="none" stroke="#333" stroke-width="0.9" stroke-dasharray="3,2.2"/>
<path d="M565,676 568,668 571,661" fill="none" stroke="#f08080" stroke-width="1.0" stroke-dasharray="2.5,2"/>
<circle cx="503" cy="677.7" r="3.6" fill="url(#oat)"/>
<circle cx="503.9" cy="685.9" r="3.6" fill="url(#oat)"/>
<circle cx="521.8" cy="692.8" r="3.6" fill="url(#oat)"/>
<circle cx="520.2" cy="701.6" r="3.6" fill="url(#oat)"/>
<path d="M530,706 540,706.5 548,706" fill="none" stroke="#333" stroke-width="0.9" stroke-dasharray="3,2.2"/>
<circle cx="561" cy="690.6" r="3.6" fill="url(#oat)"/>
<circle cx="557.3" cy="703.8" r="3.6" fill="url(#oat)"/>
<circle cx="570.4" cy="691.2" r="2.5" fill="url(#hat)"/>
<line x1="567.3" y1="706" x2="579.4" y2="707.5" stroke="#e02020" stroke-width="1.3"/>
<polygon points="581.4,707.5 577.4,705.7 577.4,709.3" fill="#e02020"/>
<circle cx="593" cy="703.8" r="3.6" fill="url(#oat)"/>
<path d="M602,707 612,708 620,707.5" fill="none" stroke="#333" stroke-width="0.9" stroke-dasharray="3,2.2"/>
<circle cx="627" cy="706" r="3.6" fill="url(#oat)"/>
<circle cx="634.8" cy="704.7" r="2.5" fill="url(#hat)"/>
<path d="M631,702 636,694 641,688" fill="none" stroke="#333" stroke-width="0.9" stroke-dasharray="3,2.2"/>
<circle cx="643.3" cy="684.9" r="3.6" fill="url(#oat)"/>
<circle cx="642" cy="678.6" r="2.5" fill="url(#hat)"/>
<circle cx="649.5" cy="685.9" r="2.5" fill="url(#hat)"/>
<text x="499.8" y="692.5" font-size="9" text-anchor="middle" fill="#333">O<tspan font-size="6" dy="2">2</tspan></text>
<text x="523.4" y="688" font-size="9" text-anchor="middle" fill="#333">O<tspan font-size="6" dy="2">2</tspan><tspan font-size="6" dy="-6">-</tspan></text>
<text x="572" y="685" font-size="9" text-anchor="middle" fill="#e02020">OOH*</text>
<text x="597.1" y="699" font-size="9" text-anchor="middle" fill="#333">O*</text>
<text x="625.4" y="700.5" font-size="9" text-anchor="middle" fill="#333">OH*</text>
<text x="652" y="695" font-size="9" text-anchor="middle" fill="#333">H<tspan font-size="6" dy="2">2</tspan><tspan dy="-2">O</tspan></text>
<text font-size="8.3" fill="#ffffff" stroke="#7e929c" stroke-width="1.5" paint-order="stroke" stroke-linejoin="round"><textPath href="#arc2" startOffset="3" textLength="146" lengthAdjust="spacing">facilitating the consumption of OOH*</textPath></text>
<text x="567.3" y="771.8" font-size="10.7" text-anchor="middle" fill="#333">graphitic-N-type models</text>
</svg>
</body></html>
